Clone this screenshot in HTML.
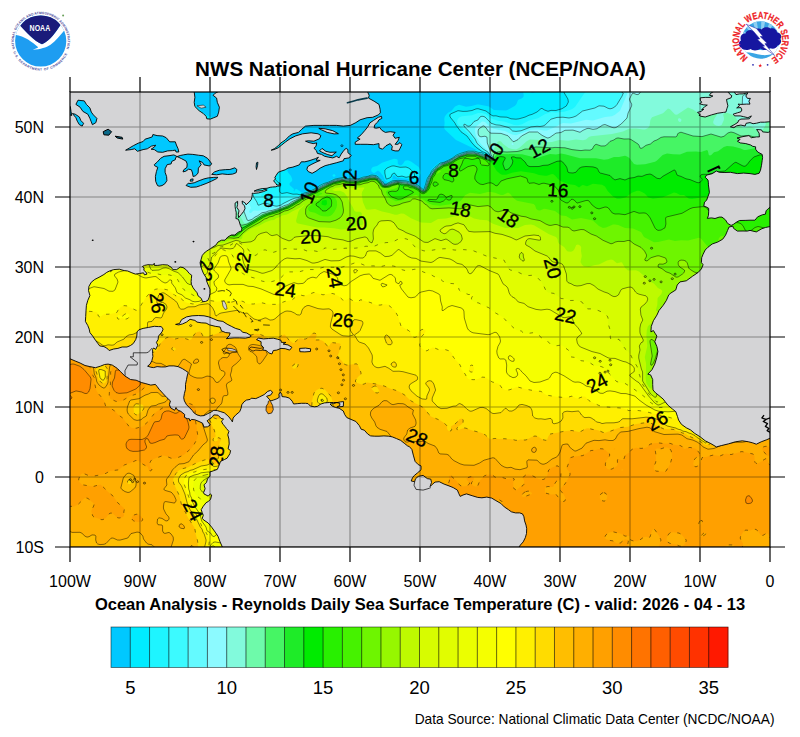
<!DOCTYPE html><html><head><meta charset="utf-8"><title>SST</title><style>html,body{margin:0;padding:0;background:#fff}svg{display:block}text{font-family:"Liberation Sans",sans-serif}</style></head><body>
<svg width="800" height="737" viewBox="0 0 800 737">
<rect width="800" height="737" fill="#fff"/>
<defs><clipPath id="mc"><rect x="70" y="92" width="700" height="455"/></clipPath></defs>
<g clip-path="url(#mc)">
<rect x="70" y="92" width="700" height="455" fill="#d4d4d6"/>
<rect x="60" y="82" width="720" height="475" fill="#00c8ff"/>
<path d="M50.0 72.0L193.7 72.0L194.1 80.0L193.5 87.0L194.6 103.0L196.7 107.0L205.0 114.5L213.0 118.0L218.0 119.3L222.0 121.7L227.0 122.2L230.0 121.3L236.2 118.0L249.0 108.5L252.0 109.5L257.0 113.4L263.0 112.9L266.2 114.0L267.4 115.0L267.6 116.0L266.5 118.0L266.3 120.0L267.0 121.2L269.0 122.6L271.0 122.9L274.0 122.0L273.8 121.0L273.0 120.5L270.8 117.0L272.0 115.9L274.0 116.5L274.8 119.0L274.0 122.0L279.0 126.3L282.0 131.7L286.0 134.0L286.4 135.0L285.8 141.0L282.4 147.0L282.9 149.0L286.4 154.0L287.1 159.0L288.5 163.0L287.3 169.0L287.4 171.0L288.4 173.0L291.0 176.0L292.2 179.0L292.1 181.0L289.7 183.0L289.6 185.0L294.0 189.0L293.6 191.0L294.0 191.6L294.8 191.0L294.4 190.0L296.0 189.1L297.0 189.3L302.0 192.7L308.0 191.3L316.0 187.4L320.0 184.5L324.0 182.5L327.3 182.0L334.0 178.3L339.0 178.0L343.0 176.7L347.0 178.1L359.0 178.1L362.0 176.6L367.0 175.9L370.0 174.3L375.0 174.2L377.0 175.1L381.0 178.6L383.4 181.0L384.3 183.0L386.0 183.2L387.7 182.0L385.0 180.4L383.0 175.7L380.0 171.9L378.0 170.6L374.0 173.2L371.9 172.0L371.3 171.0L371.2 169.0L372.8 167.0L377.0 166.0L382.0 162.7L394.0 158.8L397.0 159.2L397.6 160.0L397.9 164.0L400.0 165.5L401.6 165.0L402.8 164.0L405.0 160.8L408.0 160.3L411.0 161.4L418.7 167.0L420.3 170.0L420.8 173.0L419.7 176.0L417.4 179.0L414.0 181.3L413.0 181.3L408.0 178.9L397.0 177.7L394.0 175.2L393.0 176.0L392.0 179.4L409.0 180.4L410.0 181.2L414.0 182.2L418.0 184.3L423.0 188.5L424.0 188.1L424.6 184.0L426.0 181.3L426.5 178.0L429.4 174.0L430.4 171.0L434.0 166.8L439.0 162.6L443.0 161.7L447.3 160.0L451.4 158.0L456.0 154.5L460.0 152.7L464.0 152.0L467.0 150.5L476.9 150.0L456.0 139.9L445.3 130.0L444.1 128.0L444.6 123.0L444.3 119.0L444.6 117.0L445.9 115.0L448.0 112.8L451.4 111.0L455.0 106.6L459.0 104.8L466.0 106.7L471.6 106.0L477.0 104.4L479.0 104.4L489.0 106.6L494.0 109.9L506.0 110.4L508.0 109.7L515.0 105.7L516.5 104.0L518.0 100.1L522.0 98.3L523.4 97.0L523.7 95.0L522.9 91.0L524.8 85.0L524.2 81.0L525.2 77.0L524.7 72.0L790.0 72.0L790.0 568.0L50.0 568.0L50.0 72.0ZM534.0 89.0L531.9 90.0L531.0 92.0L531.8 93.0L535.5 92.0L536.9 91.0L536.6 90.0L534.0 89.0ZM332.6 175.0L334.0 174.1L335.4 175.0L335.5 176.0L334.0 177.0L332.5 176.0L332.6 175.0Z" fill="#00ebff" fill-rule="evenodd"/>
<path d="M50.0 72.0L187.3 72.0L184.9 78.0L184.8 81.0L186.1 88.0L188.4 95.0L189.7 107.0L191.2 110.0L200.0 116.0L207.0 123.0L215.0 127.7L219.0 128.6L227.0 128.5L237.0 130.1L241.0 130.0L246.0 132.1L251.0 131.7L254.2 133.0L257.0 137.6L260.0 141.0L261.1 146.0L264.2 150.0L264.2 153.0L262.2 158.0L262.5 161.0L264.0 163.5L271.5 171.0L272.6 176.0L273.7 178.0L279.8 184.0L279.3 190.0L279.7 192.0L282.0 193.5L287.0 192.6L293.0 194.2L297.0 194.1L300.0 194.8L308.0 192.1L316.0 188.2L320.0 185.4L324.0 183.4L328.0 182.3L335.0 179.0L343.0 177.5L348.0 178.7L359.0 178.6L363.0 177.1L368.0 176.3L372.0 175.0L376.0 175.5L378.0 176.8L382.4 181.0L384.5 184.0L386.1 184.0L392.0 181.0L394.0 180.6L406.0 180.9L414.0 183.3L418.0 185.2L423.0 189.3L424.0 189.3L427.4 178.0L430.2 174.0L431.5 171.0L435.0 167.2L440.0 163.1L444.0 162.2L448.0 160.4L452.0 158.3L456.0 155.3L460.0 153.5L468.0 151.1L475.0 151.2L478.0 152.3L482.0 152.8L484.0 154.3L488.4 156.0L488.0 154.6L486.0 153.0L482.0 151.5L475.7 147.0L472.0 143.0L467.0 136.0L461.0 131.8L450.1 117.0L449.8 115.0L450.4 114.0L458.0 110.7L463.0 111.4L467.0 111.3L472.0 110.5L476.0 108.9L478.0 108.7L486.0 111.0L491.0 114.9L493.0 115.9L496.0 115.8L500.0 116.9L507.0 117.2L511.0 118.8L516.0 119.2L525.0 117.1L532.0 114.4L537.0 112.0L541.0 108.6L542.0 108.4L544.5 110.0L548.0 111.3L551.0 110.4L556.0 110.5L562.0 108.7L566.3 106.0L568.4 102.0L567.9 99.0L564.3 93.0L563.7 91.0L565.3 85.0L564.3 79.0L565.5 77.0L568.6 75.0L569.5 72.0L574.9 72.0L570.5 76.0L570.5 78.0L572.0 78.8L575.0 76.7L576.0 74.3L576.1 72.0L790.0 72.0L790.0 568.0L50.0 568.0L50.0 72.0ZM391.9 166.0L394.0 165.9L400.0 167.3L406.0 167.0L408.5 168.0L411.0 169.7L414.0 173.1L414.6 175.0L414.0 178.2L413.0 178.4L409.0 176.7L406.0 177.3L402.0 176.1L398.0 176.7L396.7 176.0L395.0 173.4L394.0 173.1L392.3 174.0L391.0 177.0L390.0 177.8L386.8 179.0L386.0 178.6L384.8 173.0L384.9 170.0L387.0 168.0L391.9 166.0Z" fill="#1ef5ff" fill-rule="evenodd"/>
<path d="M50.0 72.0L175.8 72.0L175.7 79.0L178.4 85.0L180.0 92.8L181.8 98.0L182.6 109.0L185.1 113.0L188.0 116.0L197.0 122.6L202.0 129.1L217.0 136.2L225.0 142.0L231.0 144.5L236.0 148.2L243.8 151.0L250.0 155.9L251.8 159.0L256.0 173.0L257.4 175.0L262.6 179.0L265.5 188.0L264.8 191.0L261.1 195.0L261.0 196.1L262.0 197.1L263.0 197.1L266.0 195.8L269.0 195.7L275.0 197.9L278.0 198.2L289.0 196.7L294.0 196.3L298.0 196.6L300.0 196.0L304.0 193.8L308.0 192.6L316.0 188.8L324.0 184.1L328.0 182.8L335.0 179.5L343.0 178.1L348.0 179.2L359.0 179.1L363.0 177.6L372.0 175.5L375.0 175.8L378.0 177.4L381.8 181.0L384.0 184.2L386.0 184.4L394.0 181.2L398.0 180.9L406.0 181.5L413.0 183.6L418.0 185.8L423.0 189.9L424.0 190.0L424.7 189.0L428.1 178.0L434.0 169.0L440.0 163.8L448.0 160.9L452.0 158.9L456.0 155.9L467.0 151.9L473.0 151.6L481.0 153.4L489.6 158.0L491.2 158.0L488.0 153.2L481.6 150.0L477.0 146.0L475.2 144.0L473.4 140.0L470.0 135.3L464.8 130.0L460.0 126.6L457.6 124.0L457.1 122.0L457.3 120.0L459.0 117.4L462.0 116.3L472.0 115.3L478.0 113.1L482.0 113.1L486.0 114.2L491.0 118.2L494.0 119.6L498.0 120.7L504.0 121.5L514.0 124.9L518.0 125.2L522.0 124.2L529.0 120.6L538.0 118.2L545.2 114.0L551.6 112.0L556.0 112.6L564.0 111.7L569.0 110.3L572.2 109.0L575.0 107.0L584.0 93.8L586.7 91.0L587.4 88.0L589.9 83.0L591.1 72.0L790.0 72.0L790.0 568.0L50.0 568.0L50.0 72.0Z" fill="#3cfaff" fill-rule="evenodd"/>
<path d="M50.0 72.0L166.9 72.0L169.6 80.0L169.8 87.0L170.7 91.0L170.5 93.0L168.6 98.0L168.9 105.0L169.5 107.0L176.0 118.3L188.2 124.0L190.3 126.0L195.7 134.0L199.0 137.7L202.0 139.4L214.0 143.7L216.6 146.0L219.8 150.0L230.2 159.0L236.0 165.9L242.6 169.0L246.6 178.0L249.4 187.0L252.0 191.1L253.7 197.0L256.9 202.0L258.0 205.1L259.0 205.1L263.0 203.5L266.0 203.3L277.0 206.2L281.2 205.0L291.0 199.6L295.0 198.1L298.0 197.7L304.0 194.4L308.0 193.1L316.0 189.2L325.0 184.1L335.0 180.0L342.0 178.7L349.0 179.6L358.0 179.6L371.0 176.2L374.0 176.1L376.0 176.6L379.0 178.8L384.0 184.6L386.0 184.8L393.0 181.9L396.0 181.4L406.0 182.0L414.0 184.5L418.0 186.4L422.5 190.0L424.0 190.4L425.2 189.0L428.6 178.0L434.6 169.0L440.0 164.4L448.8 161.0L457.0 156.0L467.0 152.4L473.0 152.1L482.0 154.4L489.0 158.2L491.0 158.5L492.1 158.0L488.0 152.1L483.0 148.9L477.0 143.3L475.1 139.0L469.6 132.0L464.7 127.0L463.6 125.0L464.0 124.3L465.0 124.3L468.0 126.3L470.0 125.9L474.0 121.5L477.9 120.0L480.0 117.0L481.0 116.4L483.0 116.3L485.0 117.0L491.0 123.2L496.0 124.9L500.0 125.2L508.0 127.4L509.4 128.0L512.6 131.0L516.0 131.4L521.0 130.8L531.0 126.9L543.1 126.0L545.1 125.0L551.0 119.2L557.0 117.4L563.0 117.2L569.0 118.0L573.0 117.2L576.1 116.0L582.6 111.0L594.8 108.0L599.0 105.8L604.0 106.2L610.0 108.8L614.7 107.0L617.0 104.5L622.1 96.0L623.3 93.0L620.0 90.9L616.5 84.0L615.0 82.2L608.1 80.0L605.2 74.0L604.8 72.0L790.0 72.0L790.0 568.0L50.0 568.0L50.0 72.0ZM463.8 121.0L465.0 121.0L465.1 121.0L464.0 121.5L463.8 121.0Z" fill="#64faff" fill-rule="evenodd"/>
<path d="M50.0 72.0L157.1 72.0L156.6 77.0L159.0 81.1L159.7 84.0L157.4 93.0L157.3 97.0L160.9 103.0L163.3 112.0L167.0 118.4L169.2 124.0L172.0 126.8L182.0 130.6L183.9 132.0L186.4 137.0L190.0 140.0L195.0 146.3L199.0 148.4L206.6 151.0L217.0 158.1L222.9 164.0L226.3 170.0L230.7 174.0L235.5 180.0L239.6 187.0L243.9 197.0L249.5 204.0L250.9 208.0L249.2 211.0L249.1 212.0L250.0 213.1L251.0 213.0L253.0 210.9L254.0 210.6L258.0 210.8L262.0 209.9L271.0 209.7L274.0 208.6L278.0 208.0L284.0 204.8L287.5 204.0L292.0 200.7L298.0 198.4L305.0 194.5L312.0 191.6L325.0 184.6L335.0 180.5L342.0 179.1L349.0 180.1L358.0 180.0L371.0 176.7L374.0 176.6L378.0 178.4L384.0 185.0L386.5 185.0L393.0 182.4L397.0 181.6L406.0 182.5L414.0 184.9L418.0 186.9L422.0 190.1L424.0 190.7L425.5 189.0L429.1 178.0L435.0 169.1L441.0 164.4L449.0 161.3L457.0 156.4L467.0 152.9L472.0 152.5L475.0 152.8L481.0 154.5L489.0 158.6L491.0 158.9L492.5 158.0L490.4 155.0L489.0 151.7L480.8 144.0L476.5 137.0L475.4 134.0L474.8 130.0L475.6 127.0L482.0 121.6L483.0 121.4L485.0 122.1L489.0 126.1L493.0 128.5L499.0 130.1L505.0 131.1L512.0 134.6L516.0 135.2L531.0 129.8L538.0 129.5L544.0 130.6L547.0 130.4L556.0 126.8L561.0 123.7L563.0 123.0L571.0 123.5L586.0 119.8L593.0 120.5L605.0 117.0L612.0 116.3L615.0 114.8L620.0 110.8L627.2 94.0L627.8 91.0L627.2 87.0L627.2 81.0L627.9 79.0L630.0 76.0L630.2 72.0L790.0 72.0L790.0 568.0L50.0 568.0L50.0 72.0Z" fill="#8cfaff" fill-rule="evenodd"/>
<path d="M50.0 72.0L137.1 72.0L139.7 78.0L141.4 85.0L140.5 94.0L140.8 97.0L143.0 100.9L147.2 105.0L147.9 111.0L149.2 114.0L153.3 118.0L159.1 122.0L166.0 131.7L170.6 136.0L174.0 141.0L180.2 144.0L185.0 149.6L189.8 152.0L197.6 158.0L203.0 160.5L204.6 162.0L207.0 166.3L208.6 168.0L216.0 171.9L219.8 175.0L221.6 178.0L223.6 187.0L225.6 189.0L231.0 191.7L233.0 193.8L238.2 204.0L243.0 209.0L247.2 220.0L248.0 220.7L252.0 219.4L262.0 212.7L266.0 212.1L268.0 211.1L278.0 208.7L284.0 205.7L288.0 204.5L292.0 201.7L316.0 190.1L325.0 185.1L334.0 181.3L342.0 179.5L349.0 180.5L357.0 180.5L371.0 177.1L374.0 177.1L376.0 177.5L378.0 178.8L384.0 185.3L387.0 185.2L393.0 182.8L397.0 182.0L406.0 183.0L414.0 185.4L418.0 187.3L422.0 190.5L424.0 191.0L425.9 189.0L429.6 178.0L435.0 169.6L441.0 164.9L449.0 161.7L457.0 156.9L467.0 153.3L473.0 153.0L482.0 155.4L489.0 159.0L492.0 159.0L492.9 158.0L492.7 157.0L491.1 155.0L490.3 151.0L487.3 143.0L487.0 137.2L485.0 136.2L481.0 136.8L480.0 136.5L479.0 135.9L478.2 134.0L478.1 131.0L478.7 129.0L483.0 125.9L484.0 125.9L486.0 127.8L488.0 130.8L491.0 133.2L501.0 133.4L508.0 135.8L513.0 141.6L518.0 139.6L521.5 136.0L529.1 132.0L537.5 132.0L542.0 135.3L548.0 138.0L550.0 137.3L556.0 133.1L561.0 132.5L565.0 130.3L573.0 130.1L580.0 132.3L587.0 128.5L589.0 128.4L593.0 129.4L597.0 128.7L602.8 125.0L605.0 124.5L612.0 127.4L616.0 127.5L621.2 124.0L627.0 118.0L628.1 113.0L631.6 106.0L631.7 104.0L629.9 101.0L629.4 99.0L632.0 94.0L633.0 93.1L637.0 94.7L639.0 94.1L640.5 92.0L641.9 88.0L646.0 84.5L647.0 83.0L647.5 81.0L647.1 79.0L643.5 72.0L790.0 72.0L790.0 568.0L50.0 568.0L50.0 72.0ZM512.0 142.9L511.6 144.0L511.9 145.0L513.7 145.0L513.0 142.8L512.0 142.9ZM744.0 94.8L742.5 97.0L742.3 105.0L743.4 107.0L746.0 109.8L748.0 111.0L749.0 111.0L751.0 109.3L752.5 106.0L753.7 102.0L753.4 99.0L752.0 96.3L750.0 94.9L747.0 94.4L744.0 94.8Z" fill="#82fadc" fill-rule="evenodd"/>
<path d="M50.0 72.0L119.4 72.0L120.0 74.9L123.3 81.0L128.0 84.5L129.2 86.0L130.1 93.0L131.8 100.0L133.0 101.9L136.4 105.0L136.8 107.0L135.3 113.0L135.0 118.0L135.7 120.0L138.6 124.0L139.0 130.0L139.8 132.0L143.0 134.1L152.0 134.0L155.0 135.2L160.0 141.0L166.0 143.7L171.0 149.5L178.4 155.0L182.9 160.0L190.0 163.2L198.0 168.0L201.0 171.1L204.1 177.0L209.0 181.6L214.4 189.0L224.0 196.4L228.3 201.0L233.0 208.0L239.0 214.0L243.5 222.0L244.4 223.0L246.0 223.3L252.0 220.6L262.0 213.9L278.0 209.2L288.0 205.2L292.0 202.4L304.0 196.0L316.0 190.5L325.0 185.6L334.0 181.7L342.0 179.8L349.0 180.9L357.0 180.9L370.0 177.7L374.0 177.5L376.0 178.0L378.0 179.2L382.9 185.0L384.0 185.6L387.0 185.5L393.0 183.2L398.0 182.3L407.0 183.6L414.0 185.8L418.0 187.8L422.0 190.9L424.0 191.4L426.2 189.0L430.0 178.0L433.6 172.0L436.1 169.0L440.2 166.0L451.0 161.2L459.0 156.4L468.0 153.6L476.0 153.9L482.0 155.8L489.0 159.3L492.0 159.4L493.3 158.0L491.8 155.0L492.0 152.3L497.5 142.0L499.0 140.9L501.0 141.4L503.1 144.0L508.6 148.0L512.0 149.1L516.0 149.4L519.1 148.0L527.0 141.0L530.0 139.6L540.0 140.0L548.0 142.2L552.0 141.9L559.0 139.9L568.0 140.8L576.0 139.4L583.0 140.3L586.0 139.4L588.9 137.0L591.0 136.2L612.0 133.9L623.0 131.5L629.0 128.7L636.0 128.4L643.0 129.6L645.0 129.5L648.0 128.0L649.5 126.0L650.4 120.0L652.0 117.3L663.0 113.3L668.0 108.6L670.0 109.2L675.0 114.5L677.0 114.8L688.0 107.6L693.0 109.5L699.0 113.7L702.0 114.7L704.0 114.1L709.0 110.0L714.0 109.1L716.0 109.6L717.3 112.0L717.4 114.0L714.2 119.0L713.1 122.0L713.7 124.0L716.0 125.4L719.0 126.0L721.6 125.0L723.9 120.0L724.0 118.0L723.2 115.0L723.4 114.0L725.0 112.9L727.0 112.7L733.0 115.0L735.0 116.4L740.0 125.0L742.0 127.3L744.0 127.9L749.0 126.6L751.0 126.6L754.0 127.9L758.0 131.0L760.0 131.6L762.5 130.0L765.2 126.0L765.9 123.0L765.4 119.0L766.0 118.3L775.0 117.0L777.0 115.8L781.0 111.4L783.0 110.6L784.5 111.0L786.8 116.0L790.0 118.5L790.0 568.0L50.0 568.0L50.0 72.0ZM679.0 118.1L678.1 119.0L677.9 120.0L679.0 121.7L680.0 122.0L681.0 121.6L681.5 120.0L681.0 118.9L679.0 118.1ZM770.8 109.0L772.3 109.0L773.2 110.0L773.3 111.0L772.0 113.1L770.0 113.6L769.0 113.2L768.4 112.0L769.4 110.0L770.8 109.0Z" fill="#6efaaa" fill-rule="evenodd"/>
<path d="M50.0 72.0L87.4 72.0L90.4 79.0L92.0 81.4L97.0 84.8L100.0 88.4L104.0 90.7L105.1 92.0L110.0 104.2L113.6 109.0L115.8 116.0L118.0 118.6L122.0 121.5L125.0 127.0L130.0 133.1L146.0 145.3L154.0 148.0L159.8 151.0L166.0 158.7L172.0 160.5L179.0 168.4L187.0 174.9L192.9 179.0L199.0 182.1L207.0 189.4L212.0 195.0L218.0 199.1L224.4 206.0L228.0 211.0L233.0 215.3L239.8 224.0L240.8 225.0L242.0 225.2L247.0 224.1L263.0 214.4L278.0 209.8L288.0 205.7L304.9 196.0L316.0 190.9L325.1 186.0L334.0 182.0L342.0 180.2L349.0 181.3L357.0 181.3L370.0 178.1L374.0 177.9L376.0 178.3L378.0 179.6L382.5 185.0L384.0 185.9L387.0 185.9L393.0 183.7L398.0 182.6L402.0 183.7L408.0 184.3L414.0 186.2L418.0 188.2L422.0 191.3L424.0 191.7L425.2 191.0L426.6 189.0L431.0 177.0L434.7 171.0L436.6 169.0L442.6 165.0L451.0 161.6L459.0 156.8L467.0 154.2L472.0 153.9L476.0 154.3L482.0 156.3L488.0 159.3L491.0 159.8L493.2 159.0L493.7 158.0L493.3 155.0L495.0 153.0L497.0 152.1L500.0 151.6L507.0 152.0L517.0 151.5L525.0 149.0L532.0 149.1L534.0 147.4L536.0 146.9L552.0 147.8L565.0 147.8L572.0 149.6L581.0 150.6L585.0 150.0L590.0 150.2L592.4 149.0L594.0 145.8L596.0 144.2L601.0 146.0L605.0 145.9L606.6 145.0L610.0 141.4L614.0 139.9L616.0 138.4L618.0 137.9L624.0 139.0L629.0 138.9L631.0 139.5L638.0 144.0L640.0 148.0L641.0 148.3L642.0 148.2L646.0 145.3L650.4 144.0L654.0 141.0L657.0 139.9L661.0 137.4L664.0 136.8L676.0 136.9L677.0 136.0L677.6 134.0L678.5 133.0L681.0 132.2L693.0 136.0L702.0 136.6L711.0 134.0L721.0 137.1L724.0 136.3L728.0 132.9L731.0 132.0L734.0 132.7L741.0 136.0L749.0 135.4L757.0 137.6L779.0 132.6L790.0 132.9L790.0 568.0L50.0 568.0L50.0 72.0Z" fill="#46f564" fill-rule="evenodd"/>
<path d="M50.0 72.0L58.0 72.0L58.0 78.0L59.0 80.4L62.0 81.9L68.0 82.1L70.0 83.2L71.4 85.0L70.9 87.0L66.4 91.0L64.6 94.0L64.0 101.3L61.3 106.0L62.0 108.2L67.0 110.0L72.0 112.8L76.0 113.3L82.0 112.2L88.0 112.6L89.1 112.0L91.4 108.0L93.0 106.8L96.0 106.8L98.0 107.9L99.5 111.0L99.1 119.0L102.5 126.0L105.0 128.3L111.0 130.9L113.0 132.4L118.0 138.1L122.8 142.0L126.0 148.1L129.0 149.9L138.0 152.2L140.2 154.0L145.0 159.9L153.0 163.0L161.0 169.2L166.0 172.0L178.0 182.3L184.0 185.4L190.0 186.0L192.0 187.0L196.1 191.0L201.0 194.0L205.0 198.6L211.1 202.0L220.4 212.0L228.3 218.0L235.0 226.2L237.0 227.4L239.0 227.9L247.0 224.9L263.0 215.2L278.0 210.3L288.0 206.3L305.0 196.4L333.0 182.8L342.0 180.5L349.0 181.8L357.0 181.8L370.0 178.5L375.0 178.4L377.9 180.0L382.0 185.0L384.0 186.2L387.0 186.2L398.0 182.9L402.0 184.3L408.0 184.7L414.0 186.7L418.0 188.7L422.0 191.7L424.0 192.0L426.5 190.0L430.8 178.0L435.0 171.3L437.0 169.2L443.0 165.2L451.2 162.0L459.5 157.0L467.0 154.6L476.0 154.7L482.0 156.7L488.0 159.8L491.0 160.2L493.0 159.8L493.9 159.0L495.0 156.1L496.0 155.4L498.0 154.3L500.0 154.0L522.0 154.3L537.0 158.0L550.0 154.0L556.0 154.5L561.0 153.6L565.0 154.2L580.0 158.2L596.0 158.2L604.0 159.7L608.0 159.2L614.0 156.9L619.0 156.9L625.0 155.8L627.0 156.4L629.4 158.0L634.0 164.1L637.0 164.8L645.0 164.3L655.0 161.7L657.0 160.5L662.7 155.0L667.0 153.4L673.0 154.3L680.0 154.5L687.0 151.8L696.0 151.5L701.0 152.1L707.0 150.1L707.9 151.0L708.8 155.0L710.0 155.4L711.3 155.0L714.0 152.3L718.0 151.3L723.8 147.0L727.0 146.0L733.0 146.5L740.0 148.3L744.0 149.9L746.0 150.0L763.0 146.6L767.0 143.8L769.0 143.3L774.0 144.2L779.0 146.1L786.0 146.9L790.0 148.9L790.0 568.0L50.0 568.0L50.0 72.0Z" fill="#1eeb28" fill-rule="evenodd"/>
<path d="M50.0 120.0L51.0 120.0L52.4 121.0L53.7 123.0L54.2 125.0L53.0 127.7L50.0 129.2L50.0 120.0ZM75.4 136.0L78.0 135.3L81.0 138.2L87.0 138.3L89.0 139.0L91.8 141.0L94.0 143.9L95.5 145.0L101.0 145.1L108.0 147.2L111.7 150.0L117.0 152.7L121.0 157.0L129.4 160.0L141.0 171.2L151.0 175.0L153.9 179.0L158.0 181.7L160.2 185.0L162.3 187.0L174.0 191.0L179.0 194.5L188.0 198.1L196.0 204.3L208.0 209.1L215.0 215.9L225.0 222.6L231.1 229.0L232.7 233.0L234.0 234.2L235.0 233.9L240.8 229.0L263.0 215.9L277.0 211.2L288.0 206.9L302.0 198.5L325.0 187.0L334.0 182.8L342.0 180.9L349.0 182.2L357.0 182.2L370.0 178.9L375.0 178.8L377.4 180.0L380.0 182.6L382.0 185.6L384.0 186.6L388.0 186.4L398.0 183.3L401.0 184.8L407.0 184.9L414.0 187.1L418.0 189.1L422.0 192.2L424.0 192.5L426.1 191.0L427.6 189.0L431.3 178.0L437.0 169.7L443.0 165.7L447.0 164.5L452.0 162.1L456.0 159.2L460.0 157.2L467.0 155.0L476.0 155.2L482.0 157.1L488.0 160.3L491.0 160.9L494.0 160.3L499.0 156.8L504.4 157.0L505.3 158.0L505.0 159.0L503.3 162.0L502.9 164.0L504.6 169.0L505.0 169.7L506.0 169.9L508.0 169.2L510.0 167.5L512.2 164.0L512.9 161.0L511.4 158.0L511.6 157.0L513.0 156.7L516.0 157.8L520.7 158.0L525.1 162.0L527.0 165.1L530.0 166.6L539.0 166.5L543.0 165.4L548.0 165.1L557.0 161.3L561.0 160.9L562.7 162.0L566.0 166.0L567.9 172.0L570.0 173.0L573.0 173.0L576.0 172.2L579.0 168.4L581.8 167.0L586.0 166.5L594.0 167.1L597.0 168.2L598.3 171.0L600.2 173.0L610.0 175.5L613.4 179.0L615.0 179.9L620.0 178.6L625.0 180.0L629.0 178.2L634.0 177.6L638.0 176.1L642.0 176.4L646.0 174.7L650.0 174.0L652.0 174.8L657.0 178.3L660.0 178.7L663.0 176.2L674.0 170.0L675.6 171.0L677.0 175.0L686.0 178.8L690.0 179.6L698.0 182.8L700.0 182.3L702.2 180.0L702.1 179.0L700.0 176.0L701.0 174.8L708.0 174.4L718.0 171.7L725.0 171.0L733.0 163.9L736.0 162.3L743.0 166.0L745.0 166.3L747.0 164.8L749.8 161.0L754.0 156.9L759.0 154.9L761.0 154.8L763.0 155.5L767.0 160.1L768.8 163.0L768.8 165.0L766.5 172.0L766.8 174.0L769.0 176.0L773.0 177.1L776.0 176.7L777.8 175.0L780.0 171.0L782.0 170.4L785.0 170.7L790.0 172.2L790.0 568.0L50.0 568.0L50.0 138.6L58.0 137.0L63.0 138.9L69.0 139.1L72.0 138.2L75.4 136.0Z" fill="#00eb00" fill-rule="evenodd"/>
<path d="M79.1 153.0L81.0 152.3L83.0 153.7L86.3 159.0L87.6 164.0L89.0 165.7L92.0 166.3L98.0 163.9L105.0 162.1L107.0 162.2L115.0 168.0L119.5 175.0L123.0 177.8L127.0 179.8L138.0 183.6L144.0 189.9L151.0 190.5L160.0 194.4L167.0 196.0L178.0 202.7L191.0 212.0L199.0 214.4L211.0 221.4L217.0 222.9L220.0 224.3L229.0 231.2L231.7 234.0L234.0 235.2L236.7 234.0L244.1 228.0L263.0 216.7L288.0 207.5L302.0 199.0L316.0 192.4L326.0 187.0L334.0 183.2L339.0 182.4L342.0 181.3L344.0 181.3L348.0 182.6L357.0 182.7L367.0 180.5L370.0 179.3L375.0 179.2L378.0 181.0L381.9 186.0L383.0 186.7L388.0 186.8L398.0 183.7L401.0 186.0L407.0 185.4L414.0 187.6L418.0 189.7L422.0 192.7L424.0 192.9L426.7 191.0L428.7 188.0L431.8 178.0L437.2 170.0L443.3 166.0L448.0 164.7L452.0 162.7L456.0 159.7L460.0 157.8L468.0 155.5L476.0 155.7L478.0 156.8L482.0 157.7L486.7 160.0L491.5 163.0L496.8 171.0L500.0 173.8L502.0 174.7L506.0 174.7L513.0 172.6L521.0 171.3L534.0 173.2L539.0 174.9L545.0 175.8L547.0 175.8L551.0 174.2L553.0 173.9L555.0 175.5L558.0 179.1L561.0 181.3L569.0 184.3L575.0 185.0L579.0 187.6L582.0 185.3L583.0 185.0L587.0 186.3L593.0 183.7L602.0 184.8L605.0 186.6L607.7 191.0L613.0 196.6L617.0 198.8L620.0 198.7L626.0 197.2L631.4 193.0L637.0 190.7L639.0 190.8L642.0 192.0L645.0 193.8L648.0 197.3L653.0 198.7L663.0 197.3L674.0 192.5L676.4 193.0L680.0 195.1L684.0 195.1L689.0 198.7L692.0 198.9L707.0 196.4L710.2 195.0L713.5 192.0L716.0 191.5L728.0 195.0L730.0 194.9L734.0 193.6L737.0 193.9L740.4 197.0L741.3 201.0L744.0 204.5L752.8 211.0L759.0 211.9L761.1 211.0L762.1 209.0L761.2 207.0L754.4 198.0L754.0 192.0L755.0 189.7L759.0 187.6L772.0 194.1L774.0 193.6L778.0 190.9L780.0 190.7L782.0 191.6L783.5 193.0L784.8 197.0L784.6 198.0L782.0 200.4L781.3 202.0L781.0 205.0L781.8 207.0L784.0 208.6L790.0 207.3L790.0 568.0L50.0 568.0L50.0 161.7L55.0 161.4L62.0 164.0L64.0 164.1L65.0 163.6L69.0 158.5L79.1 153.0ZM325.0 200.0L322.0 200.7L321.4 204.0L322.0 204.8L325.0 205.5L326.0 205.2L327.0 204.0L326.8 201.0L326.3 200.0L325.0 200.0Z" fill="#28f000" fill-rule="evenodd"/>
<path d="M465.6 157.0L467.0 156.4L474.0 156.2L476.0 156.6L478.0 157.9L481.0 158.0L486.0 160.4L489.2 164.0L489.0 165.1L488.0 165.8L481.7 165.0L480.6 164.0L480.0 160.0L479.0 158.6L478.0 158.2L472.0 159.5L468.0 158.5L465.0 158.3L463.2 160.0L459.4 169.0L459.3 170.0L460.0 171.0L462.0 170.5L468.0 166.6L473.0 165.4L475.4 166.0L476.9 168.0L477.0 170.0L474.9 176.0L474.8 179.0L476.9 182.0L480.0 184.1L483.0 184.6L488.0 183.0L491.0 182.8L496.0 185.8L497.0 185.7L498.0 185.0L501.0 181.0L507.0 178.8L520.4 176.0L526.5 178.0L527.2 179.0L528.0 182.2L529.0 183.3L534.0 182.8L539.0 184.5L544.0 183.2L554.0 185.5L558.1 190.0L559.7 193.0L560.3 195.0L560.1 199.0L561.0 200.1L566.0 202.9L568.0 202.9L572.0 199.1L574.2 200.0L577.0 203.1L586.0 200.5L588.0 200.4L589.0 201.0L592.1 205.0L596.0 208.0L599.0 208.9L605.0 207.0L607.0 207.2L608.4 208.0L612.3 213.0L615.0 214.0L619.0 213.9L625.0 214.7L634.0 211.4L639.0 213.2L646.0 213.3L648.0 215.0L650.2 218.0L655.0 228.0L658.0 230.4L661.0 230.1L665.0 227.8L665.9 224.0L665.6 218.0L666.4 217.0L682.0 213.3L690.0 208.7L693.0 207.6L703.0 206.6L706.0 207.2L709.0 211.2L712.0 213.3L714.0 213.8L719.0 213.6L730.0 220.8L734.0 222.3L739.0 222.9L741.0 223.8L743.0 225.7L745.1 230.0L747.0 231.6L750.0 231.3L755.0 227.5L758.0 226.5L762.0 227.4L770.0 230.3L774.0 230.3L779.0 228.7L783.0 223.6L785.0 222.0L787.0 221.6L790.0 221.9L790.0 568.0L50.0 568.0L50.0 170.8L53.0 170.6L55.0 171.0L61.7 177.0L66.0 178.7L75.0 178.7L82.0 177.1L90.0 177.0L97.0 178.3L100.0 177.4L102.0 177.6L106.0 183.0L128.0 192.0L137.0 196.9L145.0 200.4L153.0 202.7L160.0 205.7L166.0 206.4L172.0 209.5L177.0 210.3L185.0 216.3L192.0 218.8L199.0 223.0L205.0 225.4L219.0 228.8L230.7 235.0L234.0 236.1L237.0 235.1L245.6 228.0L263.8 217.0L268.0 215.1L278.0 212.1L284.0 209.3L288.0 208.2L298.0 202.4L302.0 199.5L316.0 193.0L326.0 187.6L334.0 183.7L339.0 182.9L342.0 181.7L344.0 181.8L348.0 183.1L358.0 183.2L362.0 181.8L368.0 180.7L370.0 179.7L375.0 179.7L376.1 180.0L378.3 182.0L382.0 186.8L385.0 187.5L389.0 187.1L392.0 185.7L398.0 184.1L399.5 186.0L398.0 190.3L396.0 191.4L392.0 191.2L389.0 191.8L388.4 193.0L392.0 197.1L398.0 199.2L403.0 198.3L412.9 193.0L413.5 192.0L409.0 189.7L404.0 189.1L403.2 187.0L404.2 186.0L407.2 186.0L410.0 187.6L413.3 188.0L417.4 190.0L422.0 193.6L424.0 193.7L427.0 191.6L429.6 188.0L430.1 185.0L431.8 182.0L432.6 178.0L434.9 175.0L436.1 172.0L438.0 170.0L441.0 168.6L444.0 166.3L448.0 165.5L452.0 163.5L456.8 160.0L461.0 158.2L465.0 157.7L465.6 157.0ZM327.0 196.9L321.7 199.0L316.0 204.0L316.8 206.0L319.0 207.2L323.0 211.0L326.0 210.9L330.8 207.0L331.4 206.0L331.4 200.0L330.0 198.0L327.0 196.9ZM435.0 181.9L434.0 182.1L432.9 184.0L433.8 186.0L435.0 186.4L437.9 185.0L438.4 184.0L437.0 182.4L435.0 181.9ZM439.0 194.9L437.1 199.0L436.0 199.7L429.0 199.4L427.8 200.0L428.5 201.0L430.0 201.4L440.0 202.4L443.5 201.0L446.0 198.6L448.0 200.0L450.4 200.0L452.2 197.0L452.0 195.6L451.0 195.4L446.0 197.6L445.1 196.0L443.0 194.6L441.0 194.1L439.0 194.9ZM445.0 173.8L443.7 175.0L442.9 177.0L444.0 179.6L449.0 180.7L451.9 182.0L453.0 181.8L453.7 181.0L453.8 179.0L452.1 176.0L448.0 173.7L446.0 173.4L445.0 173.8Z" fill="#46f200" fill-rule="evenodd"/>
<path d="M438.5 171.0L440.0 170.6L441.3 171.0L438.0 173.5L437.0 173.4L438.5 171.0ZM368.9 181.0L372.0 180.0L376.0 180.7L379.3 184.0L381.0 186.9L383.0 187.8L390.0 187.6L392.9 186.0L398.0 184.9L398.3 186.0L397.0 187.7L393.0 189.2L388.0 190.1L386.5 191.0L386.0 192.0L386.9 195.0L390.0 198.6L396.0 201.2L403.0 200.1L410.0 196.5L416.0 195.1L417.0 195.3L419.9 198.0L424.0 199.9L427.8 203.0L433.0 205.0L440.0 205.7L454.0 203.7L458.0 202.5L461.0 200.4L465.3 195.0L470.0 192.7L480.0 193.9L488.0 192.0L491.0 191.9L495.0 192.8L501.0 195.1L503.0 194.9L508.0 192.5L510.0 193.7L513.4 198.0L517.0 200.7L533.6 204.0L535.0 205.2L536.3 209.0L538.0 210.3L540.0 210.4L544.0 208.8L546.0 208.9L555.0 211.0L561.0 215.6L566.0 216.0L572.0 219.4L581.0 218.1L592.0 220.3L594.0 221.4L599.0 226.0L603.0 227.9L606.0 227.6L613.0 224.6L615.0 224.4L618.3 225.0L625.0 228.1L633.0 228.5L641.0 232.0L644.0 237.0L654.0 242.2L658.0 242.0L669.0 239.6L675.0 241.1L681.0 240.3L688.0 240.5L699.0 237.8L701.0 238.6L707.2 246.0L712.0 248.2L716.0 251.1L718.0 251.7L720.0 251.2L721.7 250.0L723.3 247.0L723.0 244.8L719.0 242.6L718.0 241.0L719.0 237.9L721.0 236.0L722.0 235.8L729.8 239.0L731.3 243.0L732.7 245.0L737.2 249.0L740.0 250.3L745.0 250.7L750.0 251.9L754.0 251.8L759.0 255.1L763.6 255.0L767.0 254.0L768.0 253.0L768.3 251.0L767.9 247.0L769.0 245.4L771.0 244.8L774.0 245.9L778.6 250.0L782.0 251.8L790.0 253.3L790.0 568.0L50.0 568.0L50.0 185.3L54.0 185.1L59.0 188.3L64.0 189.8L68.0 192.4L70.0 192.9L72.0 192.9L77.0 190.7L82.0 189.4L87.0 190.3L95.0 189.6L105.0 192.5L111.0 192.5L115.2 195.0L121.0 200.2L136.0 209.3L138.0 209.4L142.0 208.2L144.0 208.5L149.3 211.0L157.7 216.0L170.0 218.1L179.7 224.0L189.0 225.4L200.0 230.9L217.0 233.5L224.0 235.4L234.0 237.2L238.0 236.0L247.0 228.0L256.0 223.0L260.0 220.0L264.0 217.8L268.0 215.9L278.0 213.0L284.0 209.9L288.0 209.0L292.0 207.0L296.0 204.0L299.0 202.7L302.4 200.0L315.0 194.1L316.5 194.0L316.0 196.2L318.5 196.0L320.0 194.7L322.2 194.0L322.0 193.0L320.0 192.6L319.7 192.0L334.7 184.0L339.0 183.6L343.0 182.1L347.0 183.6L359.0 183.8L363.0 182.2L367.0 181.7L368.9 181.0ZM327.0 195.0L325.0 195.6L323.6 197.0L318.0 200.5L314.0 201.2L312.0 204.5L308.6 207.0L308.1 209.0L309.0 210.8L310.0 211.7L315.0 212.8L320.0 215.5L323.0 216.3L328.0 216.5L330.0 216.0L332.0 214.7L334.3 212.0L336.4 208.0L337.1 205.0L336.9 201.0L335.3 198.0L333.0 196.3L330.0 195.1L327.0 195.0ZM318.1 193.0L319.0 192.6L319.7 193.0L319.0 193.3L318.1 193.0Z" fill="#6ef500" fill-rule="evenodd"/>
<path d="M369.6 182.0L371.0 181.3L374.0 181.4L377.0 183.5L378.8 186.0L379.4 188.0L381.4 190.0L382.4 194.0L385.0 198.0L387.0 202.8L389.5 205.0L392.0 206.2L399.0 204.7L402.9 203.0L409.0 201.6L410.5 201.0L412.6 199.0L415.0 198.8L421.9 201.0L424.7 204.0L426.5 205.0L429.7 208.0L432.0 208.8L449.0 207.9L460.0 208.8L470.0 204.9L478.0 206.6L488.0 205.6L491.0 207.0L493.5 210.0L495.1 211.0L498.0 211.8L505.0 210.1L507.0 210.2L511.0 212.8L521.0 216.2L526.0 216.9L531.0 218.9L540.0 220.6L549.0 225.3L557.0 224.6L563.0 227.1L568.0 227.2L572.0 230.3L574.0 231.0L581.0 229.5L584.0 229.7L591.0 234.0L596.4 236.0L603.0 240.3L611.0 243.8L613.0 243.3L615.0 242.1L618.0 241.4L624.0 241.5L628.0 240.4L630.0 240.7L634.1 244.0L641.0 247.4L644.5 251.0L646.6 255.0L646.3 257.0L645.0 259.0L645.0 260.4L647.0 261.0L651.0 257.7L657.0 255.9L659.0 255.8L665.6 258.0L666.9 261.0L666.0 263.0L663.0 264.2L659.0 264.0L658.2 265.0L658.1 267.0L662.0 268.7L666.0 271.8L670.0 273.2L676.0 277.2L678.1 277.0L682.5 274.0L684.7 271.0L684.4 270.0L680.0 267.1L678.3 265.0L678.1 262.0L679.0 260.9L681.0 260.1L684.0 260.3L686.0 261.3L687.3 263.0L688.7 268.0L689.5 269.0L694.0 271.9L696.0 272.6L705.0 272.0L711.0 268.6L717.0 267.2L720.0 268.3L724.0 274.0L726.0 275.0L729.0 275.3L733.0 274.6L739.0 270.1L745.0 268.4L747.0 268.4L751.0 270.1L753.0 270.4L761.0 270.2L767.0 268.9L772.0 270.1L776.0 268.9L783.0 270.6L790.0 269.3L790.0 568.0L50.0 568.0L50.0 206.7L70.0 209.1L77.0 205.8L82.0 201.3L85.0 199.7L93.0 200.2L100.0 201.5L107.0 201.8L109.4 203.0L114.0 207.4L121.0 208.9L129.8 217.0L135.0 220.4L137.0 221.0L142.0 220.8L146.0 222.5L152.0 223.1L157.0 225.9L164.0 227.6L172.0 231.2L181.0 232.7L191.0 236.0L222.0 238.8L230.0 237.8L234.0 238.3L239.0 237.4L242.9 233.0L248.0 228.7L260.0 222.2L264.6 219.0L267.0 218.3L269.0 217.0L273.0 216.2L275.0 214.9L279.0 213.9L284.5 211.0L288.0 210.3L293.0 207.8L297.0 205.0L299.0 204.3L303.0 201.0L311.0 197.5L312.5 199.0L312.8 200.0L312.5 201.0L311.0 203.1L307.2 206.0L305.7 209.0L305.6 214.0L307.1 217.0L309.0 218.1L319.0 221.6L330.0 222.0L336.0 220.2L340.0 217.9L343.2 213.0L343.5 210.0L342.2 202.0L340.0 198.0L336.4 195.0L333.0 193.8L325.7 193.0L325.1 192.0L326.0 190.0L334.9 185.0L340.0 184.4L343.0 183.4L347.0 184.7L360.0 184.8L369.6 182.0ZM651.0 339.3L650.0 340.8L650.0 342.0L652.2 356.0L650.5 364.0L651.0 365.3L652.0 365.0L653.5 363.0L655.5 358.0L658.0 349.0L657.4 346.0L655.0 342.2L653.0 340.0L651.0 339.3ZM316.7 198.0L318.0 197.7L318.8 198.0L318.0 198.9L317.0 198.9L316.7 198.0Z" fill="#96f700" fill-rule="evenodd"/>
<path d="M335.4 188.0L342.0 187.1L354.0 187.7L364.0 187.4L364.4 188.0L362.1 192.0L361.7 194.0L362.9 202.0L366.0 209.3L368.0 209.8L375.0 209.0L382.0 211.6L389.0 212.9L395.0 214.7L397.0 214.7L401.0 213.6L404.0 213.8L411.0 218.2L421.0 222.4L431.0 222.9L438.0 219.1L446.0 218.5L460.0 214.9L465.0 214.2L467.0 214.7L474.0 218.6L480.0 219.7L487.0 220.2L493.0 223.8L505.2 228.0L518.0 227.9L525.0 225.0L531.0 224.6L534.0 225.2L549.0 234.2L556.0 237.0L557.5 239.0L558.0 242.0L559.0 243.7L564.1 247.0L567.0 251.0L568.0 251.5L571.0 251.8L573.0 250.9L574.5 249.0L576.2 245.0L578.0 244.6L580.0 245.4L581.2 247.0L581.0 251.0L581.8 256.0L580.5 262.0L582.0 264.8L584.0 266.4L589.0 266.9L594.0 265.2L599.0 264.5L607.0 260.5L611.0 259.5L613.0 260.0L617.0 263.2L621.0 262.2L622.0 262.5L625.1 268.0L628.0 270.4L636.0 270.3L639.0 271.5L644.2 276.0L648.0 280.5L654.0 283.5L657.9 288.0L661.0 289.6L662.3 291.0L661.4 294.0L657.6 298.0L657.3 305.0L655.9 310.0L656.2 311.0L657.0 311.5L664.0 312.4L666.8 308.0L669.0 307.1L678.0 306.0L685.0 306.9L690.0 305.3L696.0 306.1L702.0 304.7L704.6 303.0L708.0 297.6L710.0 295.4L715.0 293.3L721.0 294.0L725.0 295.8L737.0 298.2L742.8 298.0L747.8 297.0L752.0 294.5L765.0 295.8L770.0 295.5L773.5 294.0L776.5 290.0L780.0 287.9L785.0 287.0L790.0 288.2L790.0 568.0L50.0 568.0L50.0 216.1L54.0 216.2L59.0 218.0L64.0 218.9L76.0 217.6L84.0 218.8L90.0 220.9L95.0 220.7L101.0 218.6L110.0 224.0L112.0 224.7L115.0 225.0L121.0 224.5L125.6 227.0L135.0 230.2L151.0 232.2L159.0 235.4L166.0 237.3L175.0 241.5L181.0 242.5L210.0 242.3L219.0 242.4L222.0 243.1L230.0 240.0L236.0 239.2L241.0 239.2L242.2 238.0L242.4 236.0L243.8 234.0L251.0 228.8L259.0 225.7L266.0 221.9L271.0 220.3L274.0 219.9L276.6 218.0L280.0 217.0L282.0 215.6L286.0 214.7L289.0 213.4L292.0 211.4L301.0 207.3L304.0 204.4L304.4 205.0L304.0 205.6L300.0 209.1L298.3 212.0L296.0 221.0L296.9 223.0L298.0 223.6L317.0 227.5L324.0 227.5L334.0 228.3L341.0 229.6L346.0 229.2L357.0 225.9L362.3 225.0L363.3 224.0L363.4 223.0L361.9 218.0L361.7 213.0L360.0 211.8L356.0 211.8L354.5 211.0L352.7 207.0L349.6 202.0L347.5 197.0L344.0 192.6L340.0 190.8L335.0 191.0L332.0 190.1L335.4 188.0ZM651.0 323.4L648.0 326.1L646.8 330.0L646.4 336.0L647.3 346.0L644.8 357.0L646.1 364.0L645.7 378.0L646.3 383.0L649.0 387.2L651.0 388.7L652.0 388.4L655.0 383.7L660.0 379.7L662.3 376.0L663.0 373.0L663.3 367.0L667.2 354.0L667.1 347.0L669.0 343.0L669.1 338.0L671.9 329.0L671.3 327.0L670.0 326.1L663.0 325.9L660.0 325.3L656.0 323.5L651.0 323.4Z" fill="#befa00" fill-rule="evenodd"/>
<path d="M380.2 221.0L389.0 220.4L391.0 220.9L394.2 223.0L398.0 228.6L406.0 232.6L415.0 236.1L423.8 242.0L425.0 242.3L428.0 242.4L435.0 238.6L441.0 240.7L446.0 239.0L453.0 243.9L455.0 244.4L457.6 244.0L461.0 241.6L462.3 239.0L461.4 235.0L459.0 232.1L454.0 229.5L452.0 229.1L449.6 230.0L446.0 233.3L444.0 233.8L440.9 232.0L440.1 231.0L440.1 230.0L446.0 226.1L451.0 225.6L458.0 222.9L464.0 224.8L468.0 230.7L469.0 231.4L474.0 232.0L490.0 231.6L495.0 233.3L502.0 234.4L511.0 237.4L516.0 239.9L525.0 236.0L534.0 235.0L539.0 235.7L540.3 237.0L540.6 240.0L539.0 240.2L530.0 238.6L528.0 238.9L526.7 240.0L525.8 242.0L525.5 244.0L526.0 245.0L530.0 247.2L535.0 251.0L547.1 256.0L548.4 257.0L551.0 260.6L553.0 262.0L560.0 263.1L562.1 264.0L563.6 266.0L566.4 274.0L566.8 281.0L568.0 282.6L574.0 285.4L577.0 286.0L581.0 285.6L587.0 283.6L590.0 283.5L594.0 285.6L598.0 289.1L608.0 293.2L612.0 295.9L614.0 296.6L616.0 296.4L618.4 295.0L620.9 290.0L621.9 289.0L630.0 287.1L633.0 288.3L635.5 292.0L637.0 293.3L646.0 295.9L647.6 298.0L647.2 301.0L645.0 304.0L641.1 307.0L640.3 309.0L640.9 315.0L642.8 320.0L640.7 324.0L639.9 328.0L639.9 332.0L640.3 334.0L643.3 340.0L643.0 341.7L641.0 342.8L639.3 346.0L640.0 350.0L638.8 355.0L638.7 358.0L642.6 372.0L642.6 381.0L650.7 394.0L655.0 397.4L656.1 397.0L659.6 389.0L666.6 382.0L676.5 366.0L680.4 362.0L681.6 359.0L682.3 353.0L683.6 350.0L686.7 347.0L689.0 342.9L690.0 342.2L695.0 341.2L697.3 340.0L704.0 333.0L709.0 331.5L715.0 332.9L721.0 330.4L726.0 330.7L728.0 330.1L729.2 328.0L731.4 316.0L733.0 314.3L735.0 313.5L738.0 313.6L741.0 317.0L743.0 318.2L751.0 318.1L757.0 321.4L759.0 321.9L761.0 321.2L761.8 320.0L763.6 311.0L766.0 308.7L768.0 308.6L770.0 309.2L772.0 310.6L775.0 314.2L779.0 315.9L782.0 315.3L787.0 311.4L790.0 310.3L790.0 568.0L50.0 568.0L50.0 230.2L55.0 231.0L62.0 233.9L68.0 232.3L74.0 232.4L82.0 230.7L90.0 231.1L97.0 233.1L100.0 233.3L105.0 230.5L107.0 230.1L112.0 232.7L116.0 233.8L120.3 238.0L123.0 239.5L127.0 239.9L134.0 238.9L141.0 240.1L146.0 240.1L149.0 241.0L153.0 241.4L156.0 242.6L161.0 246.4L169.0 248.1L177.0 252.3L182.0 252.9L190.0 251.7L195.0 251.7L208.0 248.3L213.0 247.9L218.0 245.5L223.0 245.1L236.0 240.3L239.0 241.0L242.0 242.7L251.0 241.8L254.5 240.0L258.0 234.9L261.0 233.4L266.0 232.1L272.0 235.7L277.0 234.6L282.0 238.2L289.0 240.9L291.8 240.0L294.0 237.5L296.0 236.9L309.0 235.6L318.0 235.7L328.0 236.7L333.0 238.5L343.0 239.9L348.0 241.6L351.0 241.2L356.0 238.9L365.0 236.9L367.3 238.0L368.9 241.0L369.9 242.0L372.0 242.9L373.4 239.0L373.0 233.0L373.5 230.0L377.1 225.0L378.6 222.0L380.2 221.0ZM521.0 252.7L519.8 254.0L519.2 257.0L522.0 260.6L523.0 261.1L524.0 260.9L524.4 260.0L523.4 257.0L523.2 254.0L522.0 252.6L521.0 252.7Z" fill="#d7fc00" fill-rule="evenodd"/>
<path d="M398.6 239.0L404.0 238.5L408.0 239.4L410.3 241.0L415.1 247.0L420.0 249.6L424.0 250.9L428.0 251.0L442.0 248.8L448.0 248.8L455.0 250.1L463.0 249.6L471.0 250.0L479.0 252.7L487.0 256.3L497.0 258.7L503.0 259.6L504.6 261.0L508.1 268.0L510.0 269.9L517.0 271.6L523.9 275.0L533.0 275.2L536.0 276.6L541.4 282.0L546.0 290.8L548.0 292.6L554.0 293.4L561.0 298.5L567.0 299.0L570.0 300.5L575.0 300.4L581.0 301.6L582.9 303.0L584.6 307.0L586.0 308.2L588.0 308.9L592.0 308.9L598.0 310.4L604.9 314.0L607.0 315.8L608.1 318.0L608.2 324.0L610.8 332.0L610.2 337.0L610.8 339.0L613.0 339.7L619.0 339.3L625.0 348.7L630.0 353.5L633.0 360.0L637.0 366.3L638.3 372.0L639.9 376.0L641.1 382.0L649.0 394.1L657.0 402.0L658.0 401.8L661.0 399.0L665.2 393.0L669.1 389.0L675.0 381.1L677.0 379.9L683.0 378.3L686.0 372.8L690.6 371.0L691.9 370.0L692.5 363.0L694.0 359.0L696.0 356.7L698.0 356.4L703.0 357.3L706.0 357.2L708.3 356.0L711.0 351.6L713.0 350.3L720.0 351.0L723.0 350.2L729.1 347.0L737.2 339.0L741.0 336.6L743.0 336.6L747.0 337.9L757.0 337.7L760.0 336.8L764.0 334.0L767.0 333.4L773.0 336.4L780.0 334.4L782.0 334.4L790.0 338.6L790.0 568.0L50.0 568.0L50.0 242.7L55.0 242.2L61.0 243.7L66.0 243.3L70.0 244.0L76.0 242.2L84.0 241.6L92.0 244.3L106.0 243.3L111.0 245.0L123.0 245.9L127.0 246.7L133.0 246.1L140.0 249.6L148.0 251.1L154.0 254.2L158.8 258.0L164.9 260.0L172.0 261.0L179.4 264.0L191.0 265.1L196.0 264.4L201.0 267.1L205.0 264.4L208.7 263.0L209.2 261.0L207.8 258.0L208.0 256.0L210.0 254.0L214.3 253.0L216.7 249.0L218.0 248.0L220.5 247.0L230.0 245.3L236.0 241.4L238.0 242.0L246.0 246.7L252.0 254.5L254.0 255.7L256.0 255.2L261.0 251.1L264.0 249.9L266.0 250.0L270.0 252.6L272.0 252.8L285.0 248.6L296.0 249.2L301.0 248.6L307.0 251.0L314.0 250.8L320.0 252.0L322.0 251.0L325.0 248.0L331.0 249.6L346.0 248.2L355.0 248.2L361.0 247.5L366.0 246.2L373.0 246.8L380.0 243.7L386.0 242.6L392.0 242.4L398.6 239.0Z" fill="#e1fd00" fill-rule="evenodd"/>
<path d="M235.9 244.0L237.0 243.7L238.0 244.4L242.2 248.0L243.6 250.0L243.8 252.0L242.6 259.0L244.0 264.0L246.8 269.0L256.0 271.2L262.0 273.3L264.0 273.1L272.0 270.5L275.1 268.0L277.4 265.0L281.6 261.0L284.3 259.0L287.0 258.0L295.0 258.8L300.0 258.5L307.0 260.6L312.0 263.0L314.0 263.1L318.0 262.3L325.0 259.4L331.0 260.9L339.0 260.7L346.0 257.1L350.0 255.9L354.0 256.2L360.0 258.0L363.0 258.0L365.4 256.0L367.0 251.6L369.0 250.9L376.0 250.9L380.3 253.0L385.0 256.6L389.0 256.3L392.0 255.3L398.0 249.7L399.0 249.5L408.0 256.5L411.8 258.0L416.0 258.4L421.0 261.1L431.0 262.5L433.0 261.8L438.0 258.1L440.0 257.4L450.0 259.0L457.0 263.3L462.0 264.4L466.1 268.0L468.5 273.0L470.0 273.9L472.0 272.9L477.0 266.2L480.0 265.6L489.0 270.4L498.0 274.0L503.0 283.8L506.1 286.0L507.8 288.0L509.2 293.0L510.4 295.0L512.0 296.7L515.0 298.3L518.3 302.0L524.0 303.4L528.0 306.7L536.0 309.4L541.0 310.0L547.0 309.2L550.0 309.7L563.0 317.5L571.1 317.0L572.0 317.8L574.4 324.0L578.0 327.8L581.6 333.0L581.6 334.0L577.7 337.0L576.6 339.0L577.3 343.0L579.0 345.9L581.0 347.2L592.0 351.6L600.0 353.5L608.0 357.8L615.0 358.4L623.0 361.4L626.0 362.0L632.0 365.1L634.3 368.0L634.3 371.0L633.8 372.0L630.6 374.0L629.8 375.0L629.9 376.0L639.0 382.7L648.6 396.0L654.8 403.0L658.0 405.1L660.0 404.6L669.2 400.0L675.5 395.0L681.0 389.6L687.0 387.4L691.0 383.6L697.0 381.2L706.0 374.9L712.4 372.0L716.6 369.0L718.6 366.0L720.0 364.9L728.0 362.6L734.0 362.5L744.0 360.8L750.0 358.7L756.0 358.5L758.0 357.0L759.8 354.0L764.0 349.3L766.0 348.1L770.0 349.2L776.0 353.4L779.0 352.9L785.0 353.3L790.0 351.3L790.0 568.0L50.0 568.0L50.0 256.9L57.0 258.6L63.0 258.7L69.0 260.5L75.0 261.1L78.0 260.9L80.0 260.2L85.0 255.7L87.0 255.0L99.0 257.8L114.0 255.5L123.0 256.9L131.0 259.4L137.0 259.7L147.0 262.7L149.1 265.0L150.7 269.0L152.0 270.4L159.0 270.0L163.0 268.1L166.0 267.8L169.0 268.6L173.4 271.0L178.0 272.6L182.5 277.0L187.0 283.2L190.0 284.7L191.3 284.0L192.0 279.8L193.5 279.0L201.0 277.2L206.0 274.4L207.0 273.3L207.5 272.0L207.5 268.0L210.6 263.0L211.7 257.0L218.3 250.0L222.0 248.1L230.0 248.9L233.0 248.4L234.7 247.0L235.9 244.0ZM209.0 476.9L203.0 480.6L201.0 483.0L200.4 485.0L200.2 489.0L202.3 492.0L206.0 492.6L211.8 492.0L210.6 479.0L211.1 477.0L209.0 476.9Z" fill="#ebff00" fill-rule="evenodd"/>
<path d="M220.7 250.0L222.0 249.5L224.0 250.0L229.9 253.0L232.3 255.0L240.5 271.0L244.0 274.5L247.0 276.1L255.0 278.2L262.0 281.1L265.0 281.7L270.0 282.0L274.0 281.0L280.6 278.0L285.0 273.7L289.0 271.9L299.0 271.9L307.0 269.5L315.0 269.6L324.0 267.1L334.0 267.3L339.0 268.0L355.0 262.8L359.1 263.0L367.0 265.9L374.0 265.9L380.0 266.8L386.0 265.3L393.2 266.0L397.0 266.9L402.0 269.7L405.0 270.5L408.0 270.5L415.0 269.2L419.0 269.8L424.0 272.3L429.9 274.0L434.0 276.5L439.0 277.7L442.5 281.0L445.0 282.3L449.0 283.3L456.0 283.9L458.0 286.0L459.2 290.0L461.0 291.8L469.0 294.7L473.0 293.2L473.7 294.0L471.4 299.0L472.3 301.0L474.0 301.9L479.0 303.1L483.0 305.4L489.0 307.8L493.8 312.0L503.0 317.2L506.3 321.0L516.0 330.1L521.3 331.0L524.0 333.6L525.0 333.9L533.0 332.7L537.0 333.4L539.0 334.9L541.0 337.6L546.5 340.0L550.0 343.8L552.0 345.0L556.0 345.8L561.0 345.1L563.0 346.0L569.0 350.7L569.7 355.0L571.0 356.9L576.0 357.6L579.1 360.0L581.0 360.7L588.0 361.5L594.0 365.5L601.0 366.5L604.0 367.7L606.9 370.0L609.5 374.0L616.0 381.1L619.0 382.5L625.0 383.4L633.0 388.4L644.0 396.4L650.0 402.1L658.0 407.6L662.0 407.4L678.0 403.7L686.0 398.6L693.0 395.3L701.5 393.0L703.3 391.0L704.3 387.0L706.0 385.4L710.0 384.6L716.0 380.8L723.0 380.9L726.0 380.2L734.0 374.7L740.0 375.8L754.0 371.1L757.0 370.6L759.0 370.9L764.0 373.0L770.0 372.5L777.0 373.0L779.0 372.3L784.0 369.0L790.0 369.4L790.0 568.0L50.0 568.0L50.0 273.6L54.0 272.9L63.0 273.4L73.0 277.9L74.0 277.8L79.0 272.5L87.0 270.8L95.0 266.0L103.0 266.2L109.0 263.6L112.0 263.0L125.0 263.6L137.0 266.1L150.0 273.1L156.0 273.5L162.0 275.0L169.0 274.8L174.0 276.2L177.3 279.0L182.0 287.4L184.0 289.8L194.0 295.7L198.0 296.7L200.8 295.0L206.3 287.0L207.5 280.0L209.4 274.0L210.1 268.0L212.5 263.0L213.3 259.0L214.8 256.0L220.7 250.0ZM206.0 474.8L200.0 476.2L196.0 478.4L193.8 481.0L193.2 485.0L193.7 490.0L195.3 494.0L206.0 504.8L215.0 497.7L217.0 494.0L217.7 490.0L216.0 480.0L214.6 476.0L212.0 474.2L209.0 474.1L206.0 474.8ZM213.0 516.5L211.0 518.8L211.1 521.0L213.0 523.0L215.0 523.4L216.7 522.0L217.2 520.0L216.3 518.0L215.0 516.8L213.0 516.5ZM212.0 546.0L210.9 547.0L210.9 549.0L212.0 550.1L214.0 549.8L215.4 548.0L215.1 547.0L213.7 546.0L212.0 546.0Z" fill="#f5ff00" fill-rule="evenodd"/>
<path d="M221.7 256.0L225.0 255.5L227.0 256.2L227.6 257.0L228.7 262.0L231.1 268.0L230.5 270.0L224.7 280.0L224.9 282.0L226.6 284.0L229.0 284.9L243.0 284.4L248.0 286.2L253.0 286.5L261.0 288.9L274.0 294.5L277.0 294.1L279.3 292.0L281.0 289.0L283.9 287.0L290.0 284.1L294.0 282.7L298.0 283.8L303.0 283.4L305.0 282.0L307.0 279.4L311.0 277.5L313.0 277.2L316.2 278.0L319.7 274.0L324.0 271.5L332.2 274.0L335.8 276.0L337.5 278.0L338.1 281.0L339.2 283.0L341.4 285.0L344.0 285.8L347.0 285.2L351.0 281.6L360.0 275.8L364.0 274.5L369.2 274.0L370.7 275.0L373.0 278.3L380.0 280.3L389.0 274.7L392.0 274.8L395.3 278.0L395.8 282.0L396.7 283.0L399.0 283.7L400.0 281.5L401.0 281.3L401.8 282.0L402.1 284.0L399.8 285.0L400.4 287.0L401.5 289.0L408.0 297.1L411.0 297.8L415.0 297.1L419.0 293.0L421.0 292.1L429.0 290.3L432.7 291.0L438.9 294.0L440.0 295.5L440.6 301.0L442.3 307.0L442.0 310.3L443.0 310.7L448.0 306.9L452.0 305.5L461.0 307.9L462.8 309.0L463.9 311.0L464.3 318.0L467.3 328.0L468.5 330.0L471.0 331.9L473.0 332.8L488.0 334.7L490.0 334.4L495.0 332.2L497.0 332.9L499.7 337.0L500.5 341.0L498.0 346.3L496.8 351.0L497.1 354.0L498.8 358.0L500.0 359.0L504.0 358.9L505.8 360.0L506.7 365.0L506.4 371.0L506.8 373.0L508.1 375.0L511.0 376.9L514.0 377.7L516.0 377.0L517.2 376.0L517.7 374.0L516.1 370.0L516.2 369.0L517.0 368.3L518.0 368.4L519.4 369.0L525.3 375.0L530.0 381.0L533.0 382.2L537.0 382.4L541.0 381.7L548.3 379.0L549.5 378.0L552.0 373.7L555.0 372.2L557.0 372.4L564.0 375.8L573.0 381.6L575.0 382.2L580.0 382.3L586.0 386.0L591.0 387.2L600.0 393.2L603.0 393.4L607.0 391.2L610.0 390.9L615.0 391.6L621.0 393.5L626.0 393.6L634.6 396.0L639.0 399.9L646.0 405.0L654.8 410.0L658.0 411.2L670.0 411.8L683.0 409.7L686.0 408.8L692.0 404.0L704.0 401.2L707.0 401.3L711.0 403.4L713.0 403.3L715.2 402.0L719.0 397.2L725.0 394.2L728.0 394.3L734.0 397.0L736.0 397.1L744.5 393.0L750.6 385.0L753.0 383.5L767.0 383.7L773.0 381.7L777.0 382.7L781.0 385.7L786.4 386.0L790.0 388.4L790.0 568.0L50.0 568.0L50.0 286.7L54.0 286.6L59.0 287.5L66.0 287.1L69.6 290.0L77.0 291.2L82.0 293.4L85.0 292.6L90.0 288.2L94.0 286.7L104.0 288.5L109.0 291.2L113.0 291.3L115.0 289.9L118.0 282.0L117.1 279.0L114.6 276.0L114.4 275.0L115.0 274.0L118.7 272.0L126.0 270.2L130.0 268.1L134.0 272.4L144.0 277.7L146.0 278.0L156.0 276.6L162.0 281.6L165.0 283.0L167.0 282.5L169.7 280.0L171.2 280.0L171.8 281.0L171.6 283.0L175.4 288.0L177.5 293.0L182.0 294.9L185.4 298.0L190.0 299.8L192.0 301.2L195.0 301.8L199.0 301.4L206.0 296.4L216.3 291.0L216.9 288.0L214.5 285.0L213.9 282.0L218.1 278.0L218.7 276.0L217.8 274.0L214.5 271.0L213.9 269.0L218.0 263.0L220.0 257.3L221.7 256.0ZM382.0 283.2L381.2 284.0L381.2 285.0L382.0 286.4L383.0 286.9L385.0 286.4L387.1 285.0L382.0 283.2ZM208.0 472.0L201.0 472.8L198.0 474.2L194.0 475.1L189.5 477.0L188.9 478.0L188.4 483.0L188.7 489.0L190.0 495.1L191.6 498.0L192.1 501.0L194.5 506.0L199.9 514.0L201.7 521.0L206.0 527.0L207.0 530.8L210.6 533.0L212.3 536.0L214.0 536.7L221.0 531.0L224.6 525.0L225.3 521.0L222.4 513.0L221.7 507.0L223.1 504.0L228.0 500.6L228.8 498.0L227.7 492.0L225.2 488.0L223.1 483.0L218.7 476.0L216.8 474.0L214.0 472.5L212.0 471.9L208.0 472.0ZM215.0 541.9L213.0 542.5L210.7 545.0L209.7 548.0L210.5 551.0L213.0 552.9L218.0 553.9L220.0 554.0L222.7 553.0L223.9 552.0L224.8 550.0L225.1 546.0L224.6 544.0L223.0 542.9L215.0 541.9ZM109.8 268.0L111.0 268.2L111.5 269.0L111.0 271.9L110.0 271.4L109.4 269.0L109.8 268.0ZM353.9 270.0L355.0 269.6L357.0 269.9L357.5 271.0L355.0 273.1L354.0 272.5L353.9 270.0ZM508.9 356.0L510.0 355.6L511.0 356.0L513.5 358.0L514.2 359.0L514.0 361.1L512.0 361.4L509.4 360.0L508.2 358.0L508.9 356.0Z" fill="#ffff00" fill-rule="evenodd"/>
<path d="M156.2 289.0L161.0 288.6L169.0 290.2L175.0 295.5L177.0 296.1L180.5 296.0L181.6 299.0L184.0 301.4L187.0 302.7L193.0 304.0L200.0 302.9L206.0 300.8L209.0 300.3L217.0 301.7L224.0 300.7L231.0 302.2L236.0 301.0L240.0 300.8L243.0 301.4L246.0 303.2L249.0 304.0L253.3 304.0L262.0 302.8L268.0 304.3L277.0 304.4L285.0 301.4L292.0 300.0L298.0 294.9L305.0 295.7L314.0 292.4L323.0 294.8L330.0 293.4L333.0 293.5L338.6 296.0L342.8 300.0L344.0 300.5L346.0 300.1L349.0 298.4L355.0 301.9L358.0 301.9L360.0 300.0L361.0 299.8L377.0 305.0L380.0 305.1L385.0 304.2L387.0 304.4L389.0 305.4L394.5 310.0L398.0 316.3L401.0 326.0L409.3 331.0L410.7 333.0L411.6 336.0L412.8 337.0L415.0 337.4L417.0 336.6L418.6 332.0L421.0 329.9L423.0 329.3L425.2 330.0L425.6 331.0L425.0 332.9L421.2 337.0L419.6 345.0L420.4 347.0L424.0 350.0L425.0 350.7L427.0 350.8L433.0 347.3L439.0 349.8L445.0 349.5L449.6 351.0L451.8 353.0L452.7 356.0L454.0 358.0L459.0 363.2L462.0 370.2L465.1 374.0L468.0 378.8L470.0 379.5L474.0 379.7L478.0 379.1L482.0 377.1L486.0 377.4L492.0 381.9L499.0 383.8L502.0 388.1L505.0 390.1L510.0 389.7L516.0 387.3L518.0 387.1L526.0 389.2L541.0 391.4L547.0 395.2L557.0 396.8L566.0 397.8L572.0 396.1L576.0 398.2L578.0 398.5L584.0 396.2L585.8 397.0L589.0 400.7L599.0 405.5L603.0 406.7L623.0 408.2L629.0 410.7L634.0 410.0L645.0 411.4L674.0 418.7L677.0 418.8L681.0 418.1L691.0 418.3L699.0 420.1L705.0 423.3L708.0 422.3L710.8 420.0L717.0 411.5L723.0 408.9L730.0 409.4L734.0 407.0L740.0 406.4L749.9 404.0L756.0 401.1L760.0 400.2L765.0 400.1L772.0 397.4L775.0 397.7L779.0 400.0L782.0 401.0L790.0 400.4L790.0 568.0L255.3 568.0L255.0 564.5L253.3 559.0L257.0 550.9L260.0 548.1L260.1 547.0L259.0 545.6L256.0 544.0L253.0 540.5L245.0 538.2L243.8 537.0L243.8 536.0L249.0 528.0L255.0 523.7L258.5 520.0L258.8 518.0L257.4 514.0L257.3 510.0L254.9 504.0L254.5 500.0L254.0 499.0L249.0 496.7L244.0 493.5L239.0 486.5L231.0 482.6L228.9 480.0L226.1 475.0L224.0 473.0L218.0 470.4L209.0 468.9L198.0 470.5L188.0 474.1L186.6 475.0L185.1 477.0L183.8 482.0L184.1 484.0L189.2 498.0L190.3 503.0L196.0 514.0L197.5 518.0L199.0 520.0L199.4 522.0L206.4 533.0L208.7 538.0L209.3 541.0L208.1 552.0L210.9 560.0L211.3 568.0L50.0 568.0L50.0 311.2L61.0 310.4L68.0 306.3L71.0 305.2L72.0 305.4L74.7 308.0L77.0 308.9L83.0 309.1L88.0 311.2L96.4 312.0L97.6 313.0L98.3 316.0L100.0 317.1L104.0 314.3L109.0 314.2L116.0 312.8L117.0 312.3L120.0 307.7L122.0 306.2L124.0 305.6L127.0 305.9L136.0 310.3L138.0 310.5L146.0 297.2L150.0 293.0L156.2 289.0ZM268.0 546.9L266.1 549.0L266.0 551.7L266.9 553.0L268.0 553.6L270.0 553.4L271.8 552.0L271.7 549.0L270.0 546.9L268.0 546.9ZM322.0 398.7L320.8 400.0L322.0 401.2L323.4 400.0L322.0 398.7ZM125.0 314.0L122.0 316.5L119.0 315.0L118.0 315.0L117.2 318.0L118.0 319.0L119.0 319.2L122.0 317.7L125.0 319.2L128.4 318.0L129.6 316.0L129.0 314.3L127.0 313.5L125.0 314.0ZM50.0 300.0L50.0 299.6L50.6 300.0L50.0 301.1L50.0 300.0ZM470.1 366.0L472.0 365.1L473.0 365.7L474.0 367.7L474.0 370.3L472.0 372.1L470.8 372.0L469.4 371.0L469.1 369.0L470.1 366.0Z" fill="#fff000" fill-rule="evenodd"/>
<path d="M161.6 293.0L164.2 293.0L169.1 296.0L175.6 301.0L177.3 303.0L179.4 308.0L181.0 309.2L184.0 309.1L188.0 306.9L195.0 306.7L199.0 304.9L208.0 303.7L210.1 305.0L212.7 308.0L216.0 316.0L218.6 314.0L221.1 313.0L237.0 310.3L244.0 313.4L247.3 313.0L252.6 318.0L257.0 320.0L260.0 319.9L265.0 317.9L266.1 318.0L270.0 320.1L273.0 319.8L275.0 318.8L280.4 314.0L285.0 311.4L287.0 311.0L291.0 311.4L297.0 314.8L299.6 315.0L301.0 314.0L302.1 310.0L303.3 308.0L307.0 305.6L310.0 305.8L318.0 308.6L323.0 309.2L329.0 308.8L332.0 310.6L333.1 313.0L330.3 325.0L330.9 328.0L341.0 335.0L344.0 336.0L349.0 336.2L353.5 335.0L351.0 331.7L350.0 329.0L350.3 327.0L352.9 321.0L354.0 319.8L355.0 319.5L361.0 320.5L362.0 321.0L363.0 322.8L362.2 326.0L359.0 331.8L354.4 335.0L358.0 341.0L359.2 342.0L365.0 344.0L368.5 348.0L372.2 355.0L371.9 362.0L373.1 365.0L375.0 366.7L377.0 367.6L379.0 367.7L385.0 366.3L393.0 371.3L403.0 371.7L416.0 375.2L417.5 377.0L417.1 380.0L410.3 384.0L409.2 386.0L409.3 388.0L411.0 390.8L417.0 396.2L422.0 398.9L426.0 399.3L426.7 399.0L426.9 396.0L429.6 390.0L429.0 388.0L425.8 384.0L425.8 383.0L427.0 381.6L429.0 380.7L432.0 381.4L433.8 384.0L435.6 390.0L432.2 398.0L432.2 401.0L437.9 407.0L441.0 408.6L447.0 408.3L453.0 406.2L456.0 406.0L459.0 403.7L460.0 403.6L463.0 405.2L467.0 409.2L470.0 411.2L472.0 411.1L480.0 407.5L483.0 407.4L486.0 408.4L492.0 413.2L494.0 413.6L501.0 412.6L505.0 408.4L506.0 408.3L509.0 411.0L512.0 411.1L515.8 409.0L519.0 405.0L522.0 404.4L527.0 405.7L530.0 407.1L532.1 411.0L532.7 416.0L534.8 418.0L538.0 418.9L545.0 419.4L550.0 418.4L551.0 418.6L552.2 420.0L552.5 423.0L554.0 423.8L558.0 422.9L561.2 421.0L562.9 418.0L562.7 413.0L564.0 411.9L567.0 411.2L572.0 411.7L578.2 411.0L584.0 417.3L591.0 417.8L596.5 422.0L600.0 422.6L602.0 423.6L618.0 422.2L623.0 418.7L632.0 418.8L646.0 417.2L652.0 417.5L659.1 420.0L663.8 424.0L667.3 426.0L676.0 428.1L678.0 429.2L681.0 429.9L683.0 431.2L686.0 431.6L691.0 433.6L695.0 435.6L706.0 443.2L711.5 435.0L721.8 426.0L724.3 422.0L726.0 421.4L731.0 422.5L733.0 422.1L734.9 419.0L740.0 416.3L751.0 414.2L758.0 414.2L764.0 414.9L768.0 412.9L773.0 414.9L782.0 414.8L786.0 415.8L790.0 417.6L790.0 568.0L289.2 568.0L290.4 563.0L293.5 557.0L293.5 555.0L292.2 552.0L292.5 550.0L294.0 548.9L297.0 548.4L302.0 551.1L306.0 551.0L306.5 550.0L305.8 546.0L307.7 544.0L313.0 540.8L313.7 540.0L313.5 538.0L311.7 536.0L305.0 531.3L301.0 529.3L293.0 521.6L288.0 520.9L287.0 520.2L288.8 515.0L286.1 508.0L283.7 504.0L283.7 497.0L279.0 488.9L271.0 483.0L262.0 473.3L257.4 470.0L254.0 466.2L249.0 464.4L243.0 463.8L241.9 463.0L240.0 458.9L239.0 458.0L237.0 457.5L229.1 459.0L224.0 464.0L217.0 466.3L214.0 466.6L212.8 466.0L211.0 463.8L210.0 463.7L207.0 465.1L201.2 466.0L193.0 469.7L185.0 472.4L180.7 475.0L178.4 479.0L178.6 482.0L181.5 486.0L184.9 494.0L187.7 505.0L190.0 509.5L197.0 520.0L200.3 527.0L202.0 529.0L206.1 540.0L205.9 542.0L202.7 554.0L203.1 562.0L201.9 568.0L50.0 568.0L50.0 323.7L55.0 323.2L62.0 319.8L72.0 320.5L75.8 324.0L80.0 326.1L81.2 328.0L82.4 332.0L84.0 333.8L89.0 336.2L103.0 345.5L105.0 345.8L109.0 344.7L113.0 345.2L117.1 342.0L124.0 339.1L126.0 336.7L129.0 334.9L133.0 334.3L139.0 331.5L146.0 329.4L147.4 327.0L147.9 322.0L152.0 321.4L155.0 317.7L157.0 317.5L160.0 318.1L161.1 318.0L162.0 317.0L163.5 313.0L166.5 309.0L167.0 307.0L166.0 304.4L163.0 302.4L162.0 302.3L159.0 303.9L158.0 303.9L157.0 303.0L156.9 301.0L158.7 295.0L161.6 293.0ZM320.0 394.0L318.6 396.0L317.3 400.0L317.6 402.0L319.0 403.5L321.0 404.5L323.0 404.5L325.0 403.8L326.2 403.0L327.4 401.0L326.8 398.0L323.0 394.3L320.0 394.0ZM99.0 369.6L98.7 371.0L100.0 377.5L101.0 379.0L103.0 380.3L104.0 379.7L105.3 377.0L105.2 371.0L101.0 369.5L99.0 369.6ZM386.6 335.0L388.4 336.0L391.8 341.0L392.2 343.0L391.0 344.7L388.0 344.6L386.4 343.0L384.7 338.0L385.1 336.0L386.6 335.0ZM393.6 362.0L395.0 362.1L396.3 364.0L396.4 366.0L395.0 367.2L393.0 366.8L391.2 365.0L391.1 364.0L391.8 363.0L393.6 362.0Z" fill="#ffdc00" fill-rule="evenodd"/>
<path d="M197.3 332.0L200.0 331.4L201.0 332.3L202.8 336.0L206.0 337.1L216.0 334.1L221.0 331.9L228.0 331.3L234.0 332.0L239.0 331.4L243.0 333.2L250.0 334.9L256.0 333.7L259.0 334.0L264.0 335.9L271.0 339.9L274.0 340.5L276.3 340.0L279.2 337.0L284.0 334.4L285.0 334.8L288.9 340.0L293.0 343.0L294.0 342.9L299.0 338.6L301.0 338.3L304.0 339.1L306.0 338.9L308.9 337.0L312.0 333.8L315.0 333.2L316.3 334.0L316.8 335.0L315.4 339.0L315.7 340.0L320.0 339.9L322.0 340.5L324.2 342.0L327.0 345.8L328.0 346.3L329.1 346.0L331.0 343.0L332.0 342.6L339.0 343.3L340.6 344.0L339.2 352.0L337.6 356.0L338.0 358.0L341.0 360.0L344.1 364.0L346.0 364.9L348.0 365.1L356.0 363.8L357.0 364.0L357.9 365.0L360.8 372.0L361.1 374.0L358.0 376.9L355.7 380.0L355.7 382.0L357.0 383.0L362.0 384.4L364.0 384.1L367.0 382.6L374.0 383.6L384.2 386.0L390.0 388.5L399.0 391.4L405.0 395.3L411.0 400.9L424.0 407.8L429.0 414.5L431.0 416.4L440.0 420.3L444.2 423.0L447.1 426.0L447.2 429.0L448.0 430.5L449.3 431.0L451.0 430.8L451.8 430.0L450.9 427.0L451.6 426.0L456.0 423.3L459.6 419.0L462.0 418.5L463.2 420.0L463.0 422.5L462.0 424.0L457.8 427.0L456.5 429.0L457.0 429.6L459.0 429.8L464.0 427.9L466.0 428.2L473.0 430.7L482.0 433.0L485.4 435.0L490.0 439.2L495.0 438.4L499.0 439.1L504.0 438.7L512.0 439.3L516.0 440.4L521.0 439.5L525.0 440.1L527.0 439.6L532.0 436.7L535.0 436.0L538.0 436.6L543.0 439.7L546.0 440.4L547.0 440.0L548.5 436.0L550.5 434.0L566.0 430.9L572.0 430.5L579.0 432.0L581.0 431.4L586.0 428.5L588.0 428.2L598.0 430.2L603.0 432.4L605.0 432.7L620.0 427.6L628.0 426.7L636.0 424.0L647.0 422.5L651.0 423.3L664.0 429.0L674.0 429.5L677.0 430.9L680.0 431.4L682.0 432.9L685.0 433.5L688.0 435.6L698.0 440.3L706.0 445.2L709.8 444.0L716.0 439.4L722.0 436.0L733.0 433.4L740.0 433.8L742.2 433.0L747.0 429.2L753.0 429.1L754.1 428.0L753.6 425.0L754.1 424.0L756.2 423.0L759.0 423.0L766.0 425.9L773.0 426.3L778.0 427.2L780.0 426.9L784.0 424.8L790.0 425.9L790.0 568.0L351.4 568.0L349.9 565.0L345.3 560.0L342.0 554.0L342.6 552.0L345.6 548.0L347.7 543.0L349.9 534.0L351.6 530.0L351.5 529.0L349.0 528.8L346.0 529.5L342.0 533.4L340.0 534.2L338.0 533.0L336.7 530.0L336.8 525.0L336.2 522.0L339.6 515.0L337.7 511.0L337.7 507.0L338.9 505.0L341.7 503.0L342.3 501.0L341.0 495.4L337.3 492.0L337.1 481.0L336.0 480.3L333.0 482.2L324.0 485.8L321.0 485.5L319.0 484.0L317.8 481.0L315.0 478.7L314.0 477.2L312.6 469.0L312.9 467.0L315.1 463.0L322.0 457.0L325.0 456.4L332.0 457.4L334.5 457.0L336.0 456.2L336.3 455.0L335.6 451.0L338.1 447.0L337.6 444.0L336.4 442.0L335.0 440.8L325.0 439.5L324.0 440.0L323.0 444.3L321.0 445.9L319.0 445.7L316.0 444.2L314.0 443.8L303.0 445.2L301.0 444.3L300.0 443.0L300.7 438.0L298.5 435.0L302.0 433.4L306.0 429.3L312.0 429.0L316.3 426.0L317.3 425.0L317.4 424.0L316.0 420.0L315.9 417.0L318.0 415.0L321.0 414.1L324.0 413.9L326.0 414.5L327.0 416.0L327.3 418.0L327.0 420.5L326.0 422.6L319.9 425.0L321.0 426.5L323.0 426.8L327.0 424.6L329.0 424.6L340.0 428.7L345.0 429.7L347.0 429.2L348.6 427.0L349.1 425.0L348.8 422.0L347.3 418.0L335.6 410.0L333.2 406.0L332.2 400.0L330.8 396.0L325.0 389.8L322.0 388.2L320.0 388.5L316.7 390.0L314.0 393.0L312.2 400.0L311.6 408.0L312.0 412.7L311.3 414.0L309.0 414.5L304.0 414.0L298.0 414.9L291.0 412.9L289.0 414.6L286.7 419.0L286.4 424.0L287.0 426.0L289.8 429.0L290.5 431.0L290.0 432.1L285.0 435.4L281.6 431.0L274.0 426.6L269.0 425.1L263.6 422.0L257.0 420.2L254.0 420.3L249.0 423.4L245.0 423.8L241.0 425.1L239.0 424.3L236.0 421.5L229.0 418.9L223.0 419.3L216.0 418.7L211.0 416.8L210.0 416.8L209.0 417.7L209.0 419.5L210.8 422.0L211.6 425.0L214.3 430.0L215.7 436.0L215.3 437.0L214.0 437.7L213.1 439.0L213.0 440.2L214.0 441.4L217.0 441.0L217.9 440.0L217.6 438.0L218.0 437.6L219.8 438.0L221.0 440.0L220.0 442.0L217.7 451.0L218.9 455.0L218.7 457.0L216.0 463.0L215.0 464.2L214.0 464.3L211.0 460.3L208.0 459.4L205.0 459.8L197.0 462.7L188.0 467.2L179.0 470.3L176.0 473.4L173.2 479.0L173.5 483.0L179.5 496.0L182.0 506.9L185.3 512.0L188.0 517.7L194.7 528.0L195.9 535.0L197.4 540.0L198.2 549.0L197.0 552.2L192.8 558.0L191.9 560.0L192.5 568.0L50.0 568.0L50.0 335.8L56.0 335.5L63.0 338.3L65.3 338.0L70.0 335.7L73.0 335.5L78.0 339.5L84.3 343.0L87.7 347.0L93.0 350.9L100.4 362.0L97.0 366.9L96.1 369.0L96.0 371.0L98.8 380.0L101.8 383.0L104.0 383.6L105.8 382.0L107.0 378.7L107.5 370.0L107.0 368.3L103.1 363.0L103.3 362.0L107.6 356.0L110.0 354.2L113.0 353.2L119.0 352.3L128.0 349.0L133.0 348.3L138.0 346.5L141.0 346.0L144.7 347.0L149.6 352.0L153.0 352.4L155.0 351.7L157.0 350.0L161.0 342.7L164.7 339.0L167.0 337.5L170.0 337.2L175.0 339.0L182.0 337.5L190.0 340.1L191.5 339.0L194.6 334.0L197.3 332.0ZM295.0 363.9L293.2 365.0L292.2 367.0L292.5 368.0L294.0 368.8L296.4 368.0L298.2 365.0L298.0 363.8L297.0 363.4L295.0 363.9ZM375.0 385.9L372.4 387.0L371.6 388.0L371.6 389.0L375.0 392.6L377.3 393.0L379.2 392.0L379.4 391.0L377.0 387.1L375.0 385.9ZM129.0 479.7L128.0 480.4L127.3 482.0L128.0 483.6L129.0 484.3L131.0 483.5L131.5 482.0L131.0 480.5L130.0 479.7L129.0 479.7ZM136.0 403.7L134.0 405.5L133.6 408.0L134.0 413.0L136.0 415.1L140.0 413.0L143.0 410.0L144.0 408.0L143.6 406.0L142.0 404.4L136.0 403.7ZM172.0 347.9L171.7 349.0L173.0 350.4L174.0 350.7L175.4 350.0L175.8 349.0L175.0 347.8L173.0 347.4L172.0 347.9ZM252.5 439.0L254.0 438.7L256.0 439.3L257.6 441.0L257.5 442.0L256.0 443.5L254.0 444.4L251.0 444.0L250.2 443.0L250.1 441.0L252.5 439.0Z" fill="#ffbe00" fill-rule="evenodd"/>
<path d="M50.0 345.0L60.0 345.1L63.7 346.0L69.0 348.3L75.0 348.8L78.0 350.3L85.0 355.7L89.0 358.0L91.0 360.1L93.1 364.0L94.3 374.0L95.8 377.0L96.9 382.0L99.0 385.0L104.0 388.2L106.0 386.6L107.9 383.0L109.6 367.0L111.0 363.0L113.0 361.0L115.0 359.9L123.0 357.7L128.0 357.0L134.0 357.2L140.0 359.5L151.0 360.8L156.0 363.2L161.0 363.4L166.0 366.1L172.0 371.0L173.0 370.7L179.0 365.2L182.3 360.0L184.0 359.2L185.0 359.4L191.5 364.0L189.0 372.0L189.2 374.0L190.0 375.1L194.0 377.2L197.0 378.0L202.0 378.0L207.0 376.1L210.0 376.4L213.1 378.0L215.7 382.0L217.0 382.6L219.0 381.8L224.7 375.0L224.6 372.0L224.0 371.3L221.0 370.4L220.0 369.2L218.4 363.0L219.0 360.7L221.0 358.5L223.0 357.5L227.0 357.7L229.0 355.9L229.4 354.0L228.3 353.0L227.0 352.9L224.0 354.1L223.0 352.0L225.9 349.0L227.6 345.0L229.0 344.3L231.0 344.4L235.0 346.9L236.4 349.0L238.1 354.0L240.8 358.0L240.8 359.0L239.9 360.0L232.0 367.3L230.3 375.0L231.9 380.0L231.2 381.0L227.4 383.0L226.3 385.0L227.9 393.0L227.7 395.0L224.0 395.7L223.0 396.5L221.8 403.0L218.0 407.0L216.0 410.0L214.0 411.2L211.0 410.4L209.0 410.7L204.0 414.9L202.4 417.0L201.8 419.0L201.8 422.0L207.2 439.0L207.0 441.6L203.0 444.9L197.9 451.0L193.5 455.0L189.0 461.7L184.0 463.6L179.0 464.0L175.0 467.3L172.4 470.0L170.0 474.6L166.7 479.0L166.9 485.0L163.8 489.0L165.0 490.4L171.0 492.1L172.0 492.9L174.4 496.0L176.0 501.0L175.0 502.7L174.0 503.0L166.0 501.6L164.0 502.5L163.6 509.0L166.0 513.9L168.8 517.0L169.1 519.0L168.0 520.5L166.0 521.0L162.0 518.4L159.0 517.8L157.6 519.0L157.1 523.0L158.0 524.7L162.0 525.0L162.6 526.0L162.6 531.0L163.7 533.0L165.0 533.4L169.0 532.4L170.0 532.9L173.2 537.0L173.6 539.0L170.6 548.0L167.0 550.3L161.3 552.0L158.0 557.9L155.0 560.5L154.0 560.4L153.0 559.4L151.1 556.0L154.1 549.0L154.0 546.8L152.0 544.8L148.0 544.1L146.5 543.0L143.5 539.0L142.8 536.0L139.0 532.3L137.0 532.1L131.0 533.6L127.8 538.0L120.0 540.1L117.4 540.0L113.0 538.0L111.0 538.2L106.0 543.5L104.0 544.3L100.0 544.6L97.7 544.0L96.6 543.0L95.7 540.0L95.9 536.0L95.0 535.1L92.0 534.9L89.0 536.7L87.0 537.1L85.0 536.2L82.0 533.3L80.0 532.3L72.0 532.4L66.3 529.0L63.3 524.0L62.0 523.0L60.0 522.7L52.0 526.3L50.0 526.6L50.0 345.0ZM127.0 473.7L123.3 478.0L120.8 488.0L122.0 489.6L125.0 491.6L128.0 492.5L130.0 492.0L134.8 488.0L135.9 486.0L136.2 483.0L134.0 475.6L130.0 473.3L128.0 473.2L127.0 473.7ZM151.0 392.6L145.0 395.2L139.0 398.7L131.0 400.0L129.7 401.0L127.4 407.0L127.4 412.0L128.3 414.0L134.0 419.6L137.0 420.4L141.0 419.8L146.3 416.0L148.0 410.0L150.1 407.0L151.6 406.0L156.0 405.4L158.4 404.0L164.0 402.5L166.0 401.4L167.3 400.0L167.5 398.0L166.0 396.2L162.0 396.3L158.4 393.0L157.0 392.4L151.0 392.6ZM211.0 398.4L209.9 400.0L211.0 402.9L212.0 403.5L214.3 403.0L215.4 401.0L214.9 399.0L213.0 398.0L211.0 398.4ZM250.2 345.0L253.0 344.4L258.0 345.2L264.0 346.9L265.7 348.0L266.3 352.0L267.4 354.0L262.0 361.9L260.0 363.8L259.0 363.9L257.3 362.0L256.8 357.0L256.0 355.6L252.1 352.0L250.0 351.4L248.7 350.0L248.7 347.0L250.2 345.0ZM195.7 359.0L198.0 359.2L198.8 361.0L197.0 362.9L194.0 363.4L193.3 363.0L193.8 361.0L195.7 359.0ZM383.0 401.0L385.0 400.4L387.0 400.8L391.0 404.0L393.0 404.7L398.0 403.5L403.0 403.7L413.4 410.0L412.6 414.0L415.7 420.0L415.7 425.0L415.0 426.3L410.0 428.1L407.6 430.0L406.8 434.0L403.8 438.0L403.9 440.0L405.0 441.6L407.0 442.2L410.0 441.3L419.0 441.6L425.0 441.1L428.0 443.4L435.0 446.1L437.2 449.0L438.8 453.0L440.0 453.9L447.0 454.3L449.0 455.4L451.8 459.0L454.0 460.7L460.0 463.8L464.0 465.0L474.0 465.3L479.6 463.0L484.0 460.2L493.0 457.7L495.0 458.4L501.0 465.1L504.0 466.9L507.0 467.8L511.0 467.3L515.0 469.1L520.0 469.7L527.0 467.7L527.4 467.0L526.8 462.0L527.0 460.9L528.0 459.9L537.0 460.2L539.9 463.0L542.0 464.1L544.0 464.2L546.9 463.0L552.0 459.0L556.0 457.3L557.8 456.0L560.1 452.0L562.0 445.3L563.0 444.6L566.0 444.0L568.0 444.2L569.7 447.0L571.7 449.0L574.8 451.0L576.0 451.0L582.0 448.1L586.0 443.2L594.0 440.3L599.0 440.6L605.0 439.8L609.0 440.5L613.0 440.5L615.4 439.0L617.5 435.0L620.5 432.0L628.0 431.4L647.0 427.2L650.0 427.8L654.0 431.5L664.0 434.5L678.0 434.1L681.8 435.0L687.0 438.7L693.0 440.1L697.1 442.0L701.0 444.7L703.0 446.9L708.0 449.2L714.0 448.5L721.0 445.3L727.0 443.8L735.0 442.3L742.0 442.3L745.0 441.8L752.0 439.9L758.2 437.0L762.0 436.0L765.0 436.6L769.0 438.4L776.0 440.0L782.0 442.8L784.0 442.8L790.0 440.3L790.0 568.0L415.0 568.0L414.8 565.0L413.3 563.0L410.0 561.2L403.6 561.0L400.0 555.0L399.6 552.0L401.0 550.6L405.0 548.7L407.5 543.0L407.5 541.0L405.0 540.7L401.0 543.4L399.0 542.6L397.4 540.0L396.4 537.0L397.3 533.0L394.0 530.6L393.1 525.0L390.5 521.0L389.8 519.0L390.0 514.3L391.0 512.7L392.0 512.4L396.0 515.0L400.5 521.0L403.0 522.7L407.0 523.4L414.0 522.6L416.0 521.6L417.2 520.0L418.7 516.0L418.9 514.0L416.7 510.0L414.0 502.5L412.0 499.8L410.0 499.1L407.0 499.6L403.5 503.0L402.0 503.7L399.0 503.0L397.6 501.0L397.8 499.0L399.2 497.0L401.0 495.7L405.0 494.5L406.3 493.0L407.4 487.0L407.3 480.0L406.4 478.0L402.2 473.0L400.9 468.0L399.0 464.0L397.0 462.5L389.1 459.0L388.0 458.0L387.7 456.0L389.5 450.0L389.9 446.0L391.9 441.0L391.8 439.0L390.7 436.0L387.0 431.5L380.0 429.3L377.0 427.3L374.7 422.0L371.8 418.0L370.4 415.0L370.6 412.0L371.9 410.0L374.1 408.0L379.0 405.3L383.0 401.0ZM532.5 448.0L534.0 447.2L535.9 448.0L536.4 450.0L535.4 452.0L534.0 452.5L532.0 451.7L531.5 450.0L532.5 448.0ZM180.2 524.0L182.0 523.9L184.0 525.9L184.6 528.0L184.0 528.7L181.0 528.3L179.2 527.0L179.0 526.0L180.2 524.0ZM56.6 538.0L61.0 537.6L65.0 538.4L66.5 540.0L67.2 544.0L66.0 546.5L62.0 546.9L59.3 552.0L56.0 553.2L54.0 552.9L50.0 550.5L50.0 544.1L52.7 543.0L55.0 539.4L56.6 538.0ZM190.9 546.0L192.0 545.5L193.6 548.0L192.0 548.8L191.0 548.4L190.5 547.0L190.9 546.0ZM138.3 551.0L140.0 550.1L142.1 552.0L142.0 554.1L140.0 556.4L138.0 556.2L137.4 555.0L137.2 553.0L138.3 551.0ZM150.8 564.0L153.0 563.1L154.0 563.6L155.2 568.0L148.6 568.0L149.1 566.0L150.8 564.0Z" fill="#ffaf00" fill-rule="evenodd"/>
<path d="M55.9 355.0L59.0 354.5L69.0 357.1L76.0 358.0L84.0 361.6L87.0 363.7L91.0 368.5L93.1 376.0L94.6 378.0L94.6 383.0L96.1 390.0L97.9 393.0L103.8 400.0L105.6 406.0L114.7 411.0L118.0 414.6L122.7 418.0L128.7 426.0L132.0 427.9L136.0 428.3L143.0 426.2L148.0 421.7L156.0 412.1L163.0 407.7L170.5 405.0L176.0 401.9L180.0 401.6L186.0 402.7L192.0 404.5L195.2 407.0L195.7 410.0L194.8 416.0L197.7 434.0L197.4 438.0L192.0 447.8L184.0 454.8L175.0 458.7L172.0 458.5L165.8 456.0L163.0 455.5L153.0 459.2L151.0 460.6L149.8 463.0L149.8 466.0L151.9 469.0L151.8 470.0L150.0 470.9L148.7 470.0L147.8 467.0L143.0 464.3L139.0 461.2L136.0 460.4L131.0 462.8L124.3 465.0L119.0 469.8L110.0 470.9L103.0 474.5L92.0 476.3L89.0 475.8L83.0 473.4L82.0 473.6L80.6 475.0L79.0 478.0L78.6 480.0L79.3 482.0L82.0 484.7L93.0 486.6L100.0 484.5L102.0 485.8L108.2 492.0L113.0 496.0L118.0 503.1L123.9 508.0L124.4 509.0L123.8 512.0L124.0 516.0L122.0 517.5L119.0 518.0L117.0 517.5L113.0 513.7L111.0 512.9L109.0 513.9L105.9 518.0L103.0 519.6L101.0 519.6L94.0 517.1L92.8 516.0L91.2 511.0L94.2 504.0L89.0 499.2L87.0 498.0L85.0 498.0L84.0 498.6L78.0 504.5L74.0 506.4L68.0 506.3L59.0 504.3L57.6 503.0L57.4 500.0L59.5 496.0L62.7 487.0L63.5 480.0L63.0 478.1L62.0 477.0L60.0 476.2L58.0 476.3L57.4 477.0L56.8 480.0L57.1 485.0L56.0 485.6L53.0 483.8L50.0 483.2L50.0 462.2L52.0 461.6L56.3 459.0L57.5 457.0L55.9 454.0L50.0 451.8L50.0 439.1L54.0 438.4L55.0 437.0L55.2 435.0L54.9 432.0L54.1 430.0L52.0 428.6L50.0 428.0L50.0 358.4L55.9 355.0ZM122.3 365.0L127.0 364.3L132.0 365.0L144.0 371.5L147.1 375.0L147.8 378.0L147.8 381.0L146.9 384.0L145.1 387.0L139.0 392.4L129.0 396.6L122.0 400.9L116.0 401.4L110.7 399.0L109.8 398.0L109.2 396.0L109.6 388.0L110.5 384.0L110.1 379.0L110.7 376.0L110.6 372.0L112.6 367.0L114.0 365.7L116.0 365.1L122.3 365.0ZM655.1 443.0L660.0 442.9L666.0 443.8L670.0 443.3L674.0 444.8L681.0 445.8L684.0 448.8L685.0 449.0L686.9 448.0L690.0 447.4L696.0 448.7L699.4 453.0L700.7 456.0L696.0 457.6L694.1 460.0L693.2 464.0L694.0 466.0L695.0 466.7L697.0 466.6L699.0 464.9L701.1 461.0L702.0 457.7L703.0 457.3L706.0 457.0L713.0 455.1L720.0 456.0L726.0 453.4L731.0 454.6L742.0 451.6L753.1 454.0L754.5 456.0L754.6 461.0L756.0 463.4L758.0 463.2L767.0 458.3L768.7 464.0L771.0 465.6L779.0 465.6L790.0 466.9L790.0 520.6L778.0 523.6L776.0 524.8L773.3 530.0L775.4 534.0L775.5 536.0L774.7 538.0L773.0 538.9L770.2 538.0L768.0 533.4L766.0 533.5L763.0 535.4L761.0 535.4L757.9 531.0L756.0 529.4L754.0 529.3L750.0 530.5L745.0 530.3L743.0 532.2L740.3 537.0L740.4 539.0L743.0 543.4L742.9 546.0L742.0 547.2L739.0 548.9L736.0 552.8L734.0 552.1L733.5 551.0L733.8 545.0L729.0 544.9L725.5 546.0L724.7 548.0L724.5 553.0L724.0 554.0L722.4 555.0L719.0 555.2L715.0 554.2L709.0 556.2L707.0 556.0L704.0 554.0L701.0 550.4L699.0 550.1L697.0 552.0L695.0 556.3L693.0 558.9L689.0 557.7L682.0 560.5L680.0 560.0L677.0 558.1L673.0 556.9L670.0 554.3L665.7 557.0L662.0 560.9L661.0 561.2L659.0 560.8L656.0 559.0L655.2 558.0L655.0 556.0L657.6 551.0L661.0 540.0L659.1 536.0L655.0 529.9L654.0 529.2L653.0 529.4L652.0 530.5L650.0 537.0L649.0 537.7L646.0 536.8L644.0 537.0L639.8 540.0L637.0 541.3L634.0 541.1L630.5 540.0L630.6 537.0L629.6 536.0L625.0 536.1L621.0 533.7L613.0 531.8L609.0 532.4L605.8 535.0L604.9 537.0L605.0 538.0L606.0 539.2L613.0 540.9L617.0 543.4L620.3 543.0L625.0 539.2L627.9 540.0L628.4 541.0L627.8 544.0L628.1 547.0L629.0 549.0L633.0 554.4L635.0 554.8L640.0 550.6L642.3 551.0L645.3 555.0L648.7 558.0L650.0 563.0L652.8 566.0L653.6 568.0L560.4 568.0L559.0 565.9L556.0 564.5L550.0 566.7L545.0 566.8L544.3 568.0L484.3 568.0L486.6 564.0L484.5 559.0L481.0 555.6L479.0 555.3L476.0 555.6L475.0 555.1L474.6 554.0L477.3 543.0L475.5 537.0L477.3 531.0L476.7 521.0L480.8 516.0L481.4 512.0L486.0 509.2L488.0 505.2L490.0 503.2L493.0 502.3L501.0 503.9L503.0 503.0L502.5 502.0L499.0 499.7L494.0 500.9L492.0 500.8L488.0 498.2L486.0 497.6L480.0 498.4L478.0 499.9L473.8 506.0L470.6 509.0L467.4 515.0L465.0 516.0L463.0 515.7L461.0 514.2L459.6 509.0L454.0 507.3L450.0 504.7L447.0 504.0L445.5 503.0L445.4 497.0L446.6 492.0L445.6 489.0L445.6 487.0L449.1 482.0L449.5 480.0L449.0 476.7L450.0 474.9L456.6 481.0L460.0 485.4L463.0 486.6L466.7 486.0L469.4 484.0L469.7 483.0L467.0 479.9L466.5 479.0L466.7 478.0L471.0 476.6L473.0 476.8L474.0 478.6L473.6 480.0L471.3 483.0L471.6 484.0L473.8 486.0L476.0 486.7L478.0 485.3L479.7 481.0L483.1 477.0L487.0 474.8L492.0 474.7L495.0 477.1L497.0 477.7L501.0 477.1L507.0 479.0L513.0 478.3L514.4 479.0L513.4 481.0L513.2 487.0L514.3 489.0L516.0 489.9L517.0 489.8L520.0 487.1L523.0 485.5L524.0 484.2L524.2 481.0L522.8 478.0L524.3 476.0L525.8 475.0L528.0 474.6L531.0 475.0L538.7 479.0L542.0 479.6L544.0 479.3L546.7 477.0L548.7 470.0L552.0 467.4L557.0 465.8L558.2 466.0L559.0 467.0L561.1 471.0L560.6 480.0L557.0 480.9L556.0 481.6L553.0 486.9L548.0 486.5L545.8 487.0L544.9 489.0L544.9 492.0L546.0 493.2L551.0 494.5L556.0 494.3L561.0 500.8L563.0 501.7L564.0 501.6L565.4 500.0L565.0 497.0L563.4 494.0L560.1 490.0L560.1 489.0L565.0 484.0L570.0 475.0L570.0 472.4L566.9 469.0L566.8 468.0L569.1 462.0L569.6 458.0L574.0 456.5L583.0 455.6L591.0 450.5L595.0 450.3L600.0 448.7L603.0 448.9L605.3 450.0L609.6 454.0L609.6 456.0L606.0 461.3L605.3 464.0L606.5 468.0L608.0 469.2L610.0 469.5L612.0 469.0L617.0 466.0L617.5 465.0L617.4 460.0L618.0 458.9L621.0 460.1L623.0 459.9L623.9 459.0L625.3 455.0L629.7 452.0L632.3 449.0L636.0 447.8L641.0 448.4L645.0 448.0L647.5 447.0L649.0 445.0L650.7 444.0L655.1 443.0ZM664.0 447.8L661.0 448.8L657.0 448.5L655.7 449.0L655.2 450.0L656.1 460.0L653.6 468.0L654.4 470.0L656.0 471.1L665.0 471.8L666.0 471.1L670.2 464.0L672.2 457.0L671.3 451.0L670.0 449.0L668.0 447.7L666.0 447.3L664.0 447.8ZM700.0 520.9L698.8 523.0L699.0 526.0L701.0 524.2L702.3 522.0L702.0 520.4L700.0 520.9ZM704.0 532.9L701.0 535.7L699.7 536.0L699.4 537.0L704.0 535.4L705.9 534.0L706.0 532.7L704.0 532.9ZM493.0 552.8L491.0 554.0L489.5 556.0L489.9 558.0L492.0 559.5L494.0 558.7L495.2 556.0L494.8 554.0L494.0 553.0L493.0 552.8ZM525.0 491.9L522.4 494.0L521.8 495.0L522.0 496.4L524.0 496.9L531.7 494.0L532.0 493.0L530.0 491.4L528.0 491.1L525.0 491.9ZM603.0 492.6L600.8 494.0L599.9 496.0L599.7 498.0L601.0 500.3L604.0 501.2L605.0 500.9L606.8 499.0L607.4 496.0L605.4 493.0L603.0 492.6ZM622.0 469.0L621.5 470.0L622.0 470.9L623.0 470.0L622.0 469.0ZM670.0 532.7L668.0 535.0L666.7 538.0L666.7 540.0L668.0 542.3L670.0 543.4L676.0 544.6L680.0 546.2L682.0 546.2L684.0 544.9L685.9 542.0L686.3 540.0L681.0 534.1L679.0 533.1L673.0 532.2L670.0 532.7ZM530.0 550.0L528.5 551.0L528.1 552.0L528.4 553.0L530.0 554.0L537.0 556.3L539.0 556.4L541.0 555.7L543.0 554.0L543.8 552.0L543.0 550.4L541.0 549.5L530.0 550.0ZM763.2 447.0L767.0 446.3L771.6 448.0L772.0 449.0L771.6 452.0L769.0 455.4L768.0 456.0L767.0 455.6L763.2 451.0L762.2 449.0L762.2 448.0L763.2 447.0ZM613.4 449.0L615.0 448.4L615.4 449.0L614.0 449.6L613.4 449.0ZM133.9 515.0L137.0 514.1L139.0 514.8L142.0 517.2L142.6 520.0L140.0 522.1L137.0 521.9L133.9 521.0L132.5 520.0L131.6 518.0L132.5 516.0L133.9 515.0ZM787.0 527.0L788.0 526.3L790.0 526.1L790.0 533.8L788.0 533.3L786.7 532.0L786.3 530.0L787.0 527.0ZM463.2 528.0L466.0 527.4L469.0 528.7L470.6 532.0L470.0 534.5L467.4 536.0L463.0 537.1L459.0 537.0L457.1 536.0L456.8 534.0L458.3 530.0L459.2 529.0L463.2 528.0ZM789.8 539.0L790.0 538.8L790.0 541.2L789.3 540.0L789.8 539.0ZM452.0 560.0L455.0 560.1L457.0 562.0L457.4 564.0L456.8 568.0L446.1 568.0L447.8 564.0L450.0 561.3L452.0 560.0ZM690.7 562.0L692.0 561.1L693.0 561.3L697.0 568.0L685.5 568.0L686.6 565.0L690.7 562.0Z" fill="#ffa000" fill-rule="evenodd"/>
<path d="M72.5 364.0L74.0 364.1L81.0 366.9L86.3 372.0L90.9 378.0L90.1 388.0L88.6 392.0L87.7 393.0L86.0 393.6L81.7 392.0L76.0 390.9L70.0 393.3L65.0 393.6L63.0 393.2L60.0 390.8L58.0 390.1L56.0 390.7L50.0 394.1L50.0 367.7L56.0 365.4L68.0 365.2L72.5 364.0ZM116.2 370.0L119.5 370.0L127.0 374.6L131.0 374.1L134.0 375.2L140.0 381.0L140.8 383.0L140.2 385.0L136.0 388.9L127.0 392.8L119.0 393.4L116.0 392.5L114.0 390.3L112.1 386.0L112.5 382.0L114.5 378.0L115.4 371.0L116.2 370.0ZM66.1 396.0L68.0 395.3L70.0 395.4L71.8 397.0L71.8 398.0L71.0 399.0L66.9 401.0L64.0 403.2L63.0 402.0L63.2 399.0L64.0 397.5L66.1 396.0ZM166.5 411.0L169.0 410.9L175.0 413.3L177.1 413.0L180.0 410.7L184.0 412.0L188.0 422.2L189.0 427.0L188.7 429.0L184.3 438.0L183.0 439.0L181.3 439.0L180.2 438.0L179.4 436.0L178.0 435.1L170.0 435.3L166.9 436.0L165.0 438.8L164.0 439.4L152.0 443.4L150.0 443.0L148.0 438.9L146.0 438.6L145.0 440.0L144.9 442.0L146.7 447.0L145.7 449.0L144.4 450.0L138.0 451.3L133.0 451.4L130.0 450.7L127.4 449.0L126.3 447.0L126.0 444.0L128.0 440.4L131.0 439.3L142.0 439.5L146.0 437.7L148.2 435.0L154.0 422.5L155.0 421.8L159.0 421.3L160.0 420.5L161.0 419.0L162.2 414.0L164.0 411.9L166.5 411.0ZM747.3 496.0L749.0 495.7L750.0 496.3L752.0 499.0L752.5 501.0L751.0 503.1L748.0 503.7L746.0 503.0L745.5 500.0L746.5 497.0L747.3 496.0Z" fill="#ff8c00" fill-rule="evenodd"/>
<path d="M65.6 376.0L66.0 375.6L67.0 375.9L67.0 377.0L66.0 377.0L65.6 376.0Z" fill="#ff7300" fill-rule="evenodd"/>
<path d="M187.3 72.0L186.8 74.0L184.9 78.0L184.8 81.0L186.1 88.0L188.4 95.0L189.7 107.0L191.2 110.0L200.0 116.0L207.0 123.0L215.0 127.7L219.0 128.6L227.0 128.5L237.0 130.1L241.0 130.0L246.0 132.1L251.0 131.7L254.2 133.0L257.0 137.6L260.0 141.0L261.1 146.0L264.2 150.0L264.2 153.0L262.2 158.0L262.5 161.0L264.0 163.5L271.5 171.0L272.6 176.0L273.7 178.0L279.8 184.0L280.0 186.0L279.3 190.0L279.7 192.0L280.6 193.0L282.0 193.5L287.0 192.6L293.0 194.2L297.0 194.1L300.0 194.8L304.0 193.1L308.0 192.1L316.0 188.2L320.0 185.4L324.0 183.4L328.0 182.3L335.0 179.0L343.0 177.5L348.0 178.7L359.0 178.6L363.0 177.1L368.0 176.3L370.0 175.3L372.0 175.0L376.0 175.5L378.0 176.8L382.4 181.0L384.5 184.0L386.1 184.0L392.0 181.0L394.0 180.6L398.0 180.4L406.0 180.9L414.0 183.3L418.0 185.2L423.0 189.3L424.0 189.3L427.4 178.0L430.2 174.0L431.5 171.0L435.0 167.2L440.0 163.1L444.0 162.2L448.0 160.4L452.0 158.3L456.0 155.3L460.0 153.5L468.0 151.1L475.0 151.2L478.0 152.3L482.0 152.8L484.0 154.3L486.0 154.9L488.0 156.2L488.4 156.0L488.0 154.6L486.0 153.0L482.0 151.5L475.7 147.0L472.0 143.0L467.0 136.0L461.0 131.8L455.9 125.0L455.0 123.1L450.1 117.0L449.8 115.0L450.4 114.0L458.0 110.7L463.0 111.4L467.0 111.3L472.0 110.5L476.0 108.9L478.0 108.7L486.0 111.0L491.0 114.9L493.0 115.9L496.0 115.8L500.0 116.9L507.0 117.2L511.0 118.8L516.0 119.2L519.0 118.8L525.0 117.1L529.0 115.2L532.0 114.4L537.0 112.0L541.0 108.6L542.0 108.4L544.5 110.0L548.0 111.3L551.0 110.4L556.0 110.5L562.0 108.7L566.3 106.0L568.4 102.0L567.9 99.0L564.3 93.0L563.7 91.0L565.3 85.0L564.3 79.0L565.5 77.0L568.6 75.0L569.5 72.0M574.9 72.0L570.5 76.0L570.4 77.0L571.0 78.6L572.0 78.8L573.0 78.5L574.8 77.0L575.8 75.0L576.1 72.0M391.9 166.0L394.0 165.9L400.0 167.3L406.0 167.0L408.5 168.0L411.0 169.7L414.0 173.1L414.6 175.0L414.0 178.2L413.0 178.4L409.0 176.7L406.0 177.3L402.0 176.1L398.0 176.7L396.7 176.0L395.0 173.4L394.0 173.1L392.3 174.0L391.0 177.0L390.0 177.8L386.8 179.0L386.0 178.6L384.8 173.0L384.9 170.0L387.0 168.0L391.9 166.0M166.9 72.0L169.6 80.0L169.8 87.0L170.7 91.0L170.5 93.0L168.6 98.0L168.9 105.0L169.5 107.0L176.0 118.3L178.0 119.6L185.0 122.1L188.2 124.0L190.3 126.0L195.7 134.0L199.0 137.7L202.0 139.4L214.0 143.7L216.6 146.0L219.8 150.0L230.2 159.0L236.0 165.9L238.0 167.1L241.2 168.0L242.6 169.0L246.6 178.0L249.4 187.0L252.0 191.1L253.7 197.0L256.9 202.0L258.0 205.1L259.0 205.1L263.0 203.5L266.0 203.3L275.0 206.0L277.0 206.2L281.2 205.0L283.0 203.6L291.0 199.6L295.0 198.1L298.0 197.7L304.0 194.4L308.0 193.1L316.0 189.2L325.0 184.1L328.0 183.3L335.0 180.0L342.0 178.7L349.0 179.6L358.0 179.6L371.0 176.2L374.0 176.1L376.0 176.6L379.0 178.8L384.0 184.6L386.0 184.8L393.0 181.9L396.0 181.4L406.0 182.0L414.0 184.5L418.0 186.4L422.5 190.0L424.0 190.4L425.2 189.0L428.6 178.0L432.2 172.0L434.6 169.0L440.0 164.4L448.8 161.0L457.0 156.0L467.0 152.4L473.0 152.1L482.0 154.4L489.0 158.2L491.0 158.5L492.1 158.0L490.3 156.0L488.0 152.1L483.0 148.9L477.0 143.3L475.1 139.0L469.6 132.0L464.7 127.0L463.6 125.0L464.0 124.3L465.0 124.3L468.0 126.3L470.0 125.9L472.0 124.1L474.0 121.5L477.9 120.0L480.0 117.0L481.0 116.4L483.0 116.3L485.0 117.0L491.0 123.2L496.0 124.9L500.0 125.2L508.0 127.4L509.4 128.0L512.6 131.0L516.0 131.4L521.0 130.8L531.0 126.9L537.0 126.3L540.0 126.5L543.1 126.0L545.1 125.0L551.0 119.2L557.0 117.4L563.0 117.2L569.0 118.0L573.0 117.2L576.1 116.0L582.6 111.0L594.8 108.0L599.0 105.8L604.0 106.2L608.0 108.3L610.0 108.8L612.0 108.4L614.7 107.0L617.0 104.5L622.1 96.0L623.3 93.0L620.0 90.9L616.5 84.0L615.0 82.2L613.0 81.2L609.0 80.6L608.1 80.0L605.2 74.0L604.8 72.0M137.1 72.0L139.7 78.0L141.4 85.0L140.5 94.0L140.8 97.0L143.0 100.9L147.2 105.0L147.9 111.0L149.2 114.0L153.3 118.0L159.1 122.0L166.0 131.7L170.6 136.0L174.0 141.0L180.2 144.0L185.0 149.6L189.8 152.0L197.6 158.0L203.0 160.5L204.6 162.0L207.0 166.3L208.6 168.0L216.0 171.9L219.8 175.0L221.6 178.0L223.6 187.0L225.6 189.0L231.0 191.7L233.0 193.8L238.2 204.0L243.0 209.0L247.2 220.0L248.0 220.7L252.0 219.4L255.0 217.0L257.3 216.0L262.0 212.7L266.0 212.1L268.0 211.1L272.0 210.4L278.0 208.7L284.0 205.7L288.0 204.5L292.0 201.7L298.0 199.0L305.0 195.0L316.0 190.1L325.0 185.1L334.0 181.3L342.0 179.5L349.0 180.5L357.0 180.5L371.0 177.1L374.0 177.1L376.0 177.5L378.0 178.8L381.2 182.0L383.0 184.7L384.0 185.3L387.0 185.2L393.0 182.8L397.0 182.0L406.0 183.0L414.0 185.4L418.0 187.3L422.0 190.5L424.0 191.0L425.0 190.4L425.9 189.0L429.6 178.0L435.0 169.6L441.0 164.9L449.0 161.7L457.0 156.9L467.0 153.3L473.0 153.0L476.0 153.5L482.0 155.4L489.0 159.0L492.0 159.0L492.9 158.0L492.7 157.0L491.1 155.0L490.3 151.0L487.3 143.0L487.0 137.2L485.0 136.2L481.0 136.8L480.0 136.5L479.0 135.9L478.2 134.0L478.1 131.0L478.7 129.0L483.0 125.9L484.0 125.9L486.0 127.8L488.0 130.8L490.0 132.8L491.0 133.2L501.0 133.4L508.0 135.8L513.0 141.6L514.0 141.6L518.0 139.6L521.5 136.0L529.1 132.0L537.5 132.0L542.0 135.3L547.0 137.9L548.0 138.0L550.0 137.3L556.0 133.1L561.0 132.5L565.0 130.3L573.0 130.1L580.0 132.3L583.0 130.3L587.0 128.5L589.0 128.4L593.0 129.4L597.0 128.7L602.8 125.0L605.0 124.5L612.0 127.4L614.0 127.8L616.0 127.5L621.2 124.0L627.0 118.0L628.1 113.0L631.6 106.0L631.7 104.0L629.9 101.0L629.4 99.0L632.0 94.0L633.0 93.1L637.0 94.7L639.0 94.1L640.5 92.0L641.9 88.0L646.0 84.5L647.0 83.0L647.5 81.0L647.1 79.0L643.5 72.0M744.0 94.8L742.8 96.0L742.5 97.0L742.3 105.0L743.4 107.0L746.0 109.8L748.0 111.0L749.0 111.0L751.0 109.3L752.5 106.0L753.7 102.0L753.4 99.0L752.0 96.3L750.0 94.9L747.0 94.4L744.0 94.8M87.4 72.0L90.4 79.0L92.0 81.4L97.0 84.8L100.0 88.4L104.0 90.7L105.1 92.0L108.7 100.0L110.0 104.2L113.6 109.0L115.8 116.0L118.0 118.6L122.0 121.5L125.0 127.0L130.0 133.1L146.0 145.3L148.0 146.3L154.0 148.0L159.8 151.0L161.8 153.0L164.4 157.0L166.0 158.7L172.0 160.5L179.0 168.4L187.0 174.9L192.9 179.0L199.0 182.1L202.8 186.0L207.0 189.4L212.0 195.0L218.0 199.1L224.4 206.0L228.0 211.0L233.0 215.3L239.8 224.0L240.8 225.0L242.0 225.2L247.0 224.1L252.7 221.0L263.0 214.4L278.0 209.8L288.0 205.7L304.9 196.0L316.0 190.9L325.1 186.0L334.0 182.0L342.0 180.2L349.0 181.3L357.0 181.3L370.0 178.1L374.0 177.9L376.0 178.3L378.0 179.6L380.4 182.0L382.5 185.0L384.0 185.9L387.0 185.9L393.0 183.7L398.0 182.6L402.0 183.7L408.0 184.3L414.0 186.2L418.0 188.2L422.0 191.3L424.0 191.7L425.2 191.0L426.6 189.0L431.0 177.0L434.7 171.0L436.6 169.0L442.6 165.0L451.0 161.6L459.0 156.8L467.0 154.2L472.0 153.9L476.0 154.3L482.0 156.3L488.0 159.3L491.0 159.8L493.2 159.0L493.7 158.0L493.3 155.0L495.0 153.0L497.0 152.1L500.0 151.6L507.0 152.0L517.0 151.5L521.0 150.6L525.0 149.0L532.0 149.1L534.0 147.4L536.0 146.9L552.0 147.8L555.0 147.4L565.0 147.8L572.0 149.6L581.0 150.6L585.0 150.0L590.0 150.2L592.4 149.0L594.0 145.8L596.0 144.2L601.0 146.0L605.0 145.9L606.6 145.0L610.0 141.4L614.0 139.9L616.0 138.4L618.0 137.9L624.0 139.0L629.0 138.9L631.0 139.5L638.0 144.0L638.9 145.0L640.0 148.0L641.0 148.3L642.0 148.2L646.0 145.3L650.4 144.0L654.0 141.0L657.0 139.9L661.0 137.4L664.0 136.8L676.0 136.9L677.0 136.0L677.6 134.0L678.5 133.0L681.0 132.2L693.0 136.0L702.0 136.6L711.0 134.0L721.0 137.1L724.0 136.3L728.0 132.9L731.0 132.0L734.0 132.7L741.0 136.0L749.0 135.4L755.0 137.4L757.0 137.6L779.0 132.6L790.0 132.9M50.0 119.7L52.4 121.0L53.7 123.0L54.2 125.0L53.0 127.7L50.0 129.2M50.0 138.6L53.0 138.3L58.0 137.0L63.0 138.9L69.0 139.1L72.0 138.2L76.0 135.7L78.0 135.3L81.0 138.2L83.0 138.6L87.0 138.3L89.0 139.0L91.8 141.0L94.0 143.9L95.5 145.0L101.0 145.1L108.0 147.2L111.7 150.0L117.0 152.7L121.0 157.0L130.0 160.4L141.0 171.2L151.0 175.0L153.9 179.0L158.0 181.7L160.2 185.0L162.3 187.0L174.0 191.0L179.0 194.5L188.0 198.1L196.0 204.3L205.0 207.5L208.0 209.1L215.0 215.9L222.0 220.2L225.0 222.6L231.1 229.0L232.7 233.0L234.0 234.2L235.0 233.9L240.8 229.0L249.0 224.5L263.0 215.9L268.0 213.9L277.0 211.2L288.0 206.9L302.0 198.5L325.0 187.0L334.0 182.8L342.0 180.9L344.0 180.9L349.0 182.2L357.0 182.2L367.0 180.0L370.0 178.9L375.0 178.8L377.4 180.0L380.0 182.6L382.0 185.6L384.0 186.6L388.0 186.4L392.0 184.8L398.0 183.3L401.0 184.8L407.0 184.9L414.0 187.1L418.0 189.1L422.0 192.2L424.0 192.5L426.1 191.0L427.6 189.0L431.3 178.0L435.0 172.0L437.0 169.7L443.0 165.7L447.0 164.5L452.0 162.1L456.0 159.2L460.0 157.2L467.4 155.0L476.0 155.2L482.0 157.1L488.0 160.3L491.0 160.9L494.0 160.3L499.0 156.8L501.0 156.6L504.4 157.0L505.3 158.0L505.0 159.0L503.3 162.0L502.9 164.0L504.6 169.0L505.0 169.7L506.0 169.9L508.0 169.2L510.0 167.5L512.2 164.0L512.9 161.0L511.4 158.0L511.6 157.0L512.0 156.9L514.0 156.8L516.0 157.8L520.7 158.0L525.1 162.0L527.0 165.1L528.1 166.0L530.0 166.6L539.0 166.5L543.0 165.4L548.0 165.1L557.0 161.3L561.0 160.9L562.7 162.0L566.0 166.0L567.0 168.0L567.9 172.0L569.0 172.7L573.0 173.0L576.0 172.2L579.0 168.4L581.8 167.0L586.0 166.5L593.0 166.9L596.8 168.0L597.7 169.0L599.0 172.0L600.2 173.0L610.0 175.5L613.4 179.0L615.0 179.9L620.0 178.6L625.0 180.0L629.0 178.2L634.0 177.6L638.0 176.1L642.0 176.4L646.0 174.7L650.0 174.0L652.0 174.8L657.0 178.3L660.0 178.7L663.0 176.2L674.0 170.0L675.0 170.2L675.6 171.0L677.0 175.0L678.0 175.5L681.0 176.4L686.0 178.8L690.0 179.6L697.0 182.5L699.0 182.8L701.0 181.5L702.2 180.0L702.1 179.0L700.3 177.0L700.0 176.0L701.0 174.8L703.0 174.3L708.0 174.4L718.0 171.7L725.0 171.0L733.0 163.9L735.0 162.4L736.0 162.3L743.0 166.0L745.0 166.3L747.0 164.8L749.8 161.0L753.8 157.0L760.0 154.8L762.0 155.0L763.7 156.0L768.8 163.0L768.8 165.0L766.5 172.0L766.8 174.0L769.0 176.0L773.0 177.1L776.0 176.7L777.8 175.0L780.0 171.0L782.0 170.4L785.0 170.7L790.0 172.2M50.0 170.8L53.0 170.6L55.0 171.0L61.7 177.0L66.0 178.7L75.0 178.7L82.0 177.1L90.0 177.0L97.0 178.3L100.0 177.4L102.0 177.6L103.4 179.0L106.0 183.0L117.0 187.1L123.0 190.3L128.0 192.0L137.0 196.9L141.0 198.3L145.0 200.4L153.0 202.7L160.0 205.7L166.0 206.4L172.0 209.5L177.0 210.3L185.0 216.3L192.0 218.8L199.0 223.0L205.0 225.4L219.0 228.8L230.7 235.0L234.0 236.1L237.0 235.1L245.6 228.0L263.8 217.0L268.0 215.1L278.0 212.1L284.0 209.3L288.0 208.2L298.0 202.4L302.0 199.5L316.0 193.0L326.0 187.6L334.0 183.7L339.0 182.9L342.0 181.7L344.0 181.8L348.0 183.1L358.0 183.2L360.0 182.8L362.0 181.8L368.0 180.7L370.0 179.7L375.0 179.7L376.1 180.0L378.3 182.0L382.0 186.8L385.0 187.5L389.0 187.1L392.0 185.7L398.0 184.1L399.1 185.0L399.5 186.0L398.0 190.3L396.0 191.4L392.0 191.2L389.0 191.8L388.5 192.0L388.4 193.0L390.0 195.3L392.0 197.1L398.0 199.2L401.0 199.0L403.0 198.3L412.9 193.0L413.5 192.0L409.0 189.7L405.0 189.6L404.0 189.1L403.2 187.0L404.2 186.0L407.2 186.0L410.0 187.6L413.3 188.0L417.4 190.0L422.0 193.6L424.0 193.7L427.0 191.6L429.6 188.0L430.1 185.0L431.8 182.0L432.6 178.0L434.9 175.0L436.1 172.0L438.0 170.0L441.0 168.6L444.0 166.3L448.0 165.5L450.3 164.0L452.0 163.5L456.0 160.5L460.0 158.6L465.0 157.7L467.0 156.4L471.0 156.2L475.0 156.3L478.0 157.9L481.0 158.0L485.4 160.0L488.5 163.0L489.2 164.0L489.1 165.0L488.0 165.8L481.7 165.0L480.6 164.0L480.0 160.0L479.0 158.6L478.0 158.2L472.0 159.5L468.0 158.5L465.0 158.3L463.2 160.0L461.9 164.0L459.8 168.0L459.3 170.0L460.0 171.0L461.0 170.9L468.0 166.6L473.0 165.4L475.4 166.0L476.9 168.0L477.0 170.0L474.9 176.0L474.8 179.0L476.9 182.0L480.0 184.1L483.0 184.6L488.0 183.0L491.0 182.8L493.0 183.6L496.0 185.8L497.0 185.7L498.0 185.0L501.0 181.0L507.0 178.8L520.4 176.0L526.5 178.0L527.2 179.0L528.0 182.2L529.0 183.3L534.0 182.8L539.0 184.5L542.0 183.4L544.0 183.2L554.0 185.5L558.1 190.0L559.7 193.0L560.3 195.0L560.1 199.0L561.0 200.1L566.0 202.9L568.0 202.9L571.0 199.7L572.0 199.1L574.2 200.0L577.0 203.1L586.0 200.5L588.0 200.4L589.0 201.0L592.1 205.0L596.0 208.0L599.0 208.9L605.0 207.0L607.0 207.2L608.4 208.0L612.3 213.0L615.0 214.0L619.0 213.9L625.0 214.7L634.0 211.4L639.0 213.2L644.0 212.9L646.0 213.3L648.0 215.0L650.2 218.0L655.0 228.0L656.0 229.2L658.0 230.4L661.0 230.1L665.0 227.8L665.9 224.0L665.6 218.0L666.4 217.0L682.0 213.3L690.0 208.7L693.0 207.6L703.0 206.6L706.0 207.2L709.0 211.2L712.0 213.3L714.0 213.8L719.0 213.6L730.0 220.8L734.0 222.3L739.0 222.9L741.0 223.8L743.0 225.7L745.1 230.0L747.0 231.6L750.0 231.3L755.0 227.5L758.0 226.5L762.0 227.4L770.0 230.3L774.0 230.3L779.0 228.7L783.0 223.6L785.0 222.0L787.0 221.6L790.0 221.9M445.0 173.8L443.7 175.0L442.9 177.0L443.0 178.1L444.0 179.6L449.0 180.7L451.9 182.0L453.0 181.8L453.7 181.0L453.8 179.0L452.1 176.0L448.0 173.7L446.0 173.4L445.0 173.8M435.0 181.9L434.0 182.1L432.9 184.0L433.8 186.0L435.0 186.4L437.9 185.0L438.4 184.0L437.0 182.4L435.0 181.9M439.0 194.9L437.1 199.0L436.0 199.7L429.0 199.4L427.8 200.0L428.5 201.0L430.0 201.4L440.0 202.4L443.5 201.0L446.0 198.6L448.0 200.0L450.4 200.0L452.2 197.0L452.0 195.6L451.0 195.4L446.0 197.6L445.1 196.0L443.0 194.6L441.0 194.1L439.0 194.9M327.0 196.9L321.7 199.0L319.0 201.8L316.8 203.0L316.0 204.0L316.1 205.0L316.8 206.0L319.0 207.2L322.0 210.5L323.0 211.0L326.0 210.9L330.8 207.0L331.4 206.0L331.7 203.0L331.4 200.0L330.0 198.0L327.0 196.9M50.0 206.7L60.0 207.6L70.0 209.1L77.0 205.8L82.0 201.3L85.0 199.7L93.0 200.2L100.0 201.5L107.0 201.8L109.4 203.0L114.0 207.4L119.0 208.2L121.0 208.9L129.8 217.0L135.0 220.4L137.0 221.0L142.0 220.8L146.0 222.5L152.0 223.1L157.0 225.9L164.0 227.6L172.0 231.2L181.0 232.7L187.0 235.0L191.0 236.0L197.0 236.2L222.0 238.8L230.0 237.8L234.0 238.3L239.0 237.4L242.9 233.0L248.0 228.7L260.0 222.2L264.6 219.0L267.0 218.3L269.0 217.0L273.0 216.2L275.0 214.9L279.0 213.9L284.5 211.0L288.0 210.3L293.0 207.8L297.0 205.0L299.0 204.3L303.0 201.0L306.6 199.0L311.0 197.5L312.5 199.0L312.8 200.0L312.5 201.0L311.0 203.1L307.2 206.0L305.7 209.0L305.6 214.0L307.1 217.0L309.0 218.1L319.0 221.6L330.0 222.0L336.0 220.2L340.0 217.9L341.7 216.0L343.2 213.0L343.5 210.0L342.2 202.0L340.0 198.0L336.4 195.0L333.0 193.8L325.7 193.0L325.1 192.0L326.0 190.0L330.7 187.0L333.0 186.3L334.9 185.0L340.0 184.4L343.0 183.4L347.0 184.7L360.0 184.8L364.0 183.4L368.0 182.7L371.0 181.3L373.0 181.3L375.0 181.9L378.3 185.0L379.4 188.0L381.4 190.0L382.4 194.0L385.0 198.0L387.1 203.0L389.5 205.0L392.0 206.2L399.0 204.7L402.9 203.0L409.0 201.6L410.5 201.0L412.6 199.0L415.0 198.8L421.9 201.0L424.7 204.0L426.5 205.0L429.7 208.0L432.0 208.8L449.0 207.9L460.0 208.8L462.0 208.3L470.0 204.9L478.0 206.6L488.0 205.6L491.0 207.0L493.5 210.0L495.1 211.0L498.0 211.8L505.0 210.1L507.0 210.2L511.0 212.8L521.0 216.2L526.0 216.9L531.0 218.9L540.0 220.6L546.0 224.1L549.0 225.3L551.0 225.4L555.0 224.5L557.0 224.6L563.0 227.1L568.0 227.2L569.5 228.0L572.0 230.3L574.0 231.0L581.0 229.5L584.0 229.7L591.0 234.0L596.4 236.0L603.0 240.3L611.0 243.8L613.0 243.3L615.0 242.1L618.0 241.4L624.0 241.5L628.0 240.4L630.0 240.7L634.1 244.0L641.0 247.4L644.5 251.0L646.6 255.0L646.3 257.0L645.0 259.0L644.7 260.0L645.0 260.4L647.0 261.0L651.0 257.7L657.0 255.9L659.0 255.8L665.6 258.0L666.9 261.0L666.8 262.0L666.0 263.0L663.0 264.2L659.0 264.0L658.2 265.0L658.1 267.0L662.0 268.7L666.0 271.8L670.0 273.2L676.0 277.2L678.1 277.0L682.5 274.0L683.7 273.0L684.7 271.0L684.4 270.0L680.0 267.1L678.3 265.0L678.1 262.0L679.0 260.9L681.0 260.1L684.0 260.3L686.0 261.3L687.3 263.0L688.7 268.0L689.5 269.0L694.0 271.9L696.0 272.6L705.0 272.0L711.0 268.6L717.0 267.2L720.0 268.3L724.0 274.0L726.0 275.0L729.0 275.3L733.0 274.6L739.0 270.1L745.0 268.4L747.0 268.4L751.0 270.1L753.0 270.4L757.0 270.0L761.0 270.2L767.0 268.9L772.0 270.1L776.0 268.9L783.0 270.6L790.0 269.3M651.0 339.3L650.0 340.8L650.0 342.0L652.2 356.0L650.5 364.0L651.0 365.3L652.0 365.0L653.5 363.0L655.5 358.0L658.0 349.0L657.4 346.0L655.0 342.2L653.0 340.0L651.0 339.3M50.0 230.2L55.0 231.0L62.0 233.9L68.0 232.3L74.0 232.4L82.0 230.7L90.0 231.1L97.0 233.1L100.0 233.3L105.0 230.5L107.0 230.1L112.0 232.7L116.0 233.8L120.3 238.0L123.0 239.5L127.0 239.9L131.0 239.0L134.0 238.9L141.0 240.1L146.0 240.1L149.0 241.0L154.0 241.6L161.0 246.4L169.0 248.1L177.0 252.3L181.0 253.0L190.0 251.7L195.0 251.7L208.0 248.3L213.0 247.9L218.0 245.5L223.0 245.1L236.0 240.3L239.0 241.0L242.0 242.7L251.0 241.8L254.5 240.0L256.9 236.0L258.0 234.9L261.0 233.4L266.0 232.1L267.0 232.3L270.0 234.8L272.0 235.7L277.0 234.6L282.0 238.2L289.0 240.9L291.8 240.0L294.0 237.5L296.0 236.9L309.0 235.6L318.0 235.7L328.0 236.7L333.0 238.5L343.0 239.9L348.0 241.6L351.0 241.2L356.0 238.9L365.0 236.9L367.3 238.0L368.9 241.0L369.9 242.0L372.0 242.9L373.4 239.0L373.0 233.0L373.5 230.0L374.5 228.0L377.1 225.0L378.6 222.0L381.0 220.9L388.0 220.5L391.0 220.9L394.0 222.8L398.0 228.6L403.0 230.7L406.0 232.6L415.0 236.1L423.8 242.0L425.0 242.3L428.0 242.4L435.0 238.6L441.0 240.7L446.0 239.0L448.0 240.1L453.0 243.9L455.0 244.4L457.6 244.0L461.0 241.6L462.3 239.0L461.4 235.0L459.0 232.1L454.0 229.5L452.0 229.1L449.6 230.0L446.0 233.3L444.0 233.8L440.9 232.0L440.1 231.0L440.1 230.0L444.0 227.0L446.0 226.1L451.0 225.6L454.4 224.0L458.0 222.9L464.0 224.8L468.0 230.7L469.0 231.4L474.0 232.0L490.0 231.6L495.0 233.3L502.0 234.4L511.0 237.4L516.0 239.9L517.0 239.8L525.0 236.0L534.0 235.0L539.0 235.7L540.3 237.0L540.6 240.0L539.0 240.2L530.0 238.6L528.0 238.9L526.7 240.0L525.8 242.0L525.5 244.0L526.0 245.0L530.0 247.2L535.0 251.0L547.1 256.0L548.4 257.0L551.0 260.6L553.0 262.0L560.0 263.1L562.1 264.0L563.6 266.0L566.4 274.0L566.8 281.0L568.0 282.6L571.0 283.7L574.0 285.4L577.0 286.0L581.0 285.6L587.0 283.6L590.0 283.5L594.0 285.6L598.0 289.1L604.0 291.9L608.0 293.2L612.0 295.9L614.0 296.6L616.0 296.4L618.4 295.0L620.9 290.0L621.9 289.0L628.0 287.3L631.0 287.1L633.0 288.3L635.5 292.0L637.0 293.3L639.0 294.2L646.0 295.9L647.0 296.9L647.8 299.0L647.0 301.4L645.0 304.0L641.1 307.0L640.3 309.0L640.9 315.0L642.8 320.0L640.7 324.0L639.9 328.0L639.9 332.0L640.3 334.0L643.3 340.0L643.0 341.7L641.0 342.8L639.3 346.0L640.0 350.0L638.8 355.0L638.7 358.0L641.4 369.0L642.6 372.0L642.6 381.0L650.7 394.0L655.0 397.4L656.1 397.0L658.0 391.9L659.6 389.0L666.6 382.0L676.5 366.0L680.4 362.0L681.6 359.0L682.3 353.0L683.6 350.0L686.7 347.0L689.0 342.9L690.0 342.2L695.0 341.2L697.3 340.0L704.0 333.0L706.0 332.0L709.0 331.5L713.0 332.8L715.0 332.9L718.0 332.0L721.0 330.4L726.0 330.7L728.0 330.1L729.2 328.0L731.4 316.0L733.0 314.3L735.0 313.5L738.0 313.6L741.0 317.0L743.0 318.2L745.0 318.5L751.0 318.1L757.0 321.4L759.0 321.9L761.0 321.2L761.8 320.0L763.6 311.0L765.0 309.2L766.0 308.7L768.0 308.6L770.0 309.2L772.0 310.6L775.0 314.2L777.0 315.4L779.0 315.9L782.0 315.3L787.0 311.4L790.0 310.3M521.0 252.7L519.8 254.0L519.2 257.0L520.0 258.6L522.0 260.6L523.0 261.1L524.0 260.9L524.4 260.0L523.4 257.0L523.2 254.0L522.0 252.6L521.0 252.7M50.0 256.9L57.0 258.6L63.0 258.7L69.0 260.5L75.0 261.1L78.0 260.9L80.0 260.2L85.0 255.7L87.0 255.0L99.0 257.8L114.0 255.5L123.0 256.9L131.0 259.4L137.0 259.7L147.0 262.7L149.1 265.0L150.7 269.0L152.0 270.4L159.0 270.0L163.0 268.1L166.0 267.8L169.0 268.6L173.4 271.0L178.0 272.6L182.5 277.0L187.0 283.2L190.0 284.7L191.3 284.0L191.5 281.0L192.0 279.8L193.5 279.0L201.0 277.2L206.0 274.4L207.0 273.3L207.5 272.0L207.5 268.0L210.6 263.0L211.7 257.0L215.9 253.0L218.3 250.0L220.0 248.8L222.0 248.1L230.0 248.9L233.0 248.4L234.7 247.0L236.0 243.8L237.0 243.7L242.2 248.0L243.6 250.0L243.8 252.0L242.6 257.0L242.6 259.0L244.0 264.0L246.8 269.0L256.0 271.2L262.0 273.3L264.0 273.1L272.0 270.5L275.1 268.0L277.4 265.0L281.6 261.0L284.3 259.0L287.0 258.0L295.0 258.8L300.0 258.5L307.0 260.6L312.0 263.0L314.0 263.1L318.0 262.3L325.0 259.4L331.0 260.9L339.0 260.7L341.0 260.0L346.0 257.1L350.0 255.9L354.0 256.2L360.0 258.0L363.0 258.0L365.4 256.0L367.0 251.6L369.0 250.9L376.0 250.9L380.3 253.0L385.0 256.6L389.0 256.3L392.0 255.3L398.0 249.7L399.0 249.5L408.0 256.5L411.8 258.0L416.0 258.4L421.0 261.1L431.0 262.5L433.0 261.8L438.0 258.1L440.0 257.4L450.0 259.0L453.0 260.5L457.0 263.3L462.0 264.4L466.1 268.0L467.4 270.0L468.5 273.0L470.0 273.9L472.0 272.9L477.0 266.2L478.0 265.7L480.0 265.6L489.0 270.4L498.0 274.0L499.0 275.3L503.0 283.8L506.1 286.0L507.8 288.0L509.2 293.0L510.4 295.0L512.0 296.7L515.0 298.3L518.3 302.0L524.0 303.4L528.0 306.7L536.0 309.4L541.0 310.0L547.0 309.2L550.0 309.7L563.0 317.5L565.0 317.7L569.0 316.8L571.1 317.0L572.0 317.8L574.4 324.0L578.0 327.8L581.6 333.0L581.6 334.0L577.7 337.0L576.6 339.0L577.3 343.0L579.0 345.9L581.0 347.2L592.0 351.6L600.0 353.5L608.0 357.8L610.0 358.3L615.0 358.4L623.0 361.4L626.0 362.0L632.0 365.1L634.3 368.0L634.3 371.0L633.8 372.0L630.6 374.0L629.8 375.0L629.9 376.0L636.2 381.0L639.0 382.7L648.6 396.0L654.8 403.0L658.0 405.1L660.0 404.6L669.2 400.0L675.5 395.0L681.0 389.6L687.0 387.4L691.0 383.6L697.0 381.2L706.0 374.9L712.4 372.0L716.6 369.0L718.6 366.0L720.0 364.9L728.0 362.6L734.0 362.5L739.0 361.3L744.0 360.8L750.0 358.7L756.0 358.5L758.0 357.0L759.8 354.0L764.0 349.3L766.0 348.1L768.0 348.3L770.0 349.2L775.0 353.2L776.0 353.4L779.0 352.9L785.0 353.3L790.0 351.3M209.0 476.9L203.0 480.6L201.0 483.0L200.4 485.0L200.2 489.0L202.3 492.0L206.0 492.6L211.8 492.0L210.6 479.0L211.1 477.0L209.0 476.9M109.8 268.0L111.0 268.2L111.5 269.0L111.5 271.0L111.0 271.9L110.0 271.4L109.4 269.0L109.8 268.0M353.9 270.0L355.0 269.6L357.0 269.9L357.5 271.0L355.0 273.1L354.0 272.5L353.9 270.0M382.0 283.2L381.2 284.0L381.2 285.0L382.0 286.4L383.0 286.9L385.0 286.4L387.1 285.0L382.0 283.2M50.0 286.7L54.0 286.6L59.0 287.5L66.0 287.1L69.6 290.0L77.0 291.2L82.0 293.4L85.0 292.6L90.0 288.2L94.0 286.7L104.0 288.5L109.0 291.2L113.0 291.3L115.0 289.9L118.0 282.0L117.1 279.0L114.6 276.0L114.4 275.0L115.0 274.0L118.7 272.0L126.0 270.2L130.0 268.1L132.0 270.7L134.0 272.4L141.0 276.5L144.0 277.7L146.0 278.0L154.0 276.6L156.0 276.6L162.0 281.6L165.0 283.0L167.0 282.5L169.7 280.0L171.2 280.0L171.8 281.0L171.6 283.0L175.4 288.0L176.7 292.0L177.5 293.0L182.0 294.9L185.4 298.0L190.0 299.8L192.0 301.2L195.0 301.8L199.0 301.4L200.0 301.0L202.0 299.1L206.0 296.4L215.1 292.0L216.3 291.0L216.9 288.0L214.5 285.0L213.9 282.0L214.5 281.0L218.1 278.0L218.7 276.0L217.8 274.0L214.5 271.0L213.8 270.0L213.9 269.0L218.0 263.0L220.2 257.0L222.0 255.9L225.0 255.5L227.0 256.2L227.6 257.0L228.7 262.0L231.1 268.0L230.5 270.0L224.7 280.0L224.9 282.0L226.6 284.0L229.0 284.9L233.0 284.4L243.0 284.4L248.0 286.2L253.0 286.5L261.0 288.9L274.0 294.5L277.0 294.1L279.3 292.0L280.1 290.0L281.0 289.0L283.9 287.0L290.0 284.1L294.0 282.7L298.0 283.8L303.0 283.4L305.0 282.0L307.0 279.4L311.0 277.5L313.0 277.2L316.2 278.0L318.0 276.4L319.7 274.0L324.0 271.5L332.2 274.0L335.8 276.0L337.5 278.0L338.1 281.0L339.2 283.0L341.4 285.0L344.0 285.8L347.0 285.2L351.0 281.6L360.0 275.8L364.0 274.5L369.2 274.0L370.7 275.0L373.0 278.3L380.0 280.3L389.0 274.7L391.0 274.4L393.0 275.5L395.3 278.0L395.8 282.0L396.7 283.0L399.0 283.7L400.0 281.5L401.0 281.3L401.8 282.0L402.1 284.0L399.8 285.0L400.4 287.0L401.5 289.0L408.0 297.1L411.0 297.8L415.0 297.1L416.5 296.0L419.0 293.0L421.0 292.1L429.0 290.3L432.7 291.0L438.9 294.0L440.0 295.5L440.6 301.0L442.3 307.0L442.0 310.3L443.0 310.7L448.0 306.9L452.0 305.5L461.0 307.9L462.8 309.0L463.9 311.0L464.3 318.0L467.3 328.0L468.5 330.0L471.0 331.9L473.0 332.8L488.0 334.7L490.0 334.4L495.0 332.2L497.0 332.9L499.7 337.0L500.5 341.0L500.0 342.9L498.0 346.3L496.8 351.0L497.1 354.0L498.8 358.0L500.0 359.0L504.0 358.9L505.8 360.0L506.7 365.0L506.4 371.0L506.8 373.0L509.0 375.7L513.0 377.7L516.0 377.0L517.7 375.0L517.5 373.0L516.1 370.0L516.2 369.0L517.0 368.3L519.0 368.8L520.0 369.6L521.9 372.0L526.0 375.8L530.0 381.0L534.0 382.5L540.0 382.0L548.3 379.0L549.5 378.0L552.0 373.7L555.0 372.2L557.0 372.4L564.0 375.8L573.0 381.6L575.0 382.2L578.0 382.0L580.0 382.3L583.0 383.8L586.0 386.0L591.0 387.2L600.0 393.2L603.0 393.4L607.0 391.2L610.0 390.9L615.0 391.6L621.0 393.5L626.0 393.6L633.0 395.5L635.0 396.2L639.0 399.9L646.0 405.0L655.0 410.1L659.0 411.3L668.0 411.8L675.0 411.3L685.0 409.2L687.0 408.1L690.0 405.2L692.0 404.0L699.8 402.0L706.0 401.1L711.0 403.4L713.0 403.3L715.2 402.0L719.0 397.2L722.6 395.0L725.0 394.2L728.0 394.3L734.0 397.0L736.0 397.1L744.5 393.0L750.6 385.0L753.0 383.5L762.0 383.3L767.0 383.7L772.0 381.8L774.0 381.8L777.5 383.0L781.0 385.7L786.0 385.8L790.0 388.4M508.9 356.0L510.0 355.6L511.0 356.0L513.5 358.0L514.2 359.0L514.0 361.1L512.0 361.4L509.4 360.0L508.2 358.0L508.9 356.0M208.0 472.0L201.0 472.8L198.0 474.2L194.0 475.1L189.5 477.0L188.9 478.0L188.4 483.0L188.7 489.0L189.7 492.0L190.0 495.1L191.6 498.0L192.1 501.0L194.5 506.0L199.9 514.0L201.7 521.0L206.0 527.0L207.0 530.8L210.6 533.0L212.3 536.0L214.0 536.7L221.0 531.0L224.6 525.0L225.3 521.0L222.4 513.0L221.7 507.0L223.1 504.0L228.0 500.6L228.8 498.0L227.7 492.0L225.2 488.0L223.1 483.0L218.7 476.0L216.8 474.0L214.0 472.5L212.0 471.9L208.0 472.0M215.0 541.9L213.0 542.5L210.7 545.0L209.7 548.0L210.5 551.0L213.0 552.9L218.0 553.9L220.0 554.0L222.7 553.0L223.9 552.0L224.8 550.0L225.1 546.0L224.6 544.0L223.0 542.9L220.0 542.8L215.0 541.9M50.0 323.7L55.0 323.2L60.0 320.4L62.0 319.8L69.0 320.0L72.0 320.5L75.8 324.0L80.0 326.1L81.2 328.0L82.4 332.0L84.0 333.8L89.0 336.2L93.0 339.2L99.0 342.6L103.0 345.5L105.0 345.8L108.0 344.8L112.0 345.2L114.0 344.8L117.1 342.0L124.0 339.1L126.0 336.7L129.0 334.9L133.0 334.3L139.0 331.5L145.0 329.9L147.1 328.0L147.5 326.0L147.5 323.0L148.0 321.9L152.0 321.4L154.7 318.0L156.0 317.4L161.1 318.0L162.0 317.0L163.5 313.0L166.5 309.0L167.0 307.0L166.0 304.4L163.0 302.4L162.0 302.3L159.0 303.9L158.0 303.9L157.0 303.0L156.9 301.0L158.7 295.0L162.0 292.8L164.0 292.9L165.8 294.0L175.6 301.0L177.3 303.0L179.4 308.0L181.0 309.2L184.0 309.1L188.0 306.9L195.0 306.7L199.0 304.9L208.0 303.7L210.1 305.0L212.7 308.0L214.7 312.0L215.0 314.3L216.0 316.0L217.0 315.7L218.6 314.0L221.1 313.0L237.0 310.3L244.0 313.4L247.3 313.0L250.0 315.9L254.0 319.0L258.0 320.1L260.0 319.9L265.0 317.9L266.1 318.0L270.0 320.1L273.0 319.8L275.0 318.8L280.4 314.0L285.0 311.4L287.0 311.0L291.0 311.4L294.4 313.0L297.0 314.8L299.6 315.0L301.0 314.0L302.1 310.0L304.0 307.3L307.0 305.6L309.0 305.5L318.0 308.6L323.0 309.2L329.0 308.8L331.4 310.0L332.9 312.0L333.1 314.0L330.5 324.0L330.4 327.0L332.0 329.1L341.0 335.0L343.0 335.8L349.0 336.2L353.5 335.0L350.6 331.0L350.0 328.0L352.4 322.0L354.0 319.8L356.0 319.6L362.0 321.0L362.8 322.0L362.9 324.0L360.0 330.7L359.0 331.8L354.4 335.0L358.0 341.0L359.2 342.0L365.0 344.0L368.5 348.0L372.2 355.0L372.4 358.0L371.9 362.0L373.1 365.0L375.0 366.7L377.0 367.6L379.0 367.7L385.0 366.3L389.0 368.4L393.0 371.3L399.0 371.2L403.0 371.7L416.0 375.2L417.5 377.0L417.6 379.0L417.1 380.0L410.3 384.0L409.2 386.0L409.3 388.0L411.0 390.8L417.0 396.2L422.0 398.9L426.0 399.3L426.7 399.0L426.9 396.0L429.6 390.0L429.0 388.0L425.8 384.0L425.8 383.0L427.0 381.6L429.0 380.7L431.0 380.9L432.0 381.4L433.8 384.0L435.6 390.0L432.2 398.0L432.2 401.0L437.9 407.0L441.0 408.6L447.0 408.3L453.0 406.2L456.0 406.0L459.0 403.7L460.0 403.6L463.0 405.2L467.0 409.2L470.0 411.2L472.0 411.1L480.0 407.5L483.0 407.4L486.0 408.4L492.0 413.2L494.0 413.6L501.0 412.6L505.0 408.4L506.0 408.3L509.0 411.0L512.0 411.1L515.8 409.0L519.0 405.0L522.0 404.4L527.0 405.7L530.0 407.1L531.4 409.0L532.1 411.0L532.7 416.0L534.8 418.0L538.0 418.9L541.0 418.8L545.0 419.4L550.0 418.4L551.0 418.6L552.2 420.0L552.5 423.0L554.0 423.8L558.0 422.9L561.2 421.0L562.9 418.0L562.7 413.0L564.0 411.9L567.0 411.2L572.0 411.7L578.2 411.0L579.0 411.3L581.5 415.0L584.0 417.3L585.0 417.6L589.0 417.3L591.0 417.8L595.0 420.4L596.5 422.0L600.0 422.6L602.0 423.6L606.0 422.9L614.0 422.8L618.0 422.2L620.0 421.2L622.0 419.0L623.0 418.7L632.0 418.8L646.0 417.2L652.0 417.5L659.1 420.0L663.8 424.0L667.3 426.0L676.0 428.1L678.0 429.2L681.0 429.9L683.0 431.2L686.0 431.6L689.0 433.1L691.0 433.6L695.0 435.6L696.4 437.0L706.0 443.2L707.0 442.2L708.5 439.0L711.5 435.0L721.8 426.0L724.3 422.0L726.0 421.4L731.0 422.5L733.0 422.1L734.9 419.0L736.0 418.1L741.0 416.0L751.0 414.2L758.0 414.2L764.0 414.9L768.0 412.9L773.8 415.0L780.0 414.8L784.0 415.1L790.0 417.6M386.6 335.0L388.4 336.0L391.8 341.0L392.2 343.0L391.0 344.7L388.0 344.6L386.4 343.0L384.7 338.0L385.1 336.0L386.0 335.0L386.6 335.0M393.6 362.0L395.0 362.1L396.3 364.0L396.4 366.0L396.0 366.8L395.0 367.2L393.0 366.8L391.2 365.0L391.1 364.0L391.8 363.0L393.6 362.0M99.0 369.6L98.7 371.0L100.0 377.5L101.0 379.0L103.0 380.3L104.0 379.7L105.3 377.0L105.2 371.0L101.0 369.5L99.0 369.6M320.0 394.0L318.6 396.0L317.3 400.0L317.6 402.0L319.0 403.5L321.0 404.5L323.0 404.5L325.0 403.8L326.2 403.0L327.4 401.0L326.8 398.0L323.0 394.3L322.0 393.8L320.0 394.0M289.2 568.0L290.4 563.0L293.5 557.0L293.5 555.0L292.2 552.0L292.5 550.0L294.0 548.9L297.0 548.4L298.8 549.0L302.0 551.1L304.0 551.4L306.0 551.0L306.5 550.0L305.8 546.0L307.7 544.0L313.0 540.8L313.7 540.0L313.5 538.0L311.7 536.0L305.0 531.3L301.0 529.3L293.0 521.6L288.0 520.9L287.0 520.2L288.8 516.0L288.8 515.0L286.1 508.0L283.7 504.0L283.7 497.0L279.0 488.9L271.0 483.0L262.0 473.3L257.4 470.0L254.0 466.2L249.0 464.4L243.0 463.8L241.9 463.0L240.0 458.9L239.0 458.0L237.0 457.5L232.5 458.0L229.1 459.0L225.5 463.0L224.0 464.0L217.0 466.3L214.0 466.6L212.8 466.0L211.0 463.8L210.0 463.7L207.0 465.1L201.2 466.0L193.0 469.7L190.0 470.4L188.0 471.6L185.0 472.4L180.7 475.0L178.4 479.0L178.6 482.0L181.5 486.0L184.9 494.0L187.7 505.0L190.0 509.5L197.0 520.0L200.3 527.0L202.0 529.0L202.9 532.0L204.2 534.0L206.1 540.0L205.9 542.0L202.7 554.0L203.1 562.0L201.9 568.0M50.0 344.9L60.0 345.1L63.7 346.0L69.0 348.3L75.0 348.8L78.0 350.3L85.0 355.7L89.0 358.0L91.0 360.1L93.1 364.0L94.3 374.0L95.8 377.0L96.9 382.0L99.0 385.0L102.0 387.3L104.0 388.2L106.0 386.6L107.9 383.0L109.6 367.0L111.0 363.0L113.0 361.0L115.0 359.9L123.0 357.7L128.0 357.0L134.0 357.2L140.0 359.5L151.0 360.8L156.0 363.2L161.0 363.4L166.0 366.1L171.0 370.6L172.0 371.0L173.0 370.7L179.0 365.2L182.3 360.0L184.0 359.2L185.0 359.4L191.5 364.0L189.0 372.0L189.2 374.0L190.0 375.1L194.0 377.2L197.0 378.0L202.0 378.0L207.0 376.1L210.0 376.4L213.1 378.0L215.7 382.0L217.0 382.6L219.0 381.8L224.7 375.0L225.0 373.0L224.6 372.0L224.0 371.3L221.0 370.4L220.0 369.2L218.4 363.0L219.0 360.7L221.0 358.5L223.0 357.5L227.0 357.7L229.0 355.9L229.4 354.0L228.3 353.0L227.0 352.9L224.0 354.1L223.0 352.0L225.9 349.0L226.8 346.0L227.6 345.0L229.0 344.3L231.0 344.4L235.0 346.9L236.4 349.0L238.1 354.0L240.8 358.0L240.8 359.0L239.9 360.0L236.0 363.8L233.0 366.0L232.0 367.3L231.5 371.0L230.3 375.0L231.9 380.0L231.2 381.0L227.4 383.0L226.3 385.0L227.9 393.0L227.7 395.0L227.0 395.5L224.0 395.7L223.0 396.5L221.8 403.0L220.3 405.0L218.0 407.0L216.0 410.0L214.0 411.2L211.0 410.4L209.0 410.7L204.0 414.9L202.4 417.0L201.8 419.0L201.8 422.0L207.2 439.0L207.4 440.0L207.0 441.6L203.0 444.9L197.9 451.0L193.5 455.0L189.0 461.7L184.0 463.6L179.0 464.0L175.0 467.3L172.4 470.0L170.0 474.6L166.7 479.0L166.4 480.0L166.9 485.0L163.8 489.0L164.3 490.0L165.0 490.4L171.0 492.1L172.0 492.9L174.4 496.0L176.0 499.8L176.0 501.0L175.0 502.7L174.0 503.0L166.0 501.6L165.0 501.7L164.0 502.5L163.4 507.0L163.6 509.0L166.0 513.9L168.8 517.0L169.1 519.0L168.0 520.5L166.0 521.0L162.0 518.4L159.0 517.8L157.6 519.0L157.1 523.0L158.0 524.7L162.0 525.0L162.6 526.0L162.6 531.0L163.7 533.0L165.0 533.4L169.0 532.4L171.0 533.9L173.2 537.0L173.4 540.0L171.1 547.0L170.0 548.5L167.0 550.3L161.3 552.0L158.0 557.9L156.0 559.9L155.0 560.5L154.0 560.4L152.0 558.1L151.1 556.0L154.1 549.0L154.0 546.8L152.0 544.8L148.0 544.1L146.5 543.0L143.5 539.0L142.8 536.0L140.2 533.0L139.0 532.3L137.0 532.1L131.0 533.6L127.8 538.0L120.0 540.1L117.4 540.0L113.0 538.0L111.0 538.2L106.0 543.5L104.0 544.3L100.0 544.6L97.7 544.0L96.6 543.0L95.7 540.0L95.9 536.0L95.0 535.1L92.0 534.9L89.0 536.7L87.0 537.1L85.0 536.2L82.0 533.3L80.0 532.3L72.0 532.4L69.0 530.9L66.3 529.0L63.3 524.0L62.0 523.0L60.0 522.7L52.0 526.3L50.0 526.6M250.2 345.0L253.0 344.4L258.0 345.2L264.0 346.9L265.7 348.0L266.3 352.0L267.4 354.0L262.0 361.9L260.0 363.8L259.0 363.9L257.3 362.0L256.8 357.0L256.0 355.6L252.1 352.0L250.0 351.4L248.7 350.0L248.7 347.0L250.2 345.0M195.7 359.0L198.0 359.2L198.8 361.0L198.3 362.0L197.0 362.9L194.0 363.4L193.3 363.0L193.8 361.0L195.7 359.0M151.0 392.6L148.5 394.0L145.0 395.2L139.0 398.7L131.0 400.0L129.7 401.0L127.4 407.0L127.1 410.0L127.4 412.0L128.3 414.0L134.0 419.6L137.0 420.4L141.0 419.8L142.9 418.0L146.3 416.0L148.0 410.0L150.1 407.0L151.6 406.0L156.0 405.4L158.4 404.0L164.0 402.5L166.0 401.4L167.3 400.0L167.5 398.0L167.0 396.9L166.0 396.2L162.0 396.3L158.4 393.0L157.0 392.4L151.0 392.6M211.0 398.4L210.2 399.0L209.9 400.0L211.0 402.9L212.0 403.5L214.3 403.0L215.4 401.0L214.9 399.0L213.0 398.0L211.0 398.4M532.5 448.0L534.0 447.2L535.0 447.3L535.9 448.0L536.4 450.0L535.4 452.0L534.0 452.5L532.0 451.7L531.5 450.0L532.5 448.0M127.0 473.7L125.0 475.6L123.3 478.0L120.8 488.0L122.0 489.6L125.0 491.6L128.0 492.5L130.0 492.0L134.8 488.0L135.9 486.0L136.2 483.0L134.0 475.6L130.0 473.3L128.0 473.2L127.0 473.7M180.2 524.0L182.0 523.9L184.0 525.9L184.6 528.0L184.0 528.7L181.0 528.3L179.2 527.0L179.0 526.0L180.2 524.0M50.0 544.1L52.7 543.0L55.4 539.0L58.0 537.6L62.0 537.6L65.0 538.4L66.5 540.0L67.1 542.0L67.0 545.0L66.4 546.0L65.0 546.7L62.0 546.9L61.0 548.0L60.0 551.0L58.0 552.8L56.0 553.2L54.4 553.0L50.0 550.5M190.9 546.0L192.0 545.5L193.4 547.0L193.6 548.0L192.0 548.8L191.0 548.4L190.5 547.0L190.9 546.0M138.3 551.0L140.0 550.1L141.0 550.6L142.1 552.0L142.0 554.1L140.0 556.4L139.0 556.6L138.0 556.2L137.4 555.0L137.2 553.0L138.3 551.0M148.6 568.0L149.1 566.0L150.0 564.7L153.0 563.1L154.2 564.0L155.2 568.0M415.0 568.0L414.8 565.0L413.3 563.0L410.0 561.2L403.6 561.0L400.0 555.0L399.4 553.0L399.6 552.0L401.0 550.6L404.0 549.5L405.0 548.7L407.5 543.0L407.5 541.0L407.0 540.6L405.0 540.7L401.0 543.4L400.0 543.3L398.5 542.0L396.4 537.0L397.4 534.0L397.3 533.0L394.4 531.0L393.7 530.0L393.1 525.0L390.1 520.0L389.7 516.0L390.0 514.3L391.0 512.7L392.0 512.4L393.0 512.7L397.0 516.0L401.6 522.0L404.0 523.0L407.0 523.4L414.0 522.6L416.0 521.6L418.0 518.3L418.9 514.0L416.7 510.0L414.0 502.5L412.0 499.8L410.0 499.1L407.0 499.6L403.5 503.0L402.0 503.7L400.0 503.5L398.0 502.0L397.6 500.0L399.0 497.2L401.0 495.7L405.0 494.5L406.3 493.0L407.4 487.0L407.3 480.0L406.4 478.0L402.2 473.0L400.9 468.0L399.0 464.0L397.0 462.5L389.1 459.0L388.0 458.0L387.7 456.0L389.5 450.0L389.9 446.0L391.9 441.0L391.8 439.0L390.7 436.0L387.0 431.5L380.0 429.3L377.0 427.3L376.0 425.9L374.7 422.0L371.8 418.0L370.4 415.0L370.6 412.0L371.9 410.0L374.1 408.0L379.0 405.3L382.0 401.8L384.0 400.6L387.0 400.8L391.0 404.0L393.0 404.7L398.0 403.5L403.0 403.7L405.0 404.5L408.0 406.9L413.4 410.0L412.6 414.0L415.7 420.0L416.1 423.0L415.7 425.0L415.0 426.3L410.0 428.1L407.6 430.0L406.8 434.0L403.8 438.0L403.9 440.0L405.0 441.6L407.0 442.2L410.0 441.3L419.0 441.6L425.0 441.1L428.0 443.4L435.0 446.1L437.2 449.0L438.8 453.0L440.0 453.9L447.0 454.3L449.0 455.4L451.8 459.0L454.0 460.7L460.0 463.8L464.0 465.0L474.0 465.3L479.6 463.0L484.0 460.2L493.0 457.7L495.0 458.4L501.0 465.1L504.0 466.9L507.0 467.8L511.0 467.3L515.0 469.1L520.0 469.7L527.0 467.7L527.4 467.0L526.8 462.0L527.0 460.9L528.0 459.9L537.0 460.2L539.9 463.0L542.0 464.1L544.0 464.2L546.9 463.0L552.0 459.0L556.0 457.3L557.8 456.0L560.1 452.0L562.0 445.3L563.0 444.6L566.0 444.0L568.0 444.2L569.7 447.0L571.7 449.0L574.8 451.0L576.0 451.0L582.0 448.1L586.0 443.2L594.0 440.3L599.0 440.6L605.0 439.8L609.0 440.5L613.0 440.5L615.4 439.0L617.5 435.0L620.5 432.0L628.0 431.4L639.0 428.6L647.0 427.2L650.0 427.8L654.0 431.5L664.0 434.5L678.0 434.1L681.8 435.0L687.0 438.7L693.0 440.1L697.1 442.0L701.0 444.7L703.0 446.9L708.0 449.2L714.0 448.5L721.0 445.3L727.0 443.8L735.0 442.3L742.0 442.3L745.0 441.8L752.0 439.9L758.2 437.0L762.0 436.0L765.0 436.6L769.0 438.4L776.0 440.0L782.0 442.8L784.0 442.8L790.0 440.3M50.0 367.7L57.0 365.2L68.0 365.2L72.0 364.0L74.0 364.1L80.0 366.3L84.0 369.5L90.3 377.0L91.1 379.0L90.0 388.6L88.6 392.0L87.0 393.4L85.0 393.5L81.7 392.0L76.0 390.9L70.0 393.3L64.0 393.5L62.0 392.5L60.0 390.8L58.0 390.1L56.0 390.7L52.0 393.4L50.0 394.1M116.2 370.0L119.5 370.0L127.0 374.6L131.0 374.1L134.0 375.2L140.0 381.0L140.8 383.0L140.2 385.0L136.0 388.9L127.0 392.8L119.0 393.4L116.0 392.5L114.0 390.3L112.1 386.0L112.5 382.0L114.5 378.0L115.4 371.0L116.2 370.0M66.1 396.0L68.0 395.3L70.0 395.4L71.8 397.0L71.8 398.0L71.0 399.0L66.9 401.0L64.0 403.2L63.0 402.0L63.2 399.0L64.0 397.5L66.1 396.0M166.5 411.0L169.0 410.9L175.0 413.3L177.1 413.0L180.0 410.7L184.0 412.0L188.0 422.2L189.0 427.0L188.7 429.0L184.3 438.0L183.0 439.0L181.3 439.0L180.2 438.0L179.4 436.0L178.0 435.1L175.0 434.9L170.0 435.3L166.9 436.0L165.0 438.8L164.0 439.4L160.0 440.4L155.0 442.6L152.0 443.4L150.0 443.0L148.0 438.9L146.0 438.6L145.0 440.0L144.9 442.0L146.7 447.0L145.7 449.0L144.4 450.0L138.0 451.3L133.0 451.4L130.0 450.7L127.4 449.0L126.3 447.0L126.0 444.0L126.8 442.0L128.0 440.4L129.0 439.7L131.0 439.3L142.0 439.5L146.0 437.7L148.2 435.0L154.0 422.5L155.0 421.8L159.0 421.3L160.0 420.5L161.0 419.0L162.2 414.0L164.0 411.9L166.5 411.0M747.3 496.0L749.0 495.7L750.0 496.3L752.0 499.0L752.5 501.0L752.0 502.2L751.0 503.1L748.0 503.7L746.0 503.0L745.5 500.0L746.5 497.0L747.3 496.0" fill="none" stroke="#000" stroke-opacity="0.8" stroke-width="0.6"/>
<path d="M50.0 242.7L55.0 242.2L61.0 243.7L66.0 243.3L70.0 244.0L76.0 242.2L84.0 241.6L92.0 244.3L106.0 243.3L111.0 245.0L123.0 245.9L127.0 246.7L133.0 246.1L140.0 249.6L148.0 251.1L154.0 254.2L158.8 258.0L164.9 260.0L172.0 261.0L179.4 264.0L191.0 265.1L196.0 264.4L201.0 267.1L205.0 264.4L208.0 263.6L208.7 263.0L209.2 261.0L207.8 258.0L208.0 256.0L210.0 254.0L214.3 253.0L216.7 249.0L218.0 248.0L220.5 247.0L230.0 245.3L232.0 244.3L234.5 242.0L236.0 241.4L238.0 242.0L246.0 246.7L252.0 254.5L254.0 255.7L256.0 255.2L261.0 251.1L264.0 249.9L266.0 250.0L270.0 252.6L272.0 252.8L285.0 248.6L296.0 249.2L301.0 248.6L307.0 251.0L314.0 250.8L320.0 252.0L322.0 251.0L324.0 248.5L325.0 248.0L326.2 248.0L331.0 249.6L346.0 248.2L355.0 248.2L361.0 247.5L366.0 246.2L373.0 246.8L380.0 243.7L386.0 242.6L392.0 242.4L398.0 239.2L402.0 238.4L406.0 238.8L409.0 240.0L415.1 247.0L420.0 249.6L424.0 250.9L428.0 251.0L439.0 249.0L446.0 248.7L455.0 250.1L463.0 249.6L472.0 250.2L487.0 256.3L503.9 260.0L508.1 268.0L510.0 269.9L517.0 271.6L524.0 275.0L529.0 275.5L533.0 275.2L535.0 276.0L538.0 278.2L541.0 281.4L543.3 285.0L546.0 290.8L548.0 292.6L554.0 293.4L561.0 298.5L567.0 299.0L570.0 300.5L575.0 300.4L581.0 301.6L582.9 303.0L584.6 307.0L586.0 308.2L588.0 308.9L592.0 308.9L598.0 310.4L601.0 311.7L606.0 314.8L607.2 316.0L608.1 318.0L608.2 324.0L610.8 332.0L610.2 337.0L610.8 339.0L613.0 339.7L619.0 339.3L625.0 348.7L630.0 353.5L633.0 360.0L637.0 366.3L638.3 372.0L639.9 376.0L641.1 382.0L649.0 394.1L656.0 401.5L657.0 402.0L658.0 401.8L661.0 399.0L665.2 393.0L669.1 389.0L675.0 381.1L677.0 379.9L681.8 379.0L683.0 378.3L686.0 372.8L688.0 371.7L690.6 371.0L691.9 370.0L692.5 363.0L694.0 359.0L696.0 356.7L698.0 356.4L703.0 357.3L706.0 357.2L708.3 356.0L711.0 351.6L713.0 350.3L715.0 350.1L720.0 351.0L723.0 350.2L729.1 347.0L737.2 339.0L741.0 336.6L743.0 336.6L747.0 337.9L757.0 337.7L760.0 336.8L764.0 334.0L767.0 333.4L769.0 334.0L771.0 335.6L773.0 336.4L775.0 336.1L780.0 334.4L782.0 334.4L790.0 338.6M50.0 273.6L54.0 272.9L63.0 273.4L66.0 274.4L73.0 277.9L74.0 277.8L79.0 272.5L81.0 271.8L84.0 271.6L87.0 270.8L89.0 269.9L92.7 267.0L95.0 266.0L103.0 266.2L109.0 263.6L112.0 263.0L125.0 263.6L137.0 266.1L147.3 272.0L150.0 273.1L156.0 273.5L162.0 275.0L169.0 274.8L174.0 276.2L177.3 279.0L182.0 287.4L184.0 289.8L194.0 295.7L197.0 296.7L199.0 296.3L200.8 295.0L206.3 287.0L207.0 285.0L207.5 280.0L209.4 274.0L210.1 268.0L212.5 263.0L213.3 259.0L215.7 255.0L219.5 251.0L222.0 249.5L224.0 250.0L228.1 252.0L232.3 255.0L240.5 271.0L243.3 274.0L247.0 276.1L255.0 278.2L262.0 281.1L265.0 281.7L270.0 282.0L274.0 281.0L280.6 278.0L285.0 273.7L287.0 272.4L289.0 271.9L299.0 271.9L307.0 269.5L315.0 269.6L324.0 267.1L334.0 267.3L339.0 268.0L348.0 265.4L355.0 262.8L359.1 263.0L365.0 265.5L367.0 265.9L374.0 265.9L380.0 266.8L386.0 265.3L393.2 266.0L397.0 266.9L402.0 269.7L405.0 270.5L408.0 270.5L415.0 269.2L418.0 269.5L424.0 272.3L429.9 274.0L434.0 276.5L439.0 277.7L442.5 281.0L445.0 282.3L449.0 283.3L456.0 283.9L458.0 286.0L459.2 290.0L461.0 291.8L469.0 294.7L473.0 293.2L473.7 294.0L471.5 298.0L471.4 299.0L472.3 301.0L474.0 301.9L479.0 303.1L483.0 305.4L489.0 307.8L493.8 312.0L503.0 317.2L506.3 321.0L516.0 330.1L521.3 331.0L524.0 333.6L525.0 333.9L533.0 332.7L537.0 333.4L539.0 334.9L541.0 337.6L546.5 340.0L550.0 343.8L552.0 345.0L556.0 345.8L561.0 345.1L563.0 346.0L569.0 350.7L569.7 355.0L571.0 356.9L576.0 357.6L579.1 360.0L581.0 360.7L588.0 361.5L594.0 365.5L601.0 366.5L604.0 367.7L606.9 370.0L609.5 374.0L613.0 377.4L616.0 381.1L619.0 382.5L625.0 383.4L633.0 388.4L644.0 396.4L650.0 402.1L658.0 407.6L662.0 407.4L678.0 403.7L686.0 398.6L693.0 395.3L701.5 393.0L703.3 391.0L704.3 387.0L706.0 385.4L710.0 384.6L713.5 382.0L716.0 380.8L723.0 380.9L726.0 380.2L728.0 379.2L732.0 375.8L734.0 374.7L740.0 375.8L754.0 371.1L757.0 370.6L759.0 370.9L764.0 373.0L770.0 372.5L777.0 373.0L779.0 372.3L784.0 369.0L790.0 369.4M206.0 474.8L200.0 476.2L196.0 478.4L193.8 481.0L193.2 485.0L193.7 490.0L195.3 494.0L197.0 496.2L200.7 499.0L204.0 503.2L206.0 504.8L209.0 502.0L215.0 497.7L217.0 494.0L217.7 490.0L216.0 480.0L214.6 476.0L212.0 474.2L209.0 474.1L206.0 474.8M213.0 516.5L212.0 517.1L211.0 518.8L211.1 521.0L213.0 523.0L215.0 523.4L216.7 522.0L217.2 520.0L216.3 518.0L215.0 516.8L213.0 516.5M212.0 546.0L210.9 547.0L210.9 549.0L212.0 550.1L214.0 549.8L215.4 548.0L215.1 547.0L213.7 546.0L212.0 546.0M50.0 311.2L61.0 310.4L64.0 309.0L68.0 306.3L71.0 305.2L72.0 305.4L74.7 308.0L77.0 308.9L83.0 309.1L88.0 311.2L96.4 312.0L97.6 313.0L98.3 316.0L100.0 317.1L104.0 314.3L109.0 314.2L116.0 312.8L117.0 312.3L118.1 310.0L120.0 307.7L122.0 306.2L124.0 305.6L127.0 305.9L136.0 310.3L138.0 310.5L145.0 298.5L148.9 294.0L155.0 289.4L159.0 288.6L162.0 288.7L169.0 290.2L171.0 291.5L175.0 295.5L177.0 296.1L179.0 295.7L180.5 296.0L181.6 299.0L184.0 301.4L187.0 302.7L193.0 304.0L200.0 302.9L206.0 300.8L209.0 300.3L217.0 301.7L224.0 300.7L231.0 302.2L236.0 301.0L240.0 300.8L243.0 301.4L246.0 303.2L249.0 304.0L253.3 304.0L262.0 302.8L268.0 304.3L277.0 304.4L285.0 301.4L292.0 300.0L298.0 294.9L300.0 294.8L303.0 295.7L305.0 295.7L314.0 292.4L323.0 294.8L332.0 293.4L335.0 294.2L338.6 296.0L342.8 300.0L344.0 300.5L346.0 300.1L349.0 298.4L355.0 301.9L358.0 301.9L360.0 300.0L361.0 299.8L370.0 302.4L377.0 305.0L380.0 305.1L385.0 304.2L388.3 305.0L394.5 310.0L398.0 316.3L401.0 326.0L409.3 331.0L410.7 333.0L411.6 336.0L412.8 337.0L415.0 337.4L417.0 336.6L418.6 332.0L421.0 329.9L423.0 329.3L425.2 330.0L425.6 331.0L425.0 332.9L421.2 337.0L419.6 345.0L420.4 347.0L424.0 350.0L425.0 350.7L427.0 350.8L432.0 347.5L433.0 347.3L439.0 349.8L445.0 349.5L449.6 351.0L451.8 353.0L452.7 356.0L454.0 358.0L459.0 363.2L460.5 366.0L462.0 370.2L465.1 374.0L467.0 377.8L468.0 378.8L470.0 379.5L474.0 379.7L478.0 379.1L482.0 377.1L486.0 377.4L492.0 381.9L499.0 383.8L502.0 388.1L505.0 390.1L507.0 390.2L510.0 389.7L516.0 387.3L518.0 387.1L526.0 389.2L534.0 390.7L541.0 391.4L547.0 395.2L557.0 396.8L566.0 397.8L572.0 396.1L576.0 398.2L578.0 398.5L584.0 396.2L585.8 397.0L589.0 400.7L599.0 405.5L603.0 406.7L623.0 408.2L629.0 410.7L634.0 410.0L645.0 411.4L657.0 414.6L664.0 415.9L674.0 418.7L677.0 418.8L681.0 418.1L691.0 418.3L699.0 420.1L705.0 423.3L708.0 422.3L710.8 420.0L713.0 417.5L715.5 413.0L717.0 411.5L723.0 408.9L730.0 409.4L734.0 407.0L740.0 406.4L749.9 404.0L756.0 401.1L760.0 400.2L765.0 400.1L769.5 398.0L772.0 397.4L775.0 397.7L779.0 400.0L782.0 401.0L785.0 401.1L790.0 400.4M125.0 314.0L122.0 316.5L119.0 315.0L118.0 315.0L117.2 318.0L118.0 319.0L119.0 319.2L122.0 317.7L125.0 319.2L127.0 318.8L128.4 318.0L129.6 316.0L129.0 314.3L127.0 313.5L125.0 314.0M470.1 366.0L471.0 365.2L472.0 365.1L473.0 365.7L474.0 367.7L474.0 370.3L473.0 371.7L472.0 372.1L470.8 372.0L469.4 371.0L469.1 369.0L470.1 366.0M322.0 398.7L320.8 400.0L322.0 401.2L323.4 400.0L323.0 399.2L322.0 398.7M268.0 546.9L266.1 549.0L266.0 551.7L266.9 553.0L268.0 553.6L270.0 553.4L271.8 552.0L271.7 549.0L270.0 546.9L268.0 546.9M255.3 568.0L255.0 564.5L253.6 561.0L253.3 559.0L257.0 550.9L260.0 548.1L260.1 547.0L259.0 545.6L256.0 544.0L253.0 540.5L245.0 538.2L243.8 537.0L243.8 536.0L249.0 528.0L255.0 523.7L258.5 520.0L258.8 518.0L257.4 514.0L257.3 510.0L254.9 504.0L254.5 500.0L254.0 499.0L249.0 496.7L244.0 493.5L239.0 486.5L233.0 484.0L231.0 482.6L228.9 480.0L226.1 475.0L224.0 473.0L217.0 470.2L212.0 469.1L208.0 469.0L198.0 470.5L195.0 471.9L191.0 472.7L188.0 474.1L186.6 475.0L185.1 477.0L183.8 482.0L184.1 484.0L189.2 498.0L190.3 503.0L196.0 514.0L197.5 518.0L199.0 520.0L199.4 522.0L201.0 524.0L201.6 526.0L206.4 533.0L208.7 538.0L209.3 541.0L208.1 552.0L210.9 560.0L211.3 568.0M50.0 335.8L56.0 335.5L63.0 338.3L65.3 338.0L70.0 335.7L73.0 335.5L74.2 336.0L78.0 339.5L84.3 343.0L87.7 347.0L91.0 349.0L93.0 350.9L100.4 362.0L97.0 366.9L96.1 369.0L96.0 371.0L98.8 380.0L101.8 383.0L104.0 383.6L105.8 382.0L107.0 378.7L107.5 370.0L107.0 368.3L103.1 363.0L103.3 362.0L108.8 355.0L112.0 353.5L119.0 352.3L123.5 351.0L128.0 349.0L133.0 348.3L138.0 346.5L141.0 346.0L143.0 346.2L144.7 347.0L148.0 350.8L150.0 352.2L152.0 352.5L154.0 352.1L157.0 350.0L160.0 344.2L162.0 341.5L166.0 338.0L168.0 337.2L170.0 337.2L175.0 339.0L182.0 337.5L190.0 340.1L191.5 339.0L194.6 334.0L197.0 332.2L199.0 331.4L200.0 331.4L200.8 332.0L203.0 336.1L206.0 337.1L216.0 334.1L221.0 331.9L228.0 331.3L234.0 332.0L238.0 331.3L243.0 333.2L250.0 334.9L252.0 334.8L256.0 333.7L259.0 334.0L264.0 335.9L271.0 339.9L274.0 340.5L276.3 340.0L279.2 337.0L284.0 334.4L285.0 334.8L288.9 340.0L293.0 343.0L294.0 342.9L299.0 338.6L301.0 338.3L304.0 339.1L306.0 338.9L308.9 337.0L312.0 333.8L314.0 333.1L315.0 333.2L316.3 334.0L316.8 335.0L315.4 339.0L315.7 340.0L320.0 339.9L322.0 340.5L324.2 342.0L327.0 345.8L328.0 346.3L329.1 346.0L331.0 343.0L332.0 342.6L339.0 343.3L340.6 344.0L340.7 345.0L339.2 352.0L337.6 356.0L338.0 358.0L341.0 360.0L344.1 364.0L346.0 364.9L348.0 365.1L356.0 363.8L357.0 364.0L357.9 365.0L360.8 372.0L361.1 374.0L360.5 375.0L358.0 376.9L355.7 380.0L355.4 381.0L355.7 382.0L357.0 383.0L362.0 384.4L364.0 384.1L367.0 382.6L370.0 383.4L374.0 383.6L384.2 386.0L390.0 388.5L399.0 391.4L405.0 395.3L411.0 400.9L424.0 407.8L429.0 414.5L431.0 416.4L440.0 420.3L444.2 423.0L447.1 426.0L447.5 427.0L447.2 429.0L448.0 430.5L449.3 431.0L451.0 430.8L451.8 430.0L450.9 427.0L451.6 426.0L456.0 423.3L459.6 419.0L461.0 418.3L462.0 418.5L463.2 420.0L463.0 422.5L462.0 424.0L457.8 427.0L456.5 429.0L457.0 429.6L459.0 429.8L464.0 427.9L466.0 428.2L473.0 430.7L482.0 433.0L485.4 435.0L490.0 439.2L495.0 438.4L499.0 439.1L504.0 438.7L512.0 439.3L516.0 440.4L521.0 439.5L525.0 440.1L527.0 439.6L532.0 436.7L535.0 436.0L538.0 436.6L543.0 439.7L546.0 440.4L547.0 440.0L548.5 436.0L550.5 434.0L566.0 430.9L572.0 430.5L579.0 432.0L581.0 431.4L586.0 428.5L588.0 428.2L593.0 429.5L598.0 430.2L603.0 432.4L605.0 432.7L608.0 432.1L620.0 427.6L628.0 426.7L636.0 424.0L647.0 422.5L651.0 423.3L664.0 429.0L666.0 429.4L670.0 429.1L674.0 429.5L677.0 430.9L680.0 431.4L682.0 432.9L685.0 433.5L688.0 435.6L698.0 440.3L702.0 442.6L704.0 444.4L706.0 445.2L709.8 444.0L716.0 439.4L722.0 436.0L733.0 433.4L740.0 433.8L742.2 433.0L747.0 429.2L751.0 429.5L753.0 429.1L754.1 428.0L753.6 425.0L754.1 424.0L756.2 423.0L759.0 423.0L766.0 425.9L773.0 426.3L778.0 427.2L780.0 426.9L784.0 424.8L790.0 425.9M172.0 347.9L171.7 349.0L173.0 350.4L174.0 350.7L175.4 350.0L175.8 349.0L175.0 347.8L173.0 347.4L172.0 347.9M295.0 363.9L293.2 365.0L292.2 367.0L292.5 368.0L294.0 368.8L296.4 368.0L297.3 367.0L298.2 365.0L298.0 363.8L297.0 363.4L295.0 363.9M375.0 385.9L372.4 387.0L371.6 388.0L371.6 389.0L375.0 392.6L377.3 393.0L379.2 392.0L379.4 391.0L377.0 387.1L376.0 386.1L375.0 385.9M136.0 403.7L134.0 405.5L133.6 408.0L134.0 413.0L136.0 415.1L140.0 413.0L143.0 410.0L144.0 408.0L143.6 406.0L142.0 404.4L136.0 403.7M252.5 439.0L254.0 438.7L256.0 439.3L257.6 441.0L257.5 442.0L256.0 443.5L254.0 444.4L251.0 444.0L250.2 443.0L250.1 441.0L250.8 440.0L252.5 439.0M129.0 479.7L128.0 480.4L127.3 482.0L128.0 483.6L129.0 484.3L131.0 483.5L131.5 482.0L131.0 480.5L130.0 479.7L129.0 479.7M351.4 568.0L349.9 565.0L345.3 560.0L342.0 554.0L342.6 552.0L345.6 548.0L347.7 543.0L349.9 534.0L351.6 530.0L351.5 529.0L349.0 528.8L346.0 529.5L342.0 533.4L340.0 534.2L338.0 533.0L336.7 530.0L336.8 525.0L336.2 522.0L339.6 515.0L337.7 511.0L337.7 507.0L338.9 505.0L341.7 503.0L342.3 501.0L341.9 498.0L341.0 495.4L337.3 492.0L337.1 481.0L336.0 480.3L333.0 482.2L324.0 485.8L321.0 485.5L319.0 484.0L317.8 481.0L315.0 478.7L314.0 477.2L312.6 469.0L312.9 467.0L315.1 463.0L322.0 457.0L325.0 456.4L330.0 457.4L332.0 457.4L334.5 457.0L336.0 456.2L336.3 455.0L335.6 451.0L336.0 449.8L338.1 447.0L337.6 444.0L336.4 442.0L335.0 440.8L325.0 439.5L324.0 440.0L323.0 444.3L321.0 445.9L319.0 445.7L316.0 444.2L314.0 443.8L303.0 445.2L301.0 444.3L300.0 443.0L299.9 441.0L300.7 438.0L300.0 436.6L298.5 435.0L302.0 433.4L304.9 430.0L306.0 429.3L312.0 429.0L316.3 426.0L317.3 425.0L317.4 424.0L316.0 420.0L315.9 417.0L316.5 416.0L318.0 415.0L321.0 414.1L324.0 413.9L326.0 414.5L327.0 416.0L327.3 418.0L327.0 420.5L326.0 422.6L319.9 425.0L321.0 426.5L323.0 426.8L327.0 424.6L329.0 424.6L340.0 428.7L345.0 429.7L347.0 429.2L348.6 427.0L349.1 425.0L348.8 422.0L347.3 418.0L341.7 414.0L337.0 411.3L335.6 410.0L333.2 406.0L332.2 400.0L330.8 396.0L325.0 389.8L322.0 388.2L320.0 388.5L316.7 390.0L315.4 391.0L314.0 393.0L312.2 400.0L311.6 408.0L312.0 412.7L311.3 414.0L309.0 414.5L304.0 414.0L298.0 414.9L291.0 412.9L289.0 414.6L286.7 419.0L286.4 424.0L287.0 426.0L289.8 429.0L290.5 431.0L290.0 432.1L285.0 435.4L281.6 431.0L274.0 426.6L269.0 425.1L263.6 422.0L257.0 420.2L254.0 420.3L249.0 423.4L245.0 423.8L241.0 425.1L239.0 424.3L236.0 421.5L229.0 418.9L223.0 419.3L216.0 418.7L211.0 416.8L210.0 416.8L209.0 417.7L209.0 419.5L210.8 422.0L211.6 425.0L214.3 430.0L215.7 436.0L215.3 437.0L214.0 437.7L213.1 439.0L213.0 440.2L214.0 441.4L215.0 441.6L217.0 441.0L217.9 440.0L217.6 438.0L218.0 437.6L219.8 438.0L221.0 440.0L220.0 442.0L217.7 451.0L217.7 452.0L218.9 455.0L218.7 457.0L216.0 463.0L215.0 464.2L214.0 464.3L211.0 460.3L208.0 459.4L205.0 459.8L197.0 462.7L188.0 467.2L182.0 468.9L179.0 470.3L176.0 473.4L173.8 477.0L173.2 479.0L173.5 483.0L179.5 496.0L182.0 506.9L185.3 512.0L188.0 517.7L194.7 528.0L195.9 535.0L197.4 540.0L198.3 546.0L198.2 549.0L197.0 552.2L192.8 558.0L191.9 560.0L192.5 568.0M50.0 358.4L56.0 354.9L59.0 354.5L69.0 357.1L76.0 358.0L86.2 363.0L91.3 369.0L93.1 376.0L94.6 378.0L94.6 383.0L96.1 390.0L97.9 393.0L103.8 400.0L105.6 406.0L107.0 407.1L111.7 409.0L114.7 411.0L118.0 414.6L122.7 418.0L128.7 426.0L132.0 427.9L136.0 428.3L143.0 426.2L148.0 421.7L154.0 414.0L156.0 412.1L163.0 407.7L170.5 405.0L175.0 402.3L178.0 401.6L182.0 401.9L190.0 403.7L193.0 405.0L194.4 406.0L195.6 408.0L194.8 416.0L197.7 435.0L197.0 439.2L192.6 447.0L183.7 455.0L177.0 458.0L174.0 458.8L171.0 458.2L165.8 456.0L163.0 455.5L152.0 459.7L150.7 461.0L149.5 464.0L149.8 466.0L151.9 469.0L151.8 470.0L151.0 470.7L150.0 470.9L148.7 470.0L148.0 467.4L147.0 466.5L143.0 464.3L139.0 461.2L136.0 460.4L131.0 462.8L124.3 465.0L119.0 469.8L110.0 470.9L106.0 473.3L103.0 474.5L92.0 476.3L89.0 475.8L84.0 473.6L82.0 473.6L81.0 474.4L79.0 478.0L78.6 480.0L79.3 482.0L82.0 484.7L93.0 486.6L100.0 484.5L102.0 485.8L108.2 492.0L113.0 496.0L118.0 503.1L123.9 508.0L124.4 509.0L123.8 512.0L124.0 516.0L122.0 517.5L119.0 518.0L117.0 517.5L114.9 516.0L113.0 513.7L111.0 512.9L109.0 513.9L105.9 518.0L103.0 519.6L101.0 519.6L97.0 517.8L94.0 517.1L92.8 516.0L91.2 511.0L93.7 506.0L94.2 504.0L93.5 503.0L89.0 499.2L87.0 498.0L85.0 498.0L84.0 498.6L78.0 504.5L74.0 506.4L68.0 506.3L59.0 504.3L57.6 503.0L57.2 501.0L59.5 496.0L62.7 487.0L63.5 480.0L63.0 478.1L62.0 477.0L60.0 476.2L58.0 476.3L57.4 477.0L56.8 480.0L57.1 485.0L56.0 485.6L53.0 483.8L50.0 483.2M122.3 365.0L127.0 364.3L132.0 365.0L134.6 366.0L139.0 369.0L144.0 371.5L145.8 373.0L147.1 375.0L147.8 378.0L147.8 381.0L146.9 384.0L145.1 387.0L139.0 392.4L136.0 394.1L129.0 396.6L122.0 400.9L119.0 401.5L116.0 401.4L110.7 399.0L109.8 398.0L109.2 396.0L109.6 388.0L110.5 384.0L110.1 379.0L110.7 376.0L110.6 372.0L112.6 367.0L114.0 365.7L116.0 365.1L122.3 365.0M50.0 439.1L54.0 438.4L55.0 437.0L55.2 435.0L54.9 432.0L54.1 430.0L52.0 428.6L50.0 428.0M763.2 447.0L765.0 446.4L767.0 446.3L769.7 447.0L771.6 448.0L772.0 449.0L771.6 452.0L769.0 455.4L768.0 456.0L767.0 455.6L763.2 451.0L762.2 449.0L762.2 448.0L763.2 447.0M664.0 447.8L661.0 448.8L657.0 448.5L655.7 449.0L655.2 450.0L656.1 456.0L656.1 460.0L655.5 463.0L653.9 466.0L653.6 468.0L654.4 470.0L656.0 471.1L665.0 471.8L666.0 471.1L670.2 464.0L672.2 457.0L671.3 451.0L670.0 449.0L668.0 447.7L666.0 447.3L664.0 447.8M50.0 462.2L52.0 461.6L56.3 459.0L57.3 458.0L57.5 457.0L56.8 455.0L55.9 454.0L54.0 453.0L50.0 451.8M525.0 491.9L522.4 494.0L521.8 495.0L522.0 496.4L524.0 496.9L531.7 494.0L532.0 493.0L531.2 492.0L530.0 491.4L528.0 491.1L525.0 491.9M603.0 492.6L600.8 494.0L599.9 496.0L599.7 498.0L601.0 500.3L604.0 501.2L605.0 500.9L606.8 499.0L607.4 496.0L605.4 493.0L603.0 492.6M133.9 515.0L137.0 514.1L139.0 514.8L142.0 517.2L142.7 519.0L142.6 520.0L141.9 521.0L140.0 522.1L137.0 521.9L133.9 521.0L132.5 520.0L131.6 518.0L132.5 516.0L133.9 515.0M700.0 520.9L698.8 523.0L699.0 526.0L701.0 524.2L702.3 522.0L702.4 521.0L702.0 520.4L700.0 520.9M790.0 520.6L778.0 523.6L776.0 524.8L774.0 528.0L773.3 530.0L773.5 531.0L775.4 534.0L775.5 536.0L774.7 538.0L773.0 538.9L772.0 538.9L770.2 538.0L768.0 533.4L766.0 533.5L763.0 535.4L761.0 535.4L760.0 534.6L757.9 531.0L756.0 529.4L754.0 529.3L750.0 530.5L746.0 530.1L745.0 530.3L743.0 532.2L740.3 537.0L740.4 539.0L743.0 543.4L742.9 546.0L742.0 547.2L739.0 548.9L736.0 552.8L735.0 552.8L734.0 552.1L733.5 551.0L734.1 546.0L733.8 545.0L729.0 544.9L725.5 546.0L724.7 548.0L724.5 553.0L724.0 554.0L722.4 555.0L719.0 555.2L715.0 554.2L709.0 556.2L707.0 556.0L704.0 554.0L701.0 550.4L699.0 550.1L697.0 552.0L695.0 556.3L693.0 558.9L689.0 557.7L682.0 560.5L680.0 560.0L677.0 558.1L673.0 556.9L670.0 554.3L665.7 557.0L662.0 560.9L661.0 561.2L659.0 560.8L656.0 559.0L655.2 558.0L655.0 556.0L657.6 551.0L661.0 540.0L659.1 536.0L655.0 529.9L654.0 529.2L653.0 529.4L652.0 530.5L650.0 537.0L649.0 537.7L646.0 536.8L644.0 537.0L639.8 540.0L637.0 541.3L634.0 541.1L630.5 540.0L630.6 537.0L629.6 536.0L625.0 536.1L621.0 533.7L613.0 531.8L609.0 532.4L605.8 535.0L604.9 537.0L605.0 538.0L606.0 539.2L608.0 540.1L613.0 540.9L617.0 543.4L620.3 543.0L625.0 539.2L627.9 540.0L628.4 541.0L627.8 544.0L628.1 547.0L629.0 549.0L633.0 554.4L634.0 554.9L635.0 554.8L640.0 550.6L642.3 551.0L645.3 555.0L648.7 558.0L649.3 559.0L650.0 563.0L652.8 566.0L653.6 568.0M463.2 528.0L466.0 527.4L469.0 528.7L470.0 530.0L470.6 532.0L470.0 534.5L467.4 536.0L463.0 537.1L459.0 537.0L457.1 536.0L456.8 534.0L458.3 530.0L459.2 529.0L463.2 528.0M670.0 532.7L668.0 535.0L666.7 538.0L666.7 540.0L668.0 542.3L670.0 543.4L676.0 544.6L680.0 546.2L682.0 546.2L684.0 544.9L685.9 542.0L686.3 540.0L681.0 534.1L679.0 533.1L673.0 532.2L670.0 532.7M704.0 532.9L701.0 535.7L699.7 536.0L699.4 537.0L700.4 537.0L704.0 535.4L705.9 534.0L706.0 532.7L705.0 532.5L704.0 532.9M790.0 533.8L788.0 533.3L787.0 532.4L786.3 530.0L787.0 527.0L788.0 526.3L790.0 526.1M530.0 550.0L528.5 551.0L528.1 552.0L528.4 553.0L530.0 554.0L537.0 556.3L539.0 556.4L541.0 555.7L543.0 554.0L543.8 552.0L543.0 550.4L541.0 549.5L530.0 550.0M493.0 552.8L491.0 554.0L489.5 556.0L489.9 558.0L492.0 559.5L494.0 558.7L495.2 556.0L494.8 554.0L494.0 553.0L493.0 552.8M446.1 568.0L447.1 565.0L449.4 562.0L451.0 560.5L453.0 559.8L455.0 560.1L457.0 562.0L457.4 564.0L456.8 568.0M484.3 568.0L486.6 564.0L486.1 562.0L484.5 559.0L481.0 555.6L479.0 555.3L476.0 555.6L475.0 555.1L474.6 554.0L477.3 543.0L477.1 541.0L475.5 537.0L477.0 533.1L477.3 531.0L477.4 527.0L476.5 523.0L476.7 521.0L480.8 516.0L481.4 512.0L486.0 509.2L488.0 505.2L490.0 503.2L492.0 502.3L501.0 503.9L502.0 503.8L503.0 503.0L501.5 501.0L499.0 499.7L493.0 501.0L491.0 500.3L487.0 497.8L484.0 497.6L481.0 498.1L478.0 499.9L473.8 506.0L470.6 509.0L468.2 514.0L467.0 515.4L465.0 516.0L462.0 515.2L460.4 513.0L460.2 510.0L459.6 509.0L454.0 507.3L450.0 504.7L447.0 504.0L445.5 503.0L445.4 497.0L446.6 492.0L445.6 489.0L445.6 487.0L449.1 482.0L449.5 480.0L449.0 476.7L450.0 474.9L456.6 481.0L460.0 485.4L463.0 486.6L466.7 486.0L469.4 484.0L469.7 483.0L467.0 479.9L466.5 479.0L466.7 478.0L471.0 476.6L473.0 476.8L474.0 478.6L473.6 480.0L471.3 483.0L471.6 484.0L473.8 486.0L476.0 486.7L477.0 486.4L478.0 485.3L479.7 481.0L483.1 477.0L484.2 476.0L487.0 474.8L492.0 474.7L495.0 477.1L497.0 477.7L501.0 477.1L507.0 479.0L513.0 478.3L514.4 479.0L513.4 481.0L513.2 487.0L514.3 489.0L516.0 489.9L517.0 489.8L520.0 487.1L523.0 485.5L524.0 484.2L524.2 481.0L522.8 478.0L524.3 476.0L525.8 475.0L528.0 474.6L531.0 475.0L538.7 479.0L542.0 479.6L544.0 479.3L546.7 477.0L548.7 470.0L552.7 467.0L556.0 466.0L558.0 465.9L561.1 471.0L560.6 480.0L557.0 480.9L556.0 481.6L553.0 486.9L548.0 486.5L545.8 487.0L544.9 489.0L544.9 492.0L546.0 493.2L551.0 494.5L556.0 494.3L561.0 500.8L563.0 501.7L565.0 500.8L565.4 500.0L565.3 498.0L564.0 494.9L560.1 490.0L560.1 489.0L560.6 488.0L565.0 484.0L570.0 475.0L570.0 472.4L566.9 469.0L566.8 468.0L569.1 462.0L569.6 458.0L574.0 456.5L583.0 455.6L587.0 452.7L591.0 450.5L595.0 450.3L600.0 448.7L603.0 448.9L605.3 450.0L609.6 454.0L609.6 456.0L606.0 461.3L605.3 464.0L605.5 466.0L606.5 468.0L609.0 469.5L612.0 469.0L617.0 466.0L617.5 465.0L617.4 460.0L617.9 459.0L619.0 459.0L621.0 460.1L623.0 459.9L623.9 459.0L625.3 455.0L629.7 452.0L632.3 449.0L636.0 447.8L641.0 448.4L645.0 448.0L647.5 447.0L649.0 445.0L650.7 444.0L658.0 442.8L665.0 443.8L670.0 443.3L674.0 444.8L680.0 445.5L681.4 446.0L684.0 448.8L685.0 449.0L686.9 448.0L690.0 447.4L696.0 448.7L699.4 453.0L700.7 456.0L696.0 457.6L694.1 460.0L693.2 464.0L694.0 466.0L695.0 466.7L697.0 466.6L699.0 464.9L701.1 461.0L702.0 457.7L703.0 457.3L706.0 457.0L713.0 455.1L720.0 456.0L726.0 453.4L731.0 454.6L740.0 451.9L742.0 451.6L753.1 454.0L754.5 456.0L754.6 461.0L755.0 462.3L756.0 463.4L758.0 463.2L766.0 458.5L767.0 458.3L768.7 464.0L771.0 465.6L774.0 466.0L779.0 465.6L790.0 466.9M560.4 568.0L559.0 565.9L556.0 564.5L554.0 564.9L550.0 566.7L545.0 566.8L544.3 568.0M685.5 568.0L685.9 566.0L686.6 565.0L692.0 561.1L693.0 561.3L694.0 562.6L697.0 568.0" fill="none" stroke="#000" stroke-opacity="0.75" stroke-width="0.6" stroke-dasharray="3.5 7"/>
<g font-size="19" text-anchor="middle" fill="#000" stroke="#000" stroke-width="0.35">
<text transform="translate(268.6 199.8) rotate(0)" y="6.8">8</text>
<text transform="translate(309 192.5) rotate(-68)" y="6.8">10</text>
<text transform="translate(349.5 180) rotate(-88)" y="6.8">12</text>
<text transform="translate(414 177.5) rotate(0)" y="6.8">6</text>
<text transform="translate(453.5 170.6) rotate(0)" y="6.8">8</text>
<text transform="translate(493.4 153.5) rotate(-58)" y="6.8">10</text>
<text transform="translate(539 148) rotate(-28)" y="6.8">12</text>
<text transform="translate(558 190) rotate(4)" y="6.8">16</text>
<text transform="translate(460.5 209) rotate(10)" y="6.8">18</text>
<text transform="translate(508.5 217.5) rotate(35)" y="6.8">18</text>
<text transform="translate(310.6 236.3) rotate(-3)" y="6.8">20</text>
<text transform="translate(356.3 223.1) rotate(-5)" y="6.8">20</text>
<text transform="translate(552.8 268) rotate(75)" y="6.8">20</text>
<text transform="translate(242.5 262.5) rotate(-80)" y="6.8">22</text>
<text transform="translate(206 271) rotate(97)" y="6.8">22</text>
<text transform="translate(565.6 315) rotate(12)" y="6.8">22</text>
<text transform="translate(285.5 289.5) rotate(8)" y="6.8">24</text>
<text transform="translate(335 277.5) rotate(80)" y="6.8">24</text>
<text transform="translate(597 383) rotate(-27)" y="6.8">24</text>
<text transform="translate(157.8 302.9) rotate(82)" y="6.8">26</text>
<text transform="translate(343 320) rotate(4)" y="6.8">26</text>
<text transform="translate(657 420.5) rotate(-30)" y="6.8">26</text>
<text transform="translate(417 437.5) rotate(22)" y="6.8">28</text>
<text transform="translate(216.5 456.5) rotate(-85)" y="6.8">28</text>
<text transform="translate(193 510) rotate(62)" y="6.8">24</text>
</g>
<path d="M367.8 85.5L367.8 92.5L369.2 95.3L368.5 98.1L374.1 101.2L379.0 104.4L380.1 109.3L380.4 112.8L378.3 114.9L372.7 117.3L367.1 117.7L360.1 119.8L355.9 122.6L350.3 125.4L343.3 126.1L336.3 125.4L329.3 125.4L322.3 125.4L313.9 125.4L305.5 126.1L301.3 129.6L298.5 132.4L292.9 133.8L289.4 135.9L285.2 140.1L281.0 142.9L278.2 145.7L274.7 148.5L271.2 150.2L274.0 149.6L278.2 147.8L281.7 145.0L285.2 142.2L290.1 138.7L295.7 135.9L302.7 133.8L311.1 132.8L318.1 133.8L320.9 135.6L319.5 138.7L313.9 141.2L308.3 140.8L305.5 141.2L309.0 142.6L313.2 143.6L316.7 142.9L316.0 146.4L313.9 148.2L316.4 150.6L317.4 153.4L321.6 154.4L324.4 156.2L328.6 157.2L332.8 157.9L336.6 156.3L339.1 157.9L339.8 156.6L341.2 154.1L344.0 150.2L346.1 148.4L347.9 149.6L347.9 152.7L351.4 155.5L348.9 157.9L344.0 158.7L343.3 160.8L336.3 162.8L329.3 164.6L325.1 165.7L320.2 168.1L316.0 171.2L312.1 173.3L308.3 171.6L306.9 169.5L307.6 166.7L311.1 164.6L316.0 162.2L320.2 160.4L316.0 160.1L318.5 157.2L315.3 158.7L309.0 160.8L304.8 161.8L301.3 161.8L299.2 164.9L292.9 167.1L288.0 168.1L285.2 169.8L281.0 171.2L278.2 172.3L276.1 175.4L274.7 177.9L275.7 178.9L273.6 180.7L274.7 182.1L276.1 183.8L276.8 185.0L280.0 185.0L280.3 183.5L278.9 183.0L280.6 183.8L280.6 185.8L277.5 186.2L275.7 186.8L272.6 187.0L270.1 187.3L267.0 188.3L262.1 188.6L257.2 189.7L254.1 191.1L257.9 191.0L262.1 190.7L264.9 189.4L267.2 190.0L263.5 191.6L258.6 192.9L253.7 193.4L252.2 193.2L252.3 194.3L252.0 196.8L251.2 199.6L249.1 202.1L246.0 204.8L245.3 203.1L242.1 201.0L242.5 203.8L244.6 205.9L245.0 208.7L243.6 211.5L241.1 214.7L238.6 217.7L238.3 214.3L239.0 210.8L236.9 207.3L237.6 204.5L237.6 201.3L235.1 203.1L235.1 206.6L235.5 209.4L236.2 212.2L236.2 215.7L235.9 218.5L238.3 219.2L239.4 222.0L240.4 225.5L241.8 228.3L241.6 230.8L238.3 232.2L234.8 235.0L231.3 235.0L227.8 237.0L225.0 240.2L221.5 240.2L218.0 242.0L215.9 245.1L213.1 246.8L210.6 248.6L206.8 251.0L204.0 253.2L202.2 255.6L201.2 259.1L200.1 262.6L200.5 265.4L201.6 268.9L203.3 273.1L206.1 277.6L206.5 280.8L208.2 285.0L210.0 289.2L210.0 293.4L209.2 297.2L207.9 300.4L205.4 301.5L202.6 301.7L201.2 298.3L198.1 295.9L197.0 292.7L194.9 290.2L193.1 287.8L191.4 284.3L191.1 281.5L191.4 278.4L191.7 275.2L189.3 273.5L186.5 270.0L183.0 267.5L180.2 267.1L176.7 269.6L172.9 269.7L171.5 267.5L167.6 265.0L162.7 264.7L157.8 265.4L154.3 265.4L154.3 263.3L152.9 265.0L148.0 264.7L144.5 265.4L142.4 266.5L144.1 267.9L143.8 270.3L145.9 272.0L147.0 274.1L144.5 274.9L143.5 272.8L139.6 273.5L135.4 274.1L131.9 272.8L127.7 271.0L124.2 270.6L119.3 269.2L113.7 269.6L109.5 271.0L106.7 272.4L103.9 274.5L99.0 277.3L94.8 279.4L91.3 282.2L88.9 286.4L88.5 290.6L89.9 295.5L87.8 300.4L86.4 305.3L86.0 310.9L85.7 316.5L85.4 321.4L87.8 325.6L89.2 329.1L89.9 332.6L92.7 336.1L95.5 340.3L97.6 343.1L99.7 345.9L103.9 346.6L106.7 348.0L109.1 350.5L113.7 349.0L117.9 348.4L122.1 347.0L127.0 347.0L130.5 345.5L133.3 343.5L135.7 339.6L136.8 336.1L137.1 331.9L138.9 329.8L143.1 328.4L148.7 327.4L154.3 326.3L158.5 326.6L161.3 326.6L163.1 329.1L162.0 331.9L158.5 336.1L158.1 339.6L156.4 342.4L157.8 345.2L155.7 349.4L153.6 348.0L152.6 349.4L152.6 353.6L152.9 356.4L151.9 360.6L150.1 364.1L147.6 366.2L150.8 367.2L153.6 367.6L157.1 366.6L161.3 367.0L165.5 366.9L169.0 365.9L173.9 365.9L178.1 366.6L182.3 368.6L185.8 370.8L188.2 372.5L187.2 376.0L186.5 379.5L185.5 384.4L185.5 389.3L184.4 393.5L183.7 397.7L184.4 400.9L186.5 404.7L189.3 407.5L192.1 410.3L194.2 413.1L197.0 414.9L200.5 415.9L204.0 415.6L207.5 413.8L211.0 412.1L213.8 410.3L217.3 410.6L220.8 411.7L224.3 412.8L227.1 415.2L228.9 416.9L231.3 420.1L232.4 421.9L233.1 418.0L235.5 415.2L239.7 411.7L241.1 408.2L241.8 404.7L243.9 401.9L246.4 400.1L250.2 399.4L251.2 398.2L255.8 398.6L259.3 397.0L264.2 394.6L267.7 391.4L270.5 390.4L272.6 392.1L270.9 394.9L266.6 396.3L269.1 399.1L270.9 400.9L273.3 400.1L276.8 398.8L279.2 397.4L278.9 394.2L280.3 392.1L281.7 394.2L282.1 396.6L285.9 397.0L289.4 398.1L292.2 401.2L293.6 404.0L297.8 403.6L301.3 403.3L305.5 403.3L308.0 403.6L310.4 406.1L314.6 406.8L317.4 406.4L320.9 404.0L324.4 402.9L329.3 402.5L333.5 402.5L337.0 402.5L333.5 403.6L330.0 404.0L332.1 406.1L335.6 407.5L339.1 408.2L343.3 411.0L344.7 414.5L346.8 417.6L351.0 419.4L355.9 421.5L359.4 425.7L361.1 429.2L364.3 430.2L367.8 434.1L370.6 435.9L374.8 436.2L379.0 436.2L383.9 435.9L388.8 436.2L392.3 436.9L396.5 438.6L400.7 440.4L404.2 443.2L407.7 446.0L409.5 446.7L411.9 449.5L413.3 455.1L415.1 461.4L418.2 464.6L421.0 465.9L421.0 469.8L417.5 472.9L414.4 475.4L412.6 477.5L411.2 481.0L414.7 481.7L415.4 478.9L418.2 476.4L423.1 475.4L427.3 478.6L430.8 479.2L431.5 482.4L430.1 486.6L432.2 484.5L435.0 482.1L439.2 481.7L444.1 484.1L449.0 485.9L453.2 487.6L457.4 490.1L458.8 493.6L460.2 496.4L463.0 495.0L466.5 493.9L472.1 495.7L477.7 497.4L481.9 497.8L486.8 497.1L491.7 498.1L495.9 500.6L500.8 503.4L504.3 506.9L508.5 509.7L511.3 511.8L515.5 512.9L519.7 512.9L522.5 513.9L523.9 516.7L524.6 520.9L526.0 525.1L526.7 528.6L526.5 533.5L525.3 537.7L523.2 541.9L520.4 545.0L518.3 548.2L516.2 551.7L224.3 551.7L222.6 547.5L220.1 541.9L218.0 536.3L215.2 532.1L211.7 527.2L208.2 523.0L204.0 520.2L202.2 518.5L203.3 515.3L202.2 512.5L201.2 509.7L203.3 506.2L206.1 502.7L208.6 501.3L210.6 499.2L211.7 495.0L210.3 493.9L208.2 496.1L204.0 493.9L203.6 492.6L205.1 488.7L204.0 484.9L206.5 482.4L207.5 478.9L210.0 476.1L210.0 471.9L213.1 470.9L217.3 469.4L218.7 466.3L220.5 461.4L224.3 459.6L227.1 458.2L229.9 453.7L230.6 450.6L228.1 448.8L229.2 443.9L228.9 439.0L227.8 434.8L228.9 431.3L226.4 428.5L225.0 426.4L222.9 424.3L221.5 421.1L223.6 419.1L221.1 418.4L218.0 415.2L213.8 414.9L212.1 417.3L208.9 419.4L207.1 420.8L210.3 425.0L207.5 426.8L204.0 427.1L202.6 423.2L199.1 421.5L194.9 419.8L191.4 419.4L190.0 421.1L189.3 418.7L187.2 418.7L184.4 417.3L184.7 414.5L180.9 411.4L177.4 409.9L176.0 407.5L174.6 410.3L170.7 407.9L169.4 404.7L170.4 400.9L166.9 397.7L163.4 393.9L159.2 389.3L157.1 386.5L155.4 384.4L150.8 385.1L145.9 383.7L141.7 382.6L136.1 380.2L130.5 379.5L124.9 376.0L120.7 371.8L117.2 368.3L112.3 365.1L108.1 364.1L104.6 364.5L100.4 366.2L95.5 367.7L89.9 366.6L85.0 365.5L80.1 363.0L75.2 361.0L70.3 358.9L63.3 356.4L63.3 85.5L192.1 85.5L194.2 91.8L194.9 97.4L194.2 102.3L194.9 106.5L199.1 110.7L203.3 113.5L206.1 116.3L206.8 118.8L210.3 119.1L213.8 117.7L217.3 116.3L218.7 112.1L219.4 107.2L217.3 102.3L216.6 98.1L213.1 95.3L215.2 93.2L220.8 90.4L227.8 85.5ZM381.5 116.3L378.3 117.3L373.4 120.5L369.9 122.9L367.8 126.8L365.0 130.3L362.6 133.1L361.1 134.8L357.3 138.0L360.1 139.1L355.2 142.2L355.2 144.3L360.8 144.3L367.1 144.3L373.4 144.7L379.0 143.6L379.0 147.8L382.5 149.2L386.0 145.7L390.2 143.6L392.3 146.4L391.6 149.9L395.1 150.9L398.6 150.9L400.0 148.5L401.8 144.7L400.0 142.6L397.9 144.3L395.1 144.3L397.9 140.8L399.3 137.3L395.1 138.3L393.0 135.2L395.1 132.4L390.2 131.7L385.3 132.4L381.8 130.3L379.7 127.5L376.2 128.2L374.1 127.8L374.8 124.7L377.6 122.2L379.0 119.8L381.8 118.4ZM319.5 150.9L322.0 148.4L325.8 151.3L330.0 152.3L336.3 152.1L333.5 154.1L332.1 155.8L327.2 154.4L323.0 152.7ZM318.8 128.3L325.1 128.8L332.8 130.7L338.4 133.7L334.2 133.9L327.2 132.4L321.6 129.9ZM175.6 324.4L179.5 323.5L181.6 319.6L186.5 316.9L192.1 315.8L198.4 315.5L204.0 315.8L208.9 316.9L213.1 318.6L218.0 320.7L222.9 321.4L227.1 324.2L231.3 326.3L235.5 328.4L240.4 329.8L242.5 332.2L246.7 333.0L251.2 335.8L250.2 337.1L245.3 338.2L239.7 337.9L234.1 337.9L229.2 338.3L226.4 338.7L229.2 335.8L230.2 333.0L225.7 332.6L221.5 330.9L220.1 327.0L215.2 326.3L209.6 324.9L206.1 323.1L201.2 322.8L197.0 322.1L194.9 320.4L190.0 319.3L186.5 322.1L182.6 323.9L178.8 324.9ZM261.1 341.7L256.5 339.6L258.6 338.1L263.5 338.9L268.4 338.5L273.3 338.2L277.5 339.2L281.0 340.3L281.4 342.4L285.9 342.4L283.1 344.1L288.0 344.9L291.9 347.3L289.7 350.1L285.2 348.7L281.0 348.4L276.8 350.1L273.3 350.5L271.9 354.0L268.7 352.9L266.3 350.5L262.8 350.1L263.5 347.6L261.1 344.9ZM299.6 348.4L305.5 348.1L310.7 348.8L310.4 351.5L304.8 351.9L299.9 351.7ZM337.0 402.6L340.5 401.9L343.6 401.6L343.3 406.4L337.0 407.1L339.8 405.4L339.8 403.3ZM701.0 116.3L705.2 117.0L711.5 114.9L717.8 113.2L723.4 112.4L725.9 112.1L726.9 108.6L727.9 105.8L727.2 103.0L726.5 99.5L731.1 97.8L731.8 95.7L729.7 94.2L728.3 91.8L724.8 90.8L719.2 90.1L714.3 91.1L710.8 93.2L709.4 95.3L712.9 96.0L710.1 97.4L705.2 97.4L700.3 97.8L700.3 100.2L701.7 102.3L699.6 103.7L703.1 104.8L707.3 105.1L704.5 106.8L701.7 109.7L703.8 109.3L701.0 111.4L697.5 112.4L700.3 114.6L698.9 115.2ZM733.9 85.5L734.6 92.5L736.0 94.6L739.5 93.9L743.0 93.9L747.9 92.8L745.8 96.0L747.5 98.4L750.4 98.4L748.9 101.2L750.0 104.1L746.5 104.1L740.9 104.4L738.1 104.1L739.5 105.8L736.7 107.9L740.9 107.6L741.9 110.0L740.9 111.8L737.4 112.8L733.2 114.2L734.6 115.9L740.2 115.9L743.7 116.7L747.9 117.7L751.4 115.9L749.3 118.8L745.1 119.0L740.9 119.1L738.4 120.5L738.1 122.2L734.9 124.3L730.4 126.8L733.9 127.7L736.7 125.8L740.9 125.1L745.1 126.0L746.1 123.3L750.0 122.6L753.1 123.7L756.6 123.2L760.5 122.2L764.7 122.2L768.9 121.8L777.3 121.9L777.3 85.5ZM777.3 131.7L771.0 131.0L768.2 132.4L762.6 131.9L761.5 129.9L756.6 129.5L759.1 133.1L759.4 136.9L756.3 136.9L751.4 137.7L748.9 135.6L743.0 136.6L737.0 138.0L740.2 139.4L737.4 141.2L740.2 142.9L745.8 143.6L750.7 145.0L752.8 146.4L755.6 146.8L755.6 149.2L757.7 152.0L762.2 154.4L762.6 157.6L762.2 160.4L761.5 165.3L760.5 170.2L759.1 173.3L754.9 174.4L750.0 173.6L743.7 173.1L737.4 173.6L730.4 172.3L724.1 172.5L719.2 172.3L716.4 171.0L712.2 173.7L706.6 175.1L705.2 177.2L708.0 180.0L708.4 182.8L708.4 184.9L709.0 189.1L709.4 192.6L708.0 196.4L706.6 200.3L704.5 202.1L703.8 206.2L706.2 206.9L708.7 208.3L708.7 211.8L708.4 215.7L707.3 218.4L711.5 217.9L715.0 218.5L719.2 217.1L722.0 217.1L725.5 219.9L727.6 223.4L731.1 225.4L733.2 224.5L736.7 222.0L739.5 220.5L745.1 220.4L750.0 220.2L754.9 220.2L757.7 216.8L762.6 214.7L765.4 214.2L766.1 210.8L768.2 208.7L771.7 205.9L777.3 204.5L777.3 131.7ZM777.3 225.8L770.3 226.5L765.4 227.5L761.9 228.7L756.3 231.9L750.0 230.4L747.2 231.1L743.0 231.0L737.4 231.1L733.5 228.3L732.9 226.2L729.0 227.0L727.6 230.4L725.5 235.3L722.7 239.2L717.8 242.0L712.2 244.0L708.0 247.2L705.2 250.0L703.1 254.2L701.7 257.7L701.4 262.6L703.1 264.7L701.4 268.9L698.2 272.4L692.6 276.2L686.3 280.8L680.0 281.9L677.2 285.0L675.8 289.9L670.9 293.0L668.8 294.8L666.4 300.4L663.2 305.3L659.0 310.5L656.9 315.1L653.4 320.7L651.3 326.3L650.9 331.9L653.4 330.5L655.1 333.3L656.9 336.1L654.8 341.7L656.9 346.6L657.9 351.5L656.9 357.1L654.8 364.1L652.0 369.7L647.8 374.2L650.6 374.9L652.7 379.5L652.7 384.4L653.0 390.0L655.5 392.8L659.0 395.6L663.2 399.1L665.3 401.9L668.1 405.4L672.3 408.9L675.8 411.7L677.5 416.6L678.6 420.1L681.4 424.3L686.3 427.8L690.5 429.9L694.7 433.4L700.3 436.9L705.2 440.8L710.8 443.6L716.4 446.9L721.3 445.6L728.3 443.9L735.3 441.8L742.3 440.8L748.6 441.8L752.8 442.9L756.3 444.2L761.2 441.8L766.8 439.7L772.4 437.2L777.3 436.2Z" fill="#d4d4d6" stroke="#000" stroke-width="0.9" stroke-linejoin="round"/>
<path d="M125.6 150.2L131.2 149.6L134.7 148.8L137.5 151.3L143.1 149.6L147.3 148.8L151.5 146.1L155.7 145.2L154.3 147.1L151.1 149.2L154.3 149.6L157.8 152.0L162.7 152.3L167.6 150.9L172.5 150.6L175.3 150.1L176.0 152.0L178.8 152.0L178.1 148.8L176.4 145.0L175.3 141.8L169.7 141.8L166.2 137.7L162.7 136.0L157.1 135.6L152.9 134.5L152.2 136.9L148.0 138.3L145.2 139.1L143.1 141.5L138.2 143.2L133.3 145.7L129.1 148.2ZM157.5 185.6L155.7 181.4L155.4 176.5L156.4 171.6L157.8 167.4L154.6 165.7L154.3 164.6L157.1 162.2L160.6 158.3L164.1 156.3L169.0 155.7L173.9 154.9L177.1 156.6L175.6 157.6L175.3 159.7L171.8 161.4L171.1 163.9L167.2 164.6L165.1 168.8L165.1 172.3L166.6 176.5L166.9 180.7L164.8 183.8L162.0 185.6L159.2 186.2ZM177.1 156.6L180.2 155.5L183.7 154.8L187.9 154.1L192.8 154.4L198.4 155.2L203.3 155.8L207.5 158.3L210.3 161.8L211.7 163.9L209.6 166.0L204.0 164.9L202.6 162.5L199.1 160.8L201.2 164.6L198.4 168.1L198.1 173.0L195.6 175.8L193.1 176.5L192.5 173.0L191.4 169.8L188.6 169.2L185.8 171.2L183.0 171.9L183.7 169.8L186.9 167.4L187.2 163.9L186.1 161.1L181.6 158.7ZM186.1 185.5L190.7 187.3L196.3 187.0L200.5 185.6L206.1 183.5L211.7 181.1L216.6 178.6L218.0 177.3L213.8 177.4L208.2 177.9L204.0 178.9L199.1 180.7L194.2 182.8L190.0 183.5L188.2 183.2ZM190.0 181.1L192.8 181.1L193.1 178.9L190.7 179.3ZM211.7 174.4L216.6 174.8L222.2 173.9L227.8 174.5L232.7 174.1L236.2 172.7L236.9 169.5L234.8 167.8L229.9 169.5L225.7 169.6L219.4 170.2L214.5 171.9ZM92.4 124.7L95.9 122.6L96.9 118.4L93.4 114.9L91.3 112.1L89.9 107.9L86.4 104.4L84.3 100.9L78.0 100.2L75.9 104.4L80.1 107.2L82.9 111.4L87.8 114.2L89.9 118.4L91.3 121.9ZM82.2 126.1L83.6 123.3L80.8 120.5L79.4 117.0L75.2 114.2L72.4 113.5L75.9 117.7L77.3 121.2L79.4 124.7ZM71.7 115.6L66.8 113.5L66.8 105.1L70.3 106.5L71.0 111.4ZM256.5 169.5L257.6 165.3L257.9 162.2L256.5 162.8L256.1 166.7Z" fill="#00c8ff" stroke="#000" stroke-width="0.9" stroke-linejoin="round"/>
<path d="M269.5 400.5L270.9 402.2L272.6 405.4L273.3 409.6L271.6 413.1L268.1 413.8L266.0 410.3L266.3 406.1L268.1 403.3L268.4 401.2Z" fill="#ffa000" stroke="#000" stroke-width="0.7"/>
<path d="M221.9 349.4L225.0 348.0L230.6 348.7L235.5 350.1L236.9 352.2L232.7 352.3L229.9 353.5L225.7 352.4L222.9 351.1ZM263.5 347.6L260.0 348.4L255.1 347.6L250.9 347.0L249.1 349.0L253.0 351.1L255.8 350.1L260.7 350.5L262.8 350.1M152.2 348.0L148.4 352.2L146.2 352.8L133.3 352.8L133.3 356.8L130.1 356.8L137.5 362.7L137.1 365.0L128.1 365.0L124.9 370.8L125.2 375.6M414.7 481.7L414.0 485.2L416.1 489.4L423.1 490.1L428.0 488.7L430.8 487.6M217.6 291.3L222.2 290.6L225.0 291.0M226.1 289.2L229.9 291.3L231.3 293.4L229.9 296.2M233.1 299.0L236.2 301.1L237.2 304.6M240.1 305.0L242.9 308.5M243.2 312.0L246.4 317.2M233.4 306.0L236.9 309.5L239.7 313.0M249.9 317.9L253.0 321.4L250.9 322.1M258.2 320.6L261.1 321.0M254.4 329.8L259.0 329.1L257.9 330.9L254.4 329.8M263.1 324.9L269.8 325.2M227.5 302.1L229.9 302.1" fill="none" stroke="#000" stroke-width="0.7" stroke-linejoin="round"/>
<path d="M103.2 131.7L108.1 129.2L111.6 131.7L108.8 135.2L103.9 134.8ZM115.1 136.2L122.1 137.3L122.8 139.1L117.2 138.0Z" fill="#0a6a8a" stroke="#000" stroke-width="1"/>
<path d="M227.8 348.2L232.0 348.7L235.9 350.1L236.2 351.5L232.0 351.1L227.8 350.5ZM222.2 301.5L224.3 301.1L226.1 304.6L227.1 308.8L225.0 309.5L222.9 306.0ZM197.0 105.8L203.3 105.1L206.1 107.2L201.2 108.2Z" fill="#d4d4d6" stroke="#000" stroke-width="0.5"/>
<path d="M315.6 349.0a1.1 0.9 0 1 0 2.2 0a1.1 0.9 0 1 0 -2.2 0M327.9 350.8a1.1 0.9 0 1 0 2.2 0a1.1 0.9 0 1 0 -2.2 0M329.6 356.0a1.1 0.9 0 1 0 2.2 0a1.1 0.9 0 1 0 -2.2 0M336.6 357.8a1.1 0.9 0 1 0 2.2 0a1.1 0.9 0 1 0 -2.2 0M338.4 363.8a1.1 0.9 0 1 0 2.2 0a1.1 0.9 0 1 0 -2.2 0M339.8 369.7a1.1 0.9 0 1 0 2.2 0a1.1 0.9 0 1 0 -2.2 0M342.2 374.9a1.1 0.9 0 1 0 2.2 0a1.1 0.9 0 1 0 -2.2 0M342.4 380.2a1.1 0.9 0 1 0 2.2 0a1.1 0.9 0 1 0 -2.2 0M340.8 384.8a1.1 0.9 0 1 0 2.2 0a1.1 0.9 0 1 0 -2.2 0M352.4 385.4a1.1 0.9 0 1 0 2.2 0a1.1 0.9 0 1 0 -2.2 0M337.3 392.8a1.1 0.9 0 1 0 2.2 0a1.1 0.9 0 1 0 -2.2 0M344.3 398.8a1.1 0.9 0 1 0 2.2 0a1.1 0.9 0 1 0 -2.2 0M593.5 357.8a1.1 0.9 0 1 0 2.2 0a1.1 0.9 0 1 0 -2.2 0M599.1 361.3a1.1 0.9 0 1 0 2.2 0a1.1 0.9 0 1 0 -2.2 0M608.9 360.2a1.1 0.9 0 1 0 2.2 0a1.1 0.9 0 1 0 -2.2 0M609.6 364.8a1.1 0.9 0 1 0 2.2 0a1.1 0.9 0 1 0 -2.2 0M604.0 372.1a1.1 0.9 0 1 0 2.2 0a1.1 0.9 0 1 0 -2.2 0M598.8 373.2a1.1 0.9 0 1 0 2.2 0a1.1 0.9 0 1 0 -2.2 0M606.8 371.1a1.1 0.9 0 1 0 2.2 0a1.1 0.9 0 1 0 -2.2 0M674.0 274.1a1.1 0.9 0 1 0 2.2 0a1.1 0.9 0 1 0 -2.2 0M671.2 278.7a1.1 0.9 0 1 0 2.2 0a1.1 0.9 0 1 0 -2.2 0M660.0 281.9a1.1 0.9 0 1 0 2.2 0a1.1 0.9 0 1 0 -2.2 0M653.0 279.4a1.1 0.9 0 1 0 2.2 0a1.1 0.9 0 1 0 -2.2 0M644.2 276.6a1.1 0.9 0 1 0 2.2 0a1.1 0.9 0 1 0 -2.2 0M648.8 280.8a1.1 0.9 0 1 0 2.2 0a1.1 0.9 0 1 0 -2.2 0M643.2 283.2a1.1 0.9 0 1 0 2.2 0a1.1 0.9 0 1 0 -2.2 0M650.5 248.2a1.1 0.9 0 1 0 2.2 0a1.1 0.9 0 1 0 -2.2 0M590.7 212.9a1.1 0.9 0 1 0 2.2 0a1.1 0.9 0 1 0 -2.2 0M578.8 206.6a1.1 0.9 0 1 0 2.2 0a1.1 0.9 0 1 0 -2.2 0M571.1 208.3a1.1 0.9 0 1 0 2.2 0a1.1 0.9 0 1 0 -2.2 0M568.3 207.3a1.1 0.9 0 1 0 2.2 0a1.1 0.9 0 1 0 -2.2 0M572.9 206.9a1.1 0.9 0 1 0 2.2 0a1.1 0.9 0 1 0 -2.2 0M550.8 201.3a1.1 0.9 0 1 0 2.2 0a1.1 0.9 0 1 0 -2.2 0M593.5 218.7a1.1 0.9 0 1 0 2.2 0a1.1 0.9 0 1 0 -2.2 0M131.5 481.7a1.1 0.9 0 1 0 2.2 0a1.1 0.9 0 1 0 -2.2 0M129.4 479.6a1.1 0.9 0 1 0 2.2 0a1.1 0.9 0 1 0 -2.2 0M136.4 481.7a1.1 0.9 0 1 0 2.2 0a1.1 0.9 0 1 0 -2.2 0M143.4 483.1a1.1 0.9 0 1 0 2.2 0a1.1 0.9 0 1 0 -2.2 0M133.6 479.2a1.1 0.9 0 1 0 2.2 0a1.1 0.9 0 1 0 -2.2 0M321.2 400.5a1.1 0.9 0 1 0 2.2 0a1.1 0.9 0 1 0 -2.2 0M286.9 392.4a1.1 0.9 0 1 0 2.2 0a1.1 0.9 0 1 0 -2.2 0M279.5 390.0a1.1 0.9 0 1 0 2.2 0a1.1 0.9 0 1 0 -2.2 0M291.1 392.4a1.1 0.9 0 1 0 2.2 0a1.1 0.9 0 1 0 -2.2 0M197.3 389.6a1.1 0.9 0 1 0 2.2 0a1.1 0.9 0 1 0 -2.2 0M210.3 339.6a1.1 0.9 0 1 0 2.2 0a1.1 0.9 0 1 0 -2.2 0M200.5 342.4a1.1 0.9 0 1 0 2.2 0a1.1 0.9 0 1 0 -2.2 0M189.6 325.6a1.1 0.9 0 1 0 2.2 0a1.1 0.9 0 1 0 -2.2 0M160.9 334.7a1.1 0.9 0 1 0 2.2 0a1.1 0.9 0 1 0 -2.2 0M340.8 145.7a1.1 0.9 0 1 0 2.2 0a1.1 0.9 0 1 0 -2.2 0M349.2 170.0a1.1 0.9 0 1 0 2.2 0a1.1 0.9 0 1 0 -2.2 0" fill="none" stroke="#000" stroke-width="0.6"/>
<path d="M91.7 240.2a1 0.8 0 1 0 2 0a1 0.8 0 1 0 -2 0M192.5 241.6a1 0.8 0 1 0 2 0a1 0.8 0 1 0 -2 0M174.3 261.9a1 0.8 0 1 0 2 0a1 0.8 0 1 0 -2 0M203.4 288.9a1 0.8 0 1 0 2 0a1 0.8 0 1 0 -2 0" fill="#000"/>
<path d="M764.0 415.2L761.9 418.0L766.1 419.4L763.3 421.5L767.5 423.6L765.4 426.4L768.9 428.5L767.1 430.6L770.3 432.4L770.6 434.1M766.1 419.4L769.6 418.0L771.7 420.1" fill="none" stroke="#000" stroke-width="1.3" stroke-linejoin="round"/>
<path d="M347.5 102.7L353.1 101.2L358.0 99.8L362.9 98.8L367.1 98.1" fill="none" stroke="#083a4a" stroke-width="1.7" stroke-linecap="round"/>
<path d="M707.6 171.6L718.6 166.6L719.8 168.8" fill="none" stroke="#000" stroke-width="2"/>
<path d="M140 92V547M210 92V547M280 92V547M350 92V547M420 92V547M490 92V547M560 92V547M630 92V547M700 92V547M70 127H770M70 197H770M70 267H770M70 337H770M70 407H770M70 477H770M70 547H770" stroke="#000" stroke-opacity="0.38" stroke-width="1.1" fill="none"/>
</g>
<rect x="70" y="92" width="700" height="455" fill="none" stroke="#000" stroke-width="1.2"/>
<path d="M70 77V92M70 547V562M140 77V92M140 547V562M210 77V92M210 547V562M280 77V92M280 547V562M350 77V92M350 547V562M420 77V92M420 547V562M490 77V92M490 547V562M560 77V92M560 547V562M630 77V92M630 547V562M700 77V92M700 547V562M770 77V92M770 547V562M55 127H70M770 127H785M55 197H70M770 197H785M55 267H70M770 267H785M55 337H70M770 337H785M55 407H70M770 407H785M55 477H70M770 477H785M55 547H70M770 547H785M55 547H70M770 547H785" stroke="#000" stroke-width="1.2" fill="none"/>
<text x="44" y="132.7" font-size="16" text-anchor="end">50N</text>
<text x="44" y="202.7" font-size="16" text-anchor="end">40N</text>
<text x="44" y="272.7" font-size="16" text-anchor="end">30N</text>
<text x="44" y="342.7" font-size="16" text-anchor="end">20N</text>
<text x="44" y="412.7" font-size="16" text-anchor="end">10N</text>
<text x="44" y="482.7" font-size="16" text-anchor="end">0</text>
<text x="44" y="552.7" font-size="16" text-anchor="end">10S</text>
<text x="70" y="586.6" font-size="16" text-anchor="middle">100W</text>
<text x="140" y="586.6" font-size="16" text-anchor="middle">90W</text>
<text x="210" y="586.6" font-size="16" text-anchor="middle">80W</text>
<text x="280" y="586.6" font-size="16" text-anchor="middle">70W</text>
<text x="350" y="586.6" font-size="16" text-anchor="middle">60W</text>
<text x="420" y="586.6" font-size="16" text-anchor="middle">50W</text>
<text x="490" y="586.6" font-size="16" text-anchor="middle">40W</text>
<text x="560" y="586.6" font-size="16" text-anchor="middle">30W</text>
<text x="630" y="586.6" font-size="16" text-anchor="middle">20W</text>
<text x="700" y="586.6" font-size="16" text-anchor="middle">10W</text>
<text x="770" y="586.6" font-size="16" text-anchor="middle">0</text>
<text x="420.5" y="75.5" font-size="20.6" font-weight="bold" text-anchor="middle">NWS National Hurricane Center (NCEP/NOAA)</text>
<text x="420" y="610" font-size="16.5" font-weight="bold" text-anchor="middle">Ocean Analysis - Reynolds Daily Sea Surface Temperature (C) - valid: 2026 - 04 - 13</text>
<rect x="111.00" y="627" width="19.58" height="40.5" fill="#00c8ff"/>
<rect x="130.28" y="627" width="19.58" height="40.5" fill="#00ebff"/>
<rect x="149.56" y="627" width="19.58" height="40.5" fill="#1ef5ff"/>
<rect x="168.84" y="627" width="19.58" height="40.5" fill="#3cfaff"/>
<rect x="188.12" y="627" width="19.58" height="40.5" fill="#64faff"/>
<rect x="207.41" y="627" width="19.58" height="40.5" fill="#8cfaff"/>
<rect x="226.69" y="627" width="19.58" height="40.5" fill="#82fadc"/>
<rect x="245.97" y="627" width="19.58" height="40.5" fill="#6efaaa"/>
<rect x="265.25" y="627" width="19.58" height="40.5" fill="#46f564"/>
<rect x="284.53" y="627" width="19.58" height="40.5" fill="#1eeb28"/>
<rect x="303.81" y="627" width="19.58" height="40.5" fill="#00eb00"/>
<rect x="323.09" y="627" width="19.58" height="40.5" fill="#28f000"/>
<rect x="342.38" y="627" width="19.58" height="40.5" fill="#46f200"/>
<rect x="361.66" y="627" width="19.58" height="40.5" fill="#6ef500"/>
<rect x="380.94" y="627" width="19.58" height="40.5" fill="#96f700"/>
<rect x="400.22" y="627" width="19.58" height="40.5" fill="#befa00"/>
<rect x="419.50" y="627" width="19.58" height="40.5" fill="#d7fc00"/>
<rect x="438.78" y="627" width="19.58" height="40.5" fill="#e1fd00"/>
<rect x="458.06" y="627" width="19.58" height="40.5" fill="#ebff00"/>
<rect x="477.34" y="627" width="19.58" height="40.5" fill="#f5ff00"/>
<rect x="496.62" y="627" width="19.58" height="40.5" fill="#ffff00"/>
<rect x="515.91" y="627" width="19.58" height="40.5" fill="#fff000"/>
<rect x="535.19" y="627" width="19.58" height="40.5" fill="#ffdc00"/>
<rect x="554.47" y="627" width="19.58" height="40.5" fill="#ffbe00"/>
<rect x="573.75" y="627" width="19.58" height="40.5" fill="#ffaf00"/>
<rect x="593.03" y="627" width="19.58" height="40.5" fill="#ffa000"/>
<rect x="612.31" y="627" width="19.58" height="40.5" fill="#ff8c00"/>
<rect x="631.59" y="627" width="19.58" height="40.5" fill="#ff7300"/>
<rect x="650.88" y="627" width="19.58" height="40.5" fill="#ff5f00"/>
<rect x="670.16" y="627" width="19.58" height="40.5" fill="#ff4b00"/>
<rect x="689.44" y="627" width="19.58" height="40.5" fill="#ff3200"/>
<rect x="708.72" y="627" width="19.58" height="40.5" fill="#ff1900"/>
<path d="M130.28 627V667.5M149.56 627V667.5M168.84 627V667.5M188.12 627V667.5M207.41 627V667.5M226.69 627V667.5M245.97 627V667.5M265.25 627V667.5M284.53 627V667.5M303.81 627V667.5M323.09 627V667.5M342.38 627V667.5M361.66 627V667.5M380.94 627V667.5M400.22 627V667.5M419.50 627V667.5M438.78 627V667.5M458.06 627V667.5M477.34 627V667.5M496.62 627V667.5M515.91 627V667.5M535.19 627V667.5M554.47 627V667.5M573.75 627V667.5M593.03 627V667.5M612.31 627V667.5M631.59 627V667.5M650.88 627V667.5M670.16 627V667.5M689.44 627V667.5M708.72 627V667.5" stroke="#000" stroke-opacity="0.75" stroke-width="0.8" fill="none"/>
<rect x="111.0" y="627" width="617" height="40.5" fill="none" stroke="#000" stroke-opacity="0.6" stroke-width="0.8"/>
<text x="130.3" y="694.3" font-size="18.5" text-anchor="middle">5</text>
<text x="226.7" y="694.3" font-size="18.5" text-anchor="middle">10</text>
<text x="323.1" y="694.3" font-size="18.5" text-anchor="middle">15</text>
<text x="419.5" y="694.3" font-size="18.5" text-anchor="middle">20</text>
<text x="515.9" y="694.3" font-size="18.5" text-anchor="middle">25</text>
<text x="612.3" y="694.3" font-size="18.5" text-anchor="middle">30</text>
<text x="708.7" y="694.3" font-size="18.5" text-anchor="middle">35</text>
<text x="774.5" y="724" font-size="13.72" text-anchor="end">Data Source: National Climatic Data Center (NCDC/NOAA)</text>
<defs><clipPath id="nd"><circle cx="40.7" cy="41.0" r="25.6"/></clipPath>
<path id="nt" d="M14.98 48.86A26.9 26.9 0 0 1 40.70 14.10A26.9 26.9 0 0 1 65.98 50.20"/>
<path id="nb" d="M13.26 52.09A29.6 29.6 0 0 0 40.70 70.60A29.6 29.6 0 0 0 67.74 53.04"/>
</defs>
<g clip-path="url(#nd)"><rect x="10" y="10" width="62" height="62" fill="#1e9df1"/>
<path d="M13.5 34.6L18.5 23.5C26 32 34 41 42 44.3C50 41 56 32 61.5 23.5L65.5 29C60 35.5 55.5 41 50.5 44.8C46 47.6 41 49.2 32.6 50C35 49 37 48 38.2 47.2C32 42 24 35.2 13.5 34.6Z" fill="#fff"/>
<path d="M10 10H72V24.6H60.8C56 32 50 41 42 44.3C34 41 26 32 19.6 25L10 25Z" fill="#1b1b7a"/>
</g>
<text x="39.9" y="30.9" font-size="9.2" font-weight="bold" fill="#fff" text-anchor="middle" textLength="20.6" lengthAdjust="spacingAndGlyphs">NOAA</text>
<text font-size="3.3" font-weight="bold" fill="#2d2d8c" opacity="0.9"><textPath href="#nt" textLength="100" lengthAdjust="spacing">NATIONAL OCEANIC AND ATMOSPHERIC ADMINISTRATION</textPath></text>
<text font-size="3.3" font-weight="bold" fill="#2d2d8c" opacity="0.9"><textPath href="#nb" textLength="68" lengthAdjust="spacing">U.S. DEPARTMENT OF COMMERCE</textPath></text>
<circle cx="63.1" cy="15.6" r="1" fill="#6aa05a"/>
<defs><clipPath id="wd"><circle cx="760.6" cy="40.0" r="18.8"/></clipPath>
<path id="wt" d="M747.96 57.39A21.5 21.5 0 0 1 760.60 18.50A21.5 21.5 0 0 1 772.62 57.82"/></defs>
<g clip-path="url(#wd)"><rect x="740" y="20" width="42" height="42" fill="#3aa5e4"/>
<path d="M760.6 46.0L738.0 31.8L740.0 27.6ZM760.6 46.0L743.3 23.3L746.8 20.3ZM760.6 46.0L751.6 17.7L756.0 16.4ZM760.6 46.0L761.4 16.0L766.0 16.6ZM760.6 46.0L771.1 18.4L775.0 20.8ZM760.6 46.0L779.0 24.6L781.6 28.4ZM760.6 46.0L783.7 33.4L784.5 37.9Z" fill="#8fd0f2"/>
<path d="M740 47C746 45 752 49 760 50C768 51 774 46 782 46V53C776 52 770 56 762 55C754 54 748 51 740 53Z" fill="#fff"/>
</g>
<path d="M741 47.5C738 46 738.3 41.5 741 40.5C739.5 37 741.5 33.5 745.5 33.5C746 30.5 750 29 753 30.5C755 28 759.5 28 761.5 29.5C763 27 768 26.5 770.5 28.5C773.5 27.5 777 29.5 777 32.5C780.5 32.5 782.5 36 780.5 39C782 41.5 780.5 45 777.5 45.5C777 48.5 772.5 49.5 770 48C768 50.5 762.5 50.5 760.5 48.5C758 51 752.5 51 750.5 49C748 50.5 743 50.5 741 47.5Z" fill="#1616a0"/>
<path d="M746.2 24.2L756.5 28.5L762.8 36.2L760.2 36.6L767 43.2L764.8 43.8L774.6 55.5L762.4 46.6L764.6 46L757.4 39.4L759.8 38.8L753.6 31.4Z" fill="#fff" stroke="#1a1aa6" stroke-width="0.5" stroke-linejoin="round"/>
<text font-size="9.6" font-weight="bold" fill="#ee1c25" stroke="#ee1c25" stroke-width="0.25"><textPath href="#wt" textLength="110" lengthAdjust="spacingAndGlyphs">NATIONAL WEATHER SERVICE</textPath></text>
<path d="M760.20 63.60L760.70 64.91L762.10 64.98L761.01 65.86L761.38 67.22L760.20 66.45L759.02 67.22L759.39 65.86L758.30 64.98L759.70 64.91Z" fill="#ee1c25"/>
<circle cx="753" cy="64.8" r="0.9" fill="#2a2ab0"/><circle cx="767.6" cy="64.8" r="0.9" fill="#2a2ab0"/>
</svg></body></html>
